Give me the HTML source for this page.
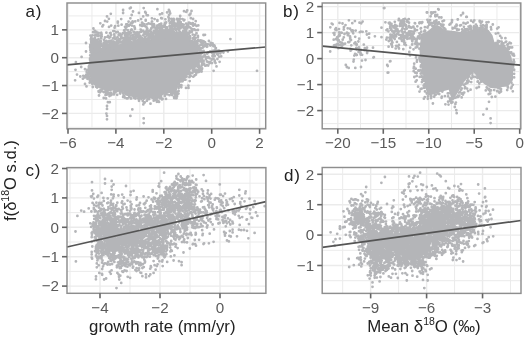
<!DOCTYPE html>
<html><head><meta charset="utf-8"><style>
html,body{margin:0;padding:0;background:#fff;width:525px;height:337px;overflow:hidden}
svg{display:block;filter:blur(0.4px)}
text{font-family:'Liberation Sans',sans-serif}
</style></head><body>
<svg width="525" height="337" viewBox="0 0 525 337">
<rect width="525" height="337" fill="#fff"/>
<rect x="67" y="3" width="198.70" height="125.80" fill="#fff"/>
<line x1="91.95" y1="3.00" x2="91.95" y2="128.80" stroke="#EBEBEB" stroke-width="1.0" />
<line x1="139.85" y1="3.00" x2="139.85" y2="128.80" stroke="#EBEBEB" stroke-width="1.0" />
<line x1="187.75" y1="3.00" x2="187.75" y2="128.80" stroke="#EBEBEB" stroke-width="1.0" />
<line x1="235.65" y1="3.00" x2="235.65" y2="128.80" stroke="#EBEBEB" stroke-width="1.0" />
<line x1="67.00" y1="15.92" x2="265.70" y2="15.92" stroke="#EBEBEB" stroke-width="1.0" />
<line x1="67.00" y1="43.78" x2="265.70" y2="43.78" stroke="#EBEBEB" stroke-width="1.0" />
<line x1="67.00" y1="71.62" x2="265.70" y2="71.62" stroke="#EBEBEB" stroke-width="1.0" />
<line x1="67.00" y1="99.48" x2="265.70" y2="99.48" stroke="#EBEBEB" stroke-width="1.0" />
<line x1="67.00" y1="127.33" x2="265.70" y2="127.33" stroke="#EBEBEB" stroke-width="1.0" />
<line x1="68.00" y1="3.00" x2="68.00" y2="128.80" stroke="#EBEBEB" stroke-width="1.4" />
<line x1="115.90" y1="3.00" x2="115.90" y2="128.80" stroke="#EBEBEB" stroke-width="1.4" />
<line x1="163.80" y1="3.00" x2="163.80" y2="128.80" stroke="#EBEBEB" stroke-width="1.4" />
<line x1="211.70" y1="3.00" x2="211.70" y2="128.80" stroke="#EBEBEB" stroke-width="1.4" />
<line x1="259.60" y1="3.00" x2="259.60" y2="128.80" stroke="#EBEBEB" stroke-width="1.4" />
<line x1="67.00" y1="29.85" x2="265.70" y2="29.85" stroke="#EBEBEB" stroke-width="1.4" />
<line x1="67.00" y1="57.70" x2="265.70" y2="57.70" stroke="#EBEBEB" stroke-width="1.4" />
<line x1="67.00" y1="85.55" x2="265.70" y2="85.55" stroke="#EBEBEB" stroke-width="1.4" />
<line x1="67.00" y1="113.40" x2="265.70" y2="113.40" stroke="#EBEBEB" stroke-width="1.4" />
<g fill="#B4B5B8"><polygon points="91.0,46.0 100.0,48.0 106.0,47.0 115.0,45.0 126.0,43.0 146.0,41.0 156.0,37.0 166.0,33.0 176.0,33.0 186.0,36.0 191.0,40.0 195.0,44.0 198.0,48.0 199.5,56.0 200.0,66.0 190.8,69.8 188.9,74.6 184.1,77.4 179.3,81.2 177.4,87.0 176.5,92.7 175.0,96.0 171.7,93.0 167.9,93.0 166.0,93.0 157.4,99.0 153.6,99.5 146.0,97.0 141.2,100.5 138.4,98.0 132.7,97.0 125.0,95.5 123.1,91.0 114.6,90.0 108.9,91.5 107.0,93.0 104.1,90.0 97.4,87.5 92.7,84.0 90.8,79.0 88.0,73.0 87.5,66.0 91.0,60.0 91.0,45.0" fill="#B4B5B8"/><path d="M87.1 69.9h0M193.3 76.7h0M105.5 45.0h0M199.1 66.9h0M177.0 96.4h0M109.2 45.6h0M113.4 44.7h0M128.9 42.6h0M189.7 81.1h0M110.3 44.5h0M90.9 57.6h0M206.8 65.2h0M98.7 91.8h0M82.9 78.7h0M113.9 94.4h0M124.8 42.6h0M91.4 43.3h0M86.2 74.7h0M91.7 41.0h0M202.6 47.8h0M194.6 43.4h0M98.2 44.7h0M91.0 56.6h0M90.5 59.7h0M202.1 68.4h0M202.0 69.1h0M194.5 71.6h0M194.8 70.7h0M192.4 73.0h0M139.2 41.1h0M171.3 94.0h0M110.7 94.5h0M116.7 90.6h0M90.6 55.8h0M189.1 74.3h0M186.6 76.6h0M99.9 46.3h0M118.7 42.8h0M190.7 76.1h0M125.3 41.1h0M110.8 44.5h0M123.6 40.1h0M195.4 71.0h0M83.3 75.8h0M196.0 74.6h0M178.6 87.7h0M109.8 43.5h0M178.6 90.9h0M177.1 95.0h0M97.1 87.6h0M109.5 96.0h0M199.3 71.7h0M87.0 75.2h0M199.1 41.1h0M85.0 83.9h0M143.3 104.4h0M86.7 71.9h0M97.9 46.1h0M181.4 85.2h0M202.1 59.0h0M121.9 41.7h0M189.4 77.2h0M158.4 101.2h0M199.1 69.3h0M113.7 41.6h0M103.6 46.2h0M105.2 45.0h0M195.3 69.7h0M86.5 86.4h0M199.3 46.0h0M188.4 85.7h0M90.8 49.5h0M201.6 71.5h0M175.6 98.0h0M99.0 95.5h0M196.4 72.9h0M107.9 92.8h0M109.4 45.6h0M159.0 101.9h0M115.7 90.2h0M100.5 89.9h0M110.3 45.3h0M192.8 41.7h0M199.9 41.1h0M202.7 64.2h0M97.0 42.9h0M150.5 103.7h0M200.1 61.0h0M176.6 98.1h0M198.7 72.1h0M203.4 64.4h0M196.8 45.3h0M201.6 44.4h0M130.3 40.4h0M200.1 67.7h0M98.4 47.6h0M91.4 45.7h0M126.8 98.4h0M140.1 40.3h0M191.8 40.8h0M87.1 77.6h0M124.8 41.4h0M167.4 94.3h0M200.7 40.4h0M115.5 92.2h0M92.8 87.0h0M200.4 55.5h0M196.1 44.7h0M199.5 50.4h0M114.0 45.0h0M195.3 44.2h0M90.5 47.7h0M90.8 52.3h0M105.1 91.6h0M90.3 45.0h0M113.6 41.6h0M160.0 98.3h0M199.9 61.4h0M109.4 45.3h0M114.0 91.5h0M200.8 44.7h0M93.1 45.3h0M172.1 95.0h0M87.6 72.9h0M85.0 69.2h0M204.3 45.2h0M199.5 69.6h0M111.9 44.3h0M99.9 44.2h0M202.1 62.1h0M107.0 46.7h0M105.4 92.6h0M99.3 44.0h0M93.2 41.9h0M110.7 92.7h0M201.8 44.7h0M91.2 42.0h0M201.6 65.7h0M197.4 70.7h0M190.3 72.7h0M184.3 78.0h0M111.3 95.1h0M117.2 94.8h0M101.3 44.1h0M166.0 98.9h0M201.9 53.0h0M103.7 92.1h0M85.5 76.1h0M93.1 42.7h0M104.9 45.3h0M99.1 46.0h0M164.8 95.9h0M200.2 56.6h0M149.2 99.1h0M175.6 95.0h0M199.7 55.0h0M139.0 100.8h0M123.8 95.4h0M169.5 95.2h0M90.2 55.3h0M105.5 95.1h0M96.3 45.8h0M184.0 78.4h0M123.5 96.0h0M138.3 98.4h0M102.1 46.3h0M106.5 93.3h0M103.8 46.1h0M105.8 45.1h0M200.9 53.1h0M190.7 73.3h0M138.9 99.2h0M98.9 47.3h0M124.8 97.5h0M144.7 102.5h0M131.0 98.5h0M146.9 100.8h0M182.1 80.8h0M200.6 52.9h0M178.6 87.9h0M165.4 94.1h0M177.3 92.3h0M193.6 69.2h0M200.3 55.4h0M155.6 99.7h0M144.6 98.2h0M182.3 80.3h0M108.8 93.1h0M121.7 91.1h0M172.2 93.8h0M92.5 45.8h0M113.5 93.3h0M89.8 78.8h0M182.2 79.8h0M89.8 80.1h0M149.0 98.3h0M108.4 46.3h0M200.4 58.2h0M183.2 78.3h0M184.2 79.6h0M89.3 76.9h0M182.1 79.3h0M111.5 45.7h0M181.3 87.3h0M90.3 46.7h0M129.2 97.0h0M87.4 78.8h0M197.6 46.3h0M156.3 99.9h0M87.8 73.9h0M153.7 100.7h0M89.7 82.7h0M181.2 86.7h0M199.3 53.1h0M179.3 82.0h0M92.4 83.9h0M197.2 46.2h0M156.6 99.2h0M156.9 101.8h0M127.5 98.4h0M112.1 45.5h0M199.4 69.3h0M105.3 46.0h0M86.8 72.2h0M110.9 94.2h0M200.6 51.3h0M166.2 93.6h0M176.3 93.3h0M105.9 45.7h0M90.7 52.4h0M120.2 91.0h0M98.6 91.2h0M178.6 86.4h0M133.8 97.7h0M144.1 98.6h0M91.0 80.2h0M96.5 47.2h0M90.1 80.1h0M179.4 84.8h0M90.2 60.7h0M135.2 97.7h0M90.1 59.5h0M122.8 92.3h0M197.8 47.4h0M120.0 93.2h0M120.2 93.5h0M178.7 83.6h0M106.7 45.8h0M174.2 98.1h0M202.1 60.5h0M109.7 46.2h0M194.2 68.9h0M199.7 58.1h0M162.6 98.9h0M90.4 50.2h0M147.8 98.4h0M200.8 60.4h0M108.8 45.4h0M108.9 45.1h0M117.9 90.4h0M155.1 99.9h0M97.1 46.4h0M180.4 85.4h0M199.7 48.0h0M147.5 99.4h0M201.4 52.4h0M88.9 76.9h0M199.3 50.4h0M96.1 86.8h0M88.0 73.5h0M184.4 78.0h0M161.1 97.1h0M199.4 54.8h0M99.7 47.5h0M185.0 77.0h0M109.1 93.7h0M90.3 81.6h0M198.0 67.0h0M181.1 80.3h0M176.5 93.8h0M165.3 94.6h0M91.1 82.1h0M123.2 93.4h0M179.4 81.8h0M102.3 89.6h0M178.5 93.6h0M117.5 90.8h0M181.6 80.7h0M142.8 101.0h0M143.9 102.1h0M90.1 58.3h0M176.9 92.2h0M176.6 92.4h0M107.4 93.8h0M190.1 75.1h0M105.6 91.6h0M159.5 98.0h0M123.1 97.1h0M90.1 58.5h0M154.3 99.5h0M178.0 86.7h0M88.3 75.8h0M201.3 57.0h0M135.6 98.2h0M192.9 70.2h0M90.1 47.0h0M181.0 81.4h0M194.1 69.7h0M88.0 75.4h0M98.0 46.5h0M185.5 79.7h0M182.6 81.3h0M114.3 93.1h0M109.8 45.9h0M101.4 91.2h0M135.4 98.5h0M195.6 71.4h0M118.4 90.5h0M162.0 99.4h0M117.7 90.9h0M146.5 97.3h0M174.1 97.0h0M214.3 45.4h0M175.0 47.4h0M150.4 47.7h0M122.9 50.6h0M175.3 36.0h0M137.0 48.2h0M147.7 35.0h0M125.2 42.0h0M181.5 50.1h0M180.9 32.6h0M198.3 25.4h0M125.6 47.4h0M147.7 48.5h0M169.1 49.2h0M105.3 47.0h0M182.2 43.9h0M189.3 32.9h0M172.1 44.1h0M177.0 19.0h0M144.9 51.3h0M188.6 47.7h0M171.7 44.4h0M167.2 40.1h0M133.8 47.8h0M149.7 50.5h0M148.1 50.0h0M185.5 38.3h0M175.6 33.3h0M150.7 51.3h0M132.7 22.6h0M141.6 24.9h0M187.9 24.4h0M184.9 33.5h0M91.1 49.6h0M156.0 35.4h0M173.6 35.8h0M117.2 41.6h0M183.9 48.1h0M159.5 33.0h0M170.8 46.1h0M174.2 37.8h0M135.5 39.0h0M166.3 51.9h0M169.2 46.7h0M134.3 26.5h0M134.4 32.4h0M164.3 44.2h0M98.3 45.2h0M181.2 46.4h0M148.3 45.7h0M158.3 48.1h0M175.5 24.4h0M92.1 39.2h0M165.1 33.6h0M167.6 47.5h0M173.7 44.5h0M115.1 38.8h0M166.5 34.1h0M168.1 48.9h0M185.7 51.2h0M172.5 37.1h0M184.7 50.1h0M178.2 50.1h0M174.9 24.9h0M161.2 23.6h0M180.9 50.3h0M140.8 50.0h0M180.8 40.7h0M157.6 47.1h0M164.1 26.9h0M174.1 19.9h0M149.9 37.8h0M113.8 42.7h0M129.8 43.7h0M188.0 52.0h0M113.9 51.1h0M117.8 46.6h0M161.1 44.6h0M118.6 39.9h0M170.7 39.7h0M152.0 24.1h0M151.1 32.2h0M188.9 34.6h0M154.8 38.4h0M126.3 41.2h0M120.2 45.9h0M161.8 29.2h0M163.1 40.4h0M154.9 42.4h0M165.4 23.6h0M188.0 42.1h0M183.9 20.4h0M161.6 32.3h0M151.6 44.3h0M175.5 23.8h0M136.0 40.6h0M139.8 51.6h0M154.7 41.8h0M163.7 45.5h0M94.5 47.1h0M180.4 47.2h0M119.4 51.1h0M176.7 50.0h0M169.4 47.0h0M165.1 40.2h0M130.4 18.3h0M150.3 51.7h0M154.4 31.0h0M137.3 49.3h0M142.5 42.3h0M166.7 28.7h0M183.2 36.5h0M148.2 43.5h0M148.5 23.4h0M158.0 42.5h0M102.1 46.0h0M104.4 49.9h0M154.4 37.9h0M139.6 49.0h0M179.4 22.4h0M101.4 43.9h0M136.0 33.0h0M172.9 26.7h0M125.2 45.0h0M155.5 37.8h0M146.2 39.9h0M161.4 35.8h0M111.1 34.9h0M175.5 48.6h0M158.6 42.4h0M191.9 47.8h0M147.7 32.7h0M161.0 39.7h0M148.5 45.0h0M138.9 43.0h0M149.7 48.8h0M138.4 37.0h0M177.1 37.2h0M186.4 36.6h0M125.1 48.6h0M125.8 49.1h0M125.7 35.0h0M111.6 47.7h0M129.8 38.3h0M176.3 25.7h0M186.3 36.2h0M161.0 26.5h0M157.2 48.8h0M192.0 31.6h0M115.0 48.9h0M123.9 42.4h0M183.5 27.8h0M177.2 38.8h0M125.0 35.4h0M185.5 43.8h0M131.6 43.7h0M173.3 44.7h0M159.3 48.7h0M170.0 36.8h0M167.5 30.1h0M178.0 27.2h0M161.7 37.3h0M146.6 27.5h0M173.9 21.8h0M133.7 38.1h0M149.0 40.6h0M171.4 45.4h0M182.9 46.4h0M109.0 42.1h0M173.2 40.9h0M163.6 37.5h0M165.1 26.7h0M183.3 24.9h0M92.9 40.1h0M185.7 43.7h0M173.0 30.2h0M182.7 34.4h0M186.2 31.2h0M152.9 39.8h0M92.5 35.3h0M178.8 51.5h0M107.4 45.0h0M118.0 47.0h0M180.4 27.5h0M173.5 32.2h0M179.8 46.9h0M164.9 47.4h0M163.0 30.8h0M172.0 23.6h0M93.6 39.9h0M186.9 48.1h0M109.5 44.1h0M123.2 41.9h0M97.4 41.8h0M150.0 35.4h0M140.0 47.1h0M154.4 38.1h0M198.7 47.7h0M178.9 51.4h0M171.9 22.8h0M156.0 32.2h0M132.8 35.0h0M193.2 25.7h0M185.2 35.9h0M101.1 51.1h0M154.1 49.4h0M125.8 50.8h0M132.6 21.5h0M126.5 27.1h0M134.6 45.2h0M172.3 42.0h0M118.8 50.6h0M127.1 49.9h0M169.6 48.5h0M128.5 37.6h0M184.4 27.9h0M99.7 49.3h0M188.5 37.3h0M184.4 19.8h0M192.3 48.5h0M172.2 41.6h0M167.2 38.1h0M156.8 41.1h0M160.0 50.1h0M164.2 31.6h0M145.7 20.0h0M181.3 32.8h0M184.6 44.1h0M137.2 47.2h0M156.9 35.3h0M169.4 36.7h0M174.6 48.9h0M134.9 41.0h0M151.4 28.2h0M189.5 39.1h0M191.0 42.9h0M114.1 38.3h0M148.2 30.9h0M171.7 31.2h0M148.9 44.6h0M171.5 18.9h0M180.7 25.5h0M162.8 33.5h0M197.2 48.9h0M171.1 27.2h0M192.1 24.0h0M203.6 51.0h0M100.5 42.8h0M183.4 35.8h0M110.6 45.3h0M169.6 42.8h0M175.9 46.0h0M129.0 44.8h0M190.1 42.3h0M158.5 50.4h0M177.4 46.7h0M168.3 39.2h0M150.4 37.4h0M181.8 39.2h0M183.1 40.8h0M164.1 31.8h0M143.4 45.0h0M161.2 51.9h0M124.6 46.2h0M123.9 33.2h0M141.0 37.4h0M156.1 28.6h0M169.0 18.4h0M184.8 32.7h0M90.8 47.2h0M152.2 46.1h0M107.3 41.5h0M160.7 30.9h0M141.7 42.1h0M166.1 28.4h0M169.8 44.1h0M168.4 47.9h0M171.0 49.5h0M92.1 49.0h0M174.2 36.3h0M153.6 46.9h0M111.9 42.4h0M185.8 46.1h0M101.5 44.2h0M184.6 27.7h0M155.4 40.7h0M98.6 33.0h0M97.2 51.8h0M127.5 38.5h0M170.5 51.5h0M135.3 48.5h0M175.9 28.8h0M166.9 38.2h0M179.4 36.7h0M181.5 26.5h0M165.2 37.1h0M120.2 47.4h0M161.8 27.8h0M192.5 46.0h0M169.7 30.0h0M95.2 47.9h0M111.3 40.7h0M170.5 26.6h0M170.2 29.3h0M210.3 45.6h0M196.5 25.9h0M142.5 48.4h0M144.3 45.8h0M106.3 41.0h0M130.5 36.0h0M143.2 16.4h0M136.6 49.0h0M155.0 46.5h0M94.6 46.6h0M185.7 45.5h0M185.9 27.1h0M157.5 26.6h0M117.5 48.8h0M172.1 33.4h0M212.7 51.5h0M186.3 11.9h0M183.0 26.3h0M113.8 43.3h0M136.9 37.5h0M142.3 25.9h0M118.9 41.6h0M123.2 48.1h0M126.3 41.6h0M97.3 35.8h0M190.5 13.7h0M171.1 48.2h0M185.7 50.3h0M129.4 50.5h0M175.8 43.1h0M169.0 14.9h0M175.9 41.9h0M189.4 27.1h0M159.7 36.1h0M106.1 42.5h0M164.7 51.0h0M197.3 40.8h0M184.6 47.6h0M203.5 35.0h0M130.7 32.7h0M178.4 29.2h0M170.7 50.6h0M185.9 29.6h0M180.5 32.6h0M144.7 41.1h0M117.0 41.2h0M183.4 47.8h0M156.0 38.0h0M135.6 50.7h0M175.0 23.3h0M159.2 32.2h0M144.4 38.9h0M165.9 31.1h0M103.2 25.1h0M131.6 29.6h0M95.9 51.9h0M125.8 46.6h0M172.2 51.0h0M154.1 41.6h0M129.4 47.3h0M151.9 21.6h0M149.5 46.2h0M162.3 37.4h0M165.8 30.8h0M148.0 33.3h0M163.5 36.7h0M119.8 33.6h0M125.5 38.2h0M159.6 32.4h0M134.2 44.3h0M159.8 34.2h0M130.3 41.1h0M163.0 42.6h0M111.3 46.3h0M159.1 44.0h0M131.8 42.7h0M139.5 51.1h0M163.5 35.1h0M182.5 51.0h0M138.9 33.0h0M185.4 42.3h0M149.0 31.3h0M93.4 51.4h0M124.5 50.6h0M186.8 48.4h0M189.4 32.9h0M180.0 32.2h0M175.9 39.2h0M99.7 48.5h0M175.9 51.7h0M128.6 21.7h0M132.8 46.2h0M170.1 49.5h0M165.3 22.6h0M187.7 44.2h0M111.2 25.6h0M105.2 45.6h0M107.7 46.8h0M166.1 49.6h0M152.0 50.7h0M122.9 47.7h0M160.2 28.2h0M100.7 35.8h0M176.1 44.9h0M104.7 42.0h0M158.5 36.5h0M185.0 32.8h0M156.4 46.6h0M163.1 39.4h0M170.7 32.5h0M166.2 40.2h0M120.7 38.7h0M157.0 29.9h0M184.1 43.9h0M153.3 50.4h0M192.1 50.6h0M100.4 40.7h0M169.3 29.8h0M109.0 26.9h0M164.0 47.2h0M187.4 48.6h0M145.4 38.6h0M100.8 35.4h0M109.3 49.8h0M122.8 33.2h0M128.9 41.2h0M194.0 48.6h0M121.3 35.4h0M160.1 39.4h0M138.8 46.5h0M138.9 50.0h0M190.2 31.9h0M179.3 25.8h0M141.3 43.9h0M181.6 42.8h0M173.3 32.8h0M106.7 43.1h0M138.5 47.3h0M110.0 33.1h0M165.6 42.7h0M156.5 37.5h0M135.7 40.8h0M136.3 36.9h0M114.8 48.4h0M163.4 43.0h0M121.2 37.2h0M157.4 42.8h0M169.5 50.5h0M180.4 45.3h0M162.9 31.5h0M130.3 43.1h0M158.8 46.9h0M126.2 46.7h0M172.2 26.7h0M136.7 34.2h0M185.6 29.7h0M171.6 34.8h0M133.2 51.2h0M144.4 47.9h0M166.5 47.4h0M136.1 44.6h0M183.0 32.4h0M182.1 42.7h0M95.1 45.6h0M192.4 47.1h0M181.7 40.3h0M130.0 24.7h0M121.7 38.0h0M197.9 35.9h0M104.1 48.5h0M141.0 39.4h0M180.5 27.6h0M156.0 44.8h0M108.9 51.4h0M151.7 45.6h0M180.3 46.8h0M166.5 35.2h0M184.5 51.5h0M145.3 37.3h0M154.1 40.6h0M145.9 45.8h0M103.4 47.6h0M166.4 35.9h0M165.4 19.3h0M180.7 27.1h0M175.2 28.9h0M90.5 35.6h0M95.3 44.8h0M136.3 50.5h0M125.9 36.2h0M194.4 52.0h0M190.1 23.1h0M151.3 46.5h0M157.9 44.2h0M137.0 42.5h0M196.7 42.2h0M169.6 44.2h0M168.0 50.9h0M141.3 45.2h0M158.0 51.2h0M175.4 51.7h0M188.4 25.1h0M150.3 23.8h0M124.3 43.3h0M172.7 40.9h0M129.7 46.9h0M153.4 44.7h0M120.2 42.0h0M108.1 35.9h0M182.1 24.3h0M195.7 51.2h0M141.3 38.1h0M167.7 44.1h0M148.9 49.4h0M153.7 49.7h0M172.4 46.6h0M155.2 27.8h0M169.9 30.9h0M101.1 33.0h0M121.5 50.5h0M172.2 47.6h0M162.9 47.8h0M126.2 24.3h0M193.8 41.7h0M186.9 32.8h0M151.1 45.9h0M169.3 48.8h0M126.7 51.3h0M154.6 37.1h0M126.5 33.1h0M93.4 28.5h0M121.6 49.9h0M140.4 51.2h0M174.3 45.5h0M161.4 26.2h0M158.2 43.2h0M170.6 29.2h0M154.7 51.6h0M176.6 45.6h0M178.0 34.4h0M168.1 45.0h0M147.7 43.0h0M140.4 47.2h0M165.2 50.6h0M182.1 46.1h0M142.9 42.4h0M141.8 50.2h0M178.4 50.4h0M100.7 41.4h0M180.0 18.8h0M94.4 44.5h0M162.6 41.4h0M138.2 50.0h0M149.1 45.7h0M173.1 44.7h0M171.6 50.6h0M157.1 37.5h0M148.4 42.5h0M135.2 21.4h0M148.9 44.1h0M181.4 36.8h0M198.2 39.9h0M177.5 25.0h0M183.4 50.9h0M183.6 37.4h0M145.9 46.3h0M164.0 45.2h0M111.9 41.4h0M97.5 42.3h0M130.5 51.2h0M130.4 48.9h0M105.0 37.5h0M173.3 50.3h0M122.8 43.4h0M171.6 43.1h0M177.7 32.9h0M108.3 47.6h0M138.1 20.5h0M122.6 46.2h0M152.8 37.9h0M139.0 50.4h0M152.1 47.0h0M129.5 32.1h0M172.7 51.1h0M175.0 47.2h0M115.1 26.2h0M176.7 24.4h0M150.6 37.9h0M127.4 24.5h0M173.6 29.3h0M112.0 41.7h0M112.7 42.1h0M164.7 25.1h0M154.2 49.9h0M98.3 34.2h0M173.4 39.7h0M162.1 46.4h0M170.0 38.8h0M175.5 36.6h0M157.5 45.0h0M151.9 48.5h0M92.9 46.5h0M112.3 49.7h0M165.7 31.2h0M177.7 20.5h0M187.0 27.0h0M186.6 40.5h0M99.5 48.8h0M140.4 48.3h0M149.4 45.1h0M156.7 38.4h0M157.1 28.2h0M171.0 42.1h0M176.2 38.2h0M159.4 43.6h0M159.0 35.1h0M117.7 31.9h0M181.9 51.8h0M148.7 35.9h0M127.6 40.8h0M151.7 47.2h0M174.8 51.4h0M125.2 51.7h0M163.4 41.3h0M184.0 43.9h0M185.1 47.5h0M168.6 44.3h0M165.9 40.5h0M125.7 49.4h0M168.5 45.1h0M116.4 42.1h0M170.2 31.0h0M194.5 36.9h0M122.7 51.1h0M146.9 34.5h0M158.4 46.3h0M180.7 22.2h0M96.4 45.4h0M153.6 37.5h0M184.1 31.0h0M144.3 46.7h0M157.4 46.5h0M216.3 51.6h0M120.9 48.3h0M182.0 46.1h0M184.2 36.6h0M160.1 29.4h0M158.2 31.2h0M137.0 40.9h0M142.9 40.4h0M159.1 45.2h0M146.3 39.2h0M113.0 38.4h0M182.2 47.4h0M180.8 27.8h0M138.5 35.4h0M155.2 37.4h0M137.0 45.7h0M181.2 43.5h0M195.7 43.8h0M177.5 46.0h0M173.3 44.6h0M170.4 27.4h0M105.1 50.7h0M163.1 51.8h0M142.1 45.9h0M144.9 49.2h0M91.2 50.0h0M163.2 42.0h0M113.8 45.1h0M138.8 34.9h0M132.9 39.5h0M169.6 25.9h0M163.4 34.5h0M193.4 24.3h0M133.2 51.0h0M181.9 46.6h0M94.7 32.4h0M118.9 48.9h0M146.7 15.2h0M106.4 32.7h0M162.5 37.7h0M167.3 27.6h0M158.4 51.8h0M142.8 23.7h0M172.2 31.0h0M145.2 45.4h0M159.8 43.0h0M145.9 49.7h0M171.2 35.6h0M181.9 51.5h0M153.5 32.8h0M91.3 37.5h0M122.5 50.6h0M93.2 38.9h0M178.0 40.2h0M149.2 35.3h0M172.4 47.0h0M133.5 36.6h0M127.9 41.3h0M169.3 45.8h0M175.3 29.2h0M166.1 34.6h0M106.1 51.7h0M187.9 33.3h0M137.9 51.3h0M183.9 40.7h0M163.9 51.6h0M175.1 41.1h0M136.3 36.8h0M141.1 19.1h0M191.4 47.4h0M156.5 36.1h0M160.6 43.8h0M151.7 48.9h0M154.7 37.3h0M168.9 50.0h0M171.4 31.2h0M170.6 46.4h0M157.5 32.9h0M137.3 51.9h0M160.1 48.5h0M166.2 40.9h0M145.7 43.9h0M152.9 38.3h0M158.3 43.4h0M145.6 40.8h0M194.2 29.4h0M133.2 42.5h0M145.4 51.2h0M112.4 48.1h0M178.9 48.1h0M142.1 46.0h0M174.1 32.9h0M166.2 48.1h0M159.1 31.4h0M186.6 46.3h0M193.4 38.7h0M171.8 31.9h0M169.4 43.6h0M189.5 15.0h0M126.8 43.1h0M176.7 28.5h0M173.6 47.9h0M203.6 43.0h0M130.5 44.9h0M197.9 37.0h0M214.8 46.5h0M113.3 31.1h0M94.8 48.8h0M118.4 40.4h0M196.1 44.8h0M159.6 46.1h0M184.9 51.2h0M149.9 47.3h0M154.0 47.7h0M133.5 31.8h0M150.9 35.3h0M179.2 30.2h0M146.0 44.7h0M138.6 51.8h0M156.9 30.5h0M170.7 38.5h0M158.1 43.3h0M149.0 44.4h0M174.4 49.8h0M166.7 27.5h0M210.7 45.0h0M150.3 44.5h0M142.4 51.8h0M186.1 23.6h0M115.9 49.7h0M156.9 34.8h0M169.2 33.4h0M178.8 36.9h0M156.3 38.7h0M153.6 51.4h0M167.7 42.7h0M135.5 51.7h0M191.2 23.9h0M188.8 22.6h0M189.5 37.3h0M190.0 37.1h0M143.4 45.9h0M117.6 37.2h0M156.8 38.0h0M161.0 43.0h0M158.3 45.4h0M184.0 45.2h0M124.3 50.6h0M186.8 43.7h0M168.9 44.4h0M156.6 51.8h0M212.6 43.5h0M180.4 47.6h0M182.0 25.4h0M135.6 51.7h0M175.2 52.0h0M179.1 41.9h0M97.7 35.8h0M135.1 44.8h0M132.4 49.9h0M159.4 24.3h0M98.2 35.9h0M124.3 40.1h0M176.7 40.0h0M189.4 44.4h0M101.9 49.7h0M165.5 49.4h0M178.9 43.0h0M176.6 43.4h0M177.1 32.4h0M149.8 45.3h0M179.5 26.0h0M145.8 13.0h0M187.9 49.4h0M170.2 48.2h0M143.1 30.9h0M155.4 46.8h0M191.7 42.6h0M178.3 36.0h0M183.0 35.6h0M183.3 31.0h0M184.2 35.1h0M137.1 44.2h0M186.8 34.6h0M157.3 43.7h0M96.7 34.6h0M169.8 23.1h0M104.3 43.7h0M175.9 44.8h0M159.8 28.3h0M125.6 29.3h0M164.2 50.3h0M151.9 51.3h0M152.1 21.6h0M144.9 26.1h0M164.0 41.6h0M171.4 51.9h0M179.6 39.2h0M172.7 39.8h0M192.0 50.0h0M120.2 35.4h0M164.4 26.1h0M190.2 38.2h0M183.2 32.0h0M135.2 36.5h0M135.6 44.4h0M136.5 42.6h0M150.9 52.0h0M91.0 39.8h0M189.6 31.3h0M98.4 49.9h0M175.1 41.9h0M145.4 37.0h0M128.0 40.6h0M142.1 22.6h0M146.4 50.1h0M161.6 32.1h0M122.7 37.8h0M176.6 39.3h0M175.8 51.8h0M136.4 34.0h0M129.0 33.9h0M147.8 45.3h0M151.9 47.1h0M167.4 38.5h0M155.3 46.7h0M164.9 41.0h0M142.3 40.0h0M131.0 30.0h0M113.9 46.8h0M149.2 41.2h0M180.0 26.6h0M167.3 41.3h0M162.6 35.1h0M147.3 28.7h0M176.1 43.3h0M133.7 50.9h0M128.2 41.0h0M167.6 33.2h0M177.3 48.8h0M173.5 38.0h0M155.9 44.5h0M132.4 50.3h0M134.1 42.5h0M153.5 45.3h0M179.7 49.9h0M146.5 45.2h0M176.9 44.5h0M139.7 38.0h0M178.3 43.8h0M150.1 43.5h0M189.0 42.4h0M138.5 45.7h0M179.5 37.4h0M175.8 43.2h0M179.9 40.1h0M184.1 36.2h0M124.4 42.7h0M161.9 18.4h0M166.7 39.7h0M173.9 35.5h0M131.4 22.7h0M140.4 35.8h0M121.0 37.9h0M177.4 48.5h0M132.2 45.0h0M196.5 33.2h0M176.3 47.2h0M173.5 51.2h0M158.2 40.1h0M154.2 43.3h0M127.0 33.6h0M150.1 47.3h0M96.2 39.8h0M168.3 44.2h0M157.7 48.3h0M160.3 47.4h0M138.1 44.4h0M140.2 25.2h0M172.8 19.8h0M158.3 45.7h0M157.6 34.8h0M153.0 48.0h0M183.8 37.0h0M155.6 40.7h0M193.6 44.8h0M167.1 43.3h0M194.9 48.2h0M148.3 38.1h0M132.0 25.6h0M173.9 47.5h0M146.3 50.5h0M94.5 40.7h0M112.3 50.4h0M166.0 48.1h0M144.1 32.0h0M141.6 46.3h0M118.2 45.9h0M182.5 19.1h0M171.2 51.8h0M167.5 38.4h0M106.4 50.6h0M95.0 38.0h0M191.4 48.6h0M161.0 33.1h0M163.0 34.1h0M158.3 25.3h0M191.7 51.4h0M145.7 20.7h0M101.2 38.2h0M156.8 47.5h0M93.4 46.8h0M148.4 39.9h0M134.4 48.9h0M168.6 32.6h0M120.2 48.5h0M159.2 28.3h0M189.9 43.0h0M148.9 45.2h0M172.1 45.0h0M175.4 46.1h0M127.1 51.6h0M157.7 51.2h0M112.0 44.8h0M117.6 42.4h0M161.3 36.8h0M110.3 37.0h0M158.1 37.0h0M141.5 49.2h0M172.4 41.7h0M198.2 48.5h0M149.5 48.4h0M134.9 28.8h0M197.4 43.7h0M127.8 34.8h0M135.8 40.9h0M177.1 43.3h0M121.6 24.7h0M136.5 50.0h0M139.6 39.1h0M151.9 33.2h0M170.0 39.5h0M176.6 51.4h0M111.5 41.6h0M188.3 39.8h0M138.2 40.1h0M156.9 47.1h0M177.8 22.7h0M131.7 29.7h0M153.2 41.1h0M155.9 46.3h0M136.2 42.4h0M168.7 48.5h0M168.2 45.7h0M204.9 46.0h0M155.4 30.4h0M175.9 49.6h0M149.5 44.6h0M176.6 46.2h0M159.2 35.6h0M151.9 18.3h0M96.5 41.2h0M171.4 34.3h0M147.4 44.7h0M190.1 36.2h0M181.0 51.6h0M161.4 37.6h0M193.1 19.0h0M122.2 47.5h0M189.7 50.0h0M147.0 29.9h0M156.2 32.9h0M173.7 19.0h0M180.6 39.5h0M172.4 51.0h0M169.0 41.0h0M177.5 46.8h0M133.8 32.0h0M159.7 45.1h0M137.7 51.8h0M157.1 48.6h0M101.3 32.9h0M112.4 42.5h0M187.0 24.7h0M159.1 37.7h0M194.0 45.7h0M189.4 47.3h0M163.6 52.0h0M184.5 38.5h0M123.6 45.2h0M137.3 32.8h0M126.8 37.1h0M179.1 49.1h0M176.6 37.4h0M165.4 34.8h0M185.5 47.8h0M152.8 51.0h0M164.2 47.6h0M144.3 33.9h0M182.7 51.5h0M166.7 39.9h0M168.2 42.7h0M157.3 34.5h0M178.8 19.2h0M192.0 50.8h0M182.7 40.8h0M138.6 34.3h0M152.5 48.7h0M174.7 26.5h0M185.6 43.5h0M151.5 51.3h0M161.3 38.5h0M127.5 47.6h0M195.2 34.8h0M153.2 25.8h0M154.3 49.7h0M171.1 47.2h0M170.6 47.1h0M94.0 50.4h0M110.6 32.9h0M180.6 47.8h0M127.6 35.9h0M169.6 11.4h0M195.0 24.5h0M160.0 25.8h0M104.6 50.8h0M174.0 41.1h0M184.5 30.8h0M155.5 49.0h0M136.3 42.8h0M191.4 46.0h0M114.5 43.1h0M172.7 36.8h0M187.8 45.0h0M191.7 31.9h0M149.1 44.7h0M159.4 47.1h0M143.3 23.9h0M157.6 51.8h0M163.5 50.7h0M176.9 39.2h0M162.9 45.3h0M129.7 40.3h0M133.9 48.6h0M144.4 44.7h0M152.4 42.9h0M176.2 50.1h0M148.2 35.6h0M155.5 36.3h0M170.5 42.4h0M127.8 46.4h0M127.2 50.9h0M181.6 35.4h0M149.3 39.5h0M130.6 39.3h0M148.0 39.2h0M170.3 51.5h0M142.5 38.3h0M178.5 24.0h0M186.0 49.8h0M150.3 48.9h0M146.7 35.4h0M155.4 51.8h0M148.6 42.6h0M102.2 45.3h0M128.2 50.1h0M179.8 23.1h0M135.8 48.2h0M96.2 48.0h0M160.6 38.2h0M157.9 50.4h0M150.3 30.6h0M179.3 44.9h0M131.8 42.6h0M128.3 40.8h0M138.3 36.4h0M149.7 48.0h0M133.6 44.9h0M159.7 33.3h0M157.7 45.9h0M153.2 33.6h0M105.2 47.4h0M115.0 46.0h0M202.0 47.8h0M190.1 43.5h0M114.2 51.2h0M156.3 45.3h0M183.7 46.8h0M157.0 51.8h0M144.0 43.9h0M121.7 34.6h0M195.3 50.8h0M180.4 38.8h0M188.3 46.2h0M137.1 45.8h0M91.0 45.6h0M155.7 34.2h0M169.4 32.9h0M212.5 50.9h0M170.0 35.9h0M163.5 47.3h0M118.7 34.7h0M182.1 35.7h0M119.6 45.9h0M152.5 25.8h0M173.4 51.5h0M139.6 43.8h0M167.7 48.4h0M134.4 38.6h0M137.5 47.6h0M180.5 28.1h0M172.4 36.8h0M160.7 36.0h0M150.8 34.9h0M181.6 46.6h0M141.8 47.0h0M167.1 51.5h0M107.0 51.6h0M189.5 37.1h0M155.3 43.1h0M171.8 28.4h0M143.3 25.3h0M154.1 48.6h0M155.3 51.9h0M166.9 27.3h0M153.8 24.1h0M127.9 37.8h0M109.3 40.9h0M159.3 50.3h0M170.2 44.5h0M107.0 16.4h0M103.9 39.8h0M138.2 42.8h0M172.2 25.3h0M109.7 42.2h0M166.6 37.5h0M98.5 39.2h0M148.2 45.5h0M162.8 37.1h0M159.3 51.1h0M102.4 26.4h0M127.4 43.1h0M178.9 39.0h0M163.9 50.8h0M118.0 49.5h0M180.0 51.9h0M153.8 24.2h0M130.4 38.8h0M193.2 49.6h0M115.6 47.0h0M159.5 39.2h0M181.5 45.8h0M117.8 22.7h0M170.0 39.4h0M183.5 45.2h0M184.7 40.8h0M124.6 48.0h0M164.4 46.1h0M124.4 40.0h0M192.0 49.0h0M133.5 51.2h0M180.2 25.7h0M143.0 41.0h0M180.3 34.3h0M91.0 39.6h0M179.1 42.2h0M157.3 27.4h0M181.9 49.5h0M163.7 40.8h0M139.3 37.6h0M174.4 32.6h0M129.8 8.3h0M137.8 50.6h0M187.0 36.8h0M116.9 41.3h0M164.8 23.9h0M176.3 47.7h0M119.4 49.1h0M153.8 30.9h0M170.4 34.4h0M184.1 41.3h0M176.1 38.7h0M176.5 35.5h0M168.2 36.1h0M145.2 51.0h0M183.0 46.0h0M138.9 12.9h0M162.5 47.6h0M127.0 41.0h0M180.3 42.1h0M157.6 48.0h0M178.2 34.8h0M171.9 25.4h0M159.8 28.2h0M167.8 45.6h0M159.3 46.3h0M169.6 39.8h0M146.2 39.0h0M150.5 36.7h0M108.6 44.9h0M159.5 51.0h0M136.4 43.6h0M164.7 45.4h0M162.1 25.8h0M172.4 42.5h0M193.0 38.1h0M111.7 46.5h0M99.6 46.0h0M166.1 31.8h0M158.6 34.0h0M93.1 32.2h0M108.2 50.2h0M197.9 30.0h0M153.1 42.1h0M183.7 24.8h0M153.9 40.9h0M170.7 49.3h0M96.5 32.0h0M180.3 44.0h0M192.2 49.7h0M128.1 49.6h0M107.4 49.6h0M159.8 49.8h0M190.4 42.1h0M141.2 31.8h0M117.2 49.0h0M98.2 42.0h0M150.4 45.2h0M109.9 42.3h0M191.0 44.4h0M173.8 32.2h0M191.2 28.4h0M103.8 42.6h0M164.7 40.3h0M107.5 36.9h0M176.7 46.0h0M119.1 50.1h0M178.1 35.3h0M137.4 50.3h0M175.8 51.2h0M160.2 48.1h0M162.1 13.5h0M130.7 38.1h0M128.5 32.2h0M127.0 51.7h0M129.2 40.8h0M156.1 33.3h0M107.2 21.6h0M145.1 44.8h0M171.3 51.7h0M162.6 47.7h0M101.0 37.6h0M149.8 31.1h0M127.2 46.2h0M157.3 29.3h0M141.9 25.9h0M156.6 34.6h0M182.2 48.2h0M143.3 43.8h0M161.8 42.2h0M96.9 35.3h0M159.4 40.8h0M118.3 25.7h0M157.2 25.6h0M163.7 25.9h0M173.1 44.5h0M177.9 50.7h0M168.9 39.2h0M154.3 26.1h0M182.1 48.5h0M117.7 51.1h0M153.9 45.1h0M176.3 42.7h0M128.9 47.1h0M159.4 38.7h0M180.0 41.1h0M192.9 29.3h0M119.2 47.3h0M124.1 30.5h0M186.9 42.7h0M125.4 32.7h0M180.2 16.0h0M96.1 44.0h0M146.7 48.2h0M120.5 45.8h0M168.6 38.9h0M176.1 30.0h0M154.5 49.7h0M169.7 45.5h0M160.5 49.2h0M141.5 48.0h0M114.2 34.5h0M149.4 31.4h0M185.0 34.1h0M179.3 49.0h0M95.9 50.0h0M158.8 39.5h0M148.1 41.1h0M175.4 42.0h0M152.4 45.1h0M165.9 49.3h0M115.5 47.3h0M134.3 41.4h0M156.4 32.5h0M116.3 32.3h0M167.1 43.9h0M133.5 47.0h0M159.9 31.9h0M129.4 44.6h0M185.9 35.4h0M176.1 46.2h0M128.8 40.2h0M104.2 51.4h0M187.1 36.2h0M97.9 50.1h0M192.0 30.4h0M183.7 38.3h0M172.4 25.2h0M186.0 38.3h0M144.3 24.1h0M160.9 50.1h0M176.2 34.1h0M125.0 26.8h0M187.2 10.5h0M132.0 51.4h0M114.5 36.4h0M169.0 46.3h0M140.7 29.6h0M97.3 51.4h0M116.3 44.5h0M192.8 34.6h0M190.2 27.6h0M138.9 43.4h0M167.4 39.2h0M126.7 45.8h0M155.4 27.7h0M142.4 48.3h0M194.8 43.2h0M145.7 50.4h0M120.6 48.9h0M154.2 50.8h0M134.6 32.5h0M131.7 35.4h0M147.0 24.3h0M137.7 47.0h0M174.9 46.3h0M135.3 34.1h0M117.4 48.1h0M143.8 51.1h0M150.8 29.6h0M154.9 50.3h0M168.4 17.1h0M96.5 44.4h0M166.8 32.0h0M178.1 47.1h0M187.5 51.7h0M127.7 30.1h0M165.3 41.5h0M163.2 46.4h0M137.8 49.4h0M187.7 47.6h0M160.4 38.4h0M91.6 42.0h0M149.7 34.5h0M137.3 32.5h0M119.8 50.2h0M164.5 49.5h0M178.4 23.0h0M148.3 46.9h0M176.5 40.1h0M195.9 42.4h0M185.4 43.2h0M163.8 46.5h0M157.4 20.9h0M129.7 42.1h0M177.3 51.0h0M105.3 42.2h0M194.7 40.0h0M153.2 36.0h0M192.7 23.1h0M186.6 26.5h0M187.2 38.3h0M160.7 37.0h0M159.1 31.9h0M94.9 30.8h0M155.4 46.6h0M174.3 46.2h0M143.6 35.1h0M151.5 37.6h0M186.1 27.4h0M123.0 43.1h0M151.3 33.8h0M154.2 25.0h0M147.1 39.6h0M166.3 47.0h0M143.5 39.6h0M121.7 49.1h0M177.5 46.3h0M173.8 48.8h0M143.2 44.8h0M159.9 14.3h0M195.7 21.2h0M94.5 42.8h0M116.1 38.6h0M114.3 31.1h0M121.4 45.3h0M187.3 28.3h0M138.3 44.8h0M113.7 38.1h0M138.4 51.3h0M163.2 44.4h0M141.7 41.5h0M172.3 41.4h0M137.3 34.7h0M147.9 48.6h0M170.7 43.5h0M169.8 50.8h0M134.8 27.9h0M157.3 47.8h0M147.5 42.5h0M100.7 41.1h0M162.6 32.4h0M152.9 39.4h0M155.1 46.6h0M179.4 21.2h0M156.2 40.3h0M95.0 35.4h0M175.7 47.5h0M119.7 41.1h0M127.6 51.4h0M142.8 30.8h0M175.8 39.9h0M134.9 32.8h0M175.2 35.7h0M91.9 45.1h0M101.6 34.5h0M164.0 33.2h0M150.3 44.2h0M171.4 21.7h0M161.0 44.8h0M184.1 45.7h0M151.2 36.4h0M162.4 37.3h0M158.7 50.4h0M134.8 49.0h0M145.2 12.0h0M181.7 33.9h0M143.8 31.7h0M151.5 51.3h0M100.5 49.3h0M115.0 50.6h0M148.9 51.4h0M144.3 46.1h0M129.0 34.2h0M171.7 47.9h0M154.7 50.9h0M143.0 44.0h0M164.0 30.5h0M192.1 51.2h0M125.0 38.0h0M113.3 50.9h0M166.6 45.8h0M122.5 47.1h0M137.2 37.2h0M153.3 27.3h0M118.9 39.5h0M154.4 41.8h0M150.6 44.8h0M187.2 50.9h0M172.7 48.7h0M156.0 32.1h0M192.4 51.5h0M184.0 11.2h0M133.8 40.7h0M164.3 47.2h0M117.3 44.6h0M146.4 31.2h0M136.7 50.7h0M171.7 40.5h0M180.3 45.2h0M184.3 36.6h0M137.3 37.1h0M119.3 47.0h0M151.8 41.8h0M134.4 45.5h0M183.0 42.4h0M169.8 29.3h0M157.4 33.7h0M165.6 51.2h0M121.6 44.5h0M138.1 46.6h0M184.5 44.7h0M174.4 32.4h0M153.4 43.9h0M185.2 47.0h0M172.9 26.6h0M159.3 47.9h0M172.0 42.1h0M156.6 50.0h0M91.7 38.6h0M184.2 43.7h0M111.3 51.3h0M142.5 50.1h0M162.8 36.3h0M143.3 35.4h0M153.7 45.9h0M112.3 48.9h0M99.6 50.1h0M147.9 47.6h0M114.0 46.4h0M175.2 48.5h0M122.6 44.6h0M165.0 49.1h0M144.0 40.0h0M111.0 51.9h0M133.1 37.9h0M167.7 51.8h0M151.9 35.2h0M127.0 40.0h0M167.5 31.7h0M127.0 42.5h0M132.3 46.1h0M166.1 22.5h0M96.5 50.4h0M197.1 42.9h0M145.4 32.5h0M101.7 36.4h0M163.4 37.8h0M163.8 33.8h0M119.5 47.9h0M163.0 36.3h0M183.1 43.9h0M170.2 35.2h0M156.3 46.6h0M156.7 36.0h0M167.1 12.4h0M143.7 34.5h0M150.0 47.3h0M170.0 50.2h0M165.8 44.3h0M162.3 37.8h0M203.7 41.5h0M174.3 41.1h0M107.6 45.9h0M165.0 47.6h0M109.7 44.1h0M144.5 43.8h0M168.9 20.7h0M160.1 31.6h0M161.9 33.8h0M160.9 29.0h0M168.0 50.3h0M106.7 47.3h0M186.4 51.8h0M129.5 51.2h0M90.9 39.1h0M184.8 47.9h0M164.1 50.4h0M139.4 32.4h0M109.3 37.7h0M123.3 43.6h0M152.2 33.2h0M179.6 41.7h0M173.9 24.1h0M182.0 42.2h0M152.4 38.7h0M138.3 51.6h0M163.6 25.6h0M144.9 43.7h0M164.7 51.1h0M139.8 41.3h0M170.6 47.3h0M166.8 30.5h0M173.3 31.4h0M170.4 34.8h0M160.0 43.8h0M149.5 43.9h0M183.4 40.4h0M169.7 50.9h0M153.8 40.5h0M191.5 11.0h0M179.2 35.8h0M213.3 55.2h0M205.9 59.2h0M208.2 65.6h0M212.3 44.5h0M213.5 58.6h0M206.6 65.3h0M206.7 58.0h0M203.2 46.2h0M212.0 63.1h0M221.7 51.7h0M209.6 63.3h0M209.6 63.2h0M214.4 50.4h0M207.2 53.7h0M213.7 53.9h0M217.7 51.7h0M202.0 64.2h0M200.9 50.8h0M200.5 48.9h0M219.1 50.7h0M215.6 50.1h0M211.9 52.9h0M203.2 47.0h0M208.3 62.2h0M203.6 60.9h0M215.6 48.8h0M201.0 61.1h0M201.2 44.7h0M204.8 55.3h0M219.1 56.7h0M204.1 63.6h0M208.4 56.8h0M219.2 52.8h0M214.2 53.5h0M208.4 52.5h0M202.3 41.0h0M201.4 51.5h0M205.0 42.2h0M217.6 54.5h0M211.8 59.6h0M207.9 44.3h0M200.3 53.2h0M204.1 41.8h0M201.8 43.1h0M207.3 46.4h0M219.6 61.8h0M203.3 56.5h0M210.3 62.0h0M214.7 61.5h0M200.5 60.3h0M209.4 58.2h0M201.8 53.3h0M213.4 55.7h0M205.2 65.7h0M214.7 60.4h0M223.4 52.6h0M204.6 55.0h0M203.4 64.3h0M213.3 46.1h0M212.5 56.1h0M207.0 61.5h0M202.2 63.5h0M206.3 43.8h0M218.1 50.6h0M217.2 54.0h0M205.3 56.6h0M210.6 43.9h0M214.7 55.9h0M210.2 51.3h0M215.5 51.9h0M157.4 9.2h0M143.7 8.1h0M130.8 7.7h0M123.1 10.0h0M133.0 11.5h0M123.1 13.0h0M110.8 13.8h0M131.7 15.0h0M147.9 15.3h0M100.3 23.3h0M105.0 21.0h0M108.9 18.8h0M117.8 21.6h0M114.6 27.7h0M121.2 19.1h0M128.9 25.8h0M86.0 43.0h0M90.4 48.7h0M86.0 51.5h0M81.6 56.9h0M75.9 62.2h0M154.6 19.1h0M157.4 20.1h0M161.2 18.2h0M168.9 10.0h0M170.2 13.4h0M190.8 18.2h0M195.5 30.2h0M205.0 34.8h0M195.5 38.2h0M201.2 42.0h0M208.9 41.0h0M210.8 43.0h0M207.0 46.8h0M215.9 48.1h0M212.7 51.1h0M220.3 53.4h0M221.2 56.3h0M227.9 51.5h0M230.4 39.1h0M217.4 59.1h0M211.7 59.1h0M209.8 63.0h0M215.5 63.0h0M206.0 57.2h0M107.0 94.6h0M106.0 98.4h0M107.9 102.2h0M107.0 106.0h0M109.8 102.2h0M107.0 108.9h0M106.4 113.6h0M107.0 115.9h0M107.0 119.3h0M75.5 69.8h0M77.0 74.6h0M80.3 76.5h0M75.1 80.3h0M81.2 67.0h0M85.0 77.4h0M99.9 92.3h0M103.7 98.0h0M132.3 109.4h0M130.4 115.9h0M143.7 118.4h0M143.7 123.1h0M154.0 98.8h0M124.1 92.7h0M186.0 87.9h0M188.5 87.9h0M200.7 70.8h0M213.6 70.8h0M216.5 66.4h0M257.0 70.8h0M194.6 75.5h0M196.5 69.8h0" stroke="#B4B5B8" stroke-width="2.8" stroke-linecap="round" fill="none"/></g>
<line x1="67.00" y1="64.90" x2="265.70" y2="47.00" stroke="#555555" stroke-width="1.7" />
<rect x="67" y="3" width="198.70" height="125.80" fill="none" stroke="#8E8E8E" stroke-width="1.45"/>
<line x1="68.00" y1="128.80" x2="68.00" y2="133.80" stroke="#666" stroke-width="1.6" />
<text x="68.00" y="148.30" font-size="15.2" fill="#5A5A5A" text-anchor="middle" >−6</text>
<line x1="115.90" y1="128.80" x2="115.90" y2="133.80" stroke="#666" stroke-width="1.6" />
<text x="115.90" y="148.30" font-size="15.2" fill="#5A5A5A" text-anchor="middle" >−4</text>
<line x1="163.80" y1="128.80" x2="163.80" y2="133.80" stroke="#666" stroke-width="1.6" />
<text x="163.80" y="148.30" font-size="15.2" fill="#5A5A5A" text-anchor="middle" >−2</text>
<line x1="211.70" y1="128.80" x2="211.70" y2="133.80" stroke="#666" stroke-width="1.6" />
<text x="211.70" y="148.30" font-size="15.2" fill="#5A5A5A" text-anchor="middle" >0</text>
<line x1="259.60" y1="128.80" x2="259.60" y2="133.80" stroke="#666" stroke-width="1.6" />
<text x="259.60" y="148.30" font-size="15.2" fill="#5A5A5A" text-anchor="middle" >2</text>
<line x1="62.00" y1="29.85" x2="67.00" y2="29.85" stroke="#666" stroke-width="1.6" />
<text x="59.00" y="35.05" font-size="15.2" fill="#5A5A5A" text-anchor="end" >1</text>
<line x1="62.00" y1="57.70" x2="67.00" y2="57.70" stroke="#666" stroke-width="1.6" />
<text x="59.00" y="62.90" font-size="15.2" fill="#5A5A5A" text-anchor="end" >0</text>
<line x1="62.00" y1="85.55" x2="67.00" y2="85.55" stroke="#666" stroke-width="1.6" />
<text x="59.00" y="90.75" font-size="15.2" fill="#5A5A5A" text-anchor="end" >−1</text>
<line x1="62.00" y1="113.40" x2="67.00" y2="113.40" stroke="#666" stroke-width="1.6" />
<text x="59.00" y="118.60" font-size="15.2" fill="#5A5A5A" text-anchor="end" >−2</text>
<rect x="322.2" y="3" width="198.60" height="125.80" fill="#fff"/>
<line x1="360.54" y1="3.00" x2="360.54" y2="128.80" stroke="#EBEBEB" stroke-width="1.0" />
<line x1="406.01" y1="3.00" x2="406.01" y2="128.80" stroke="#EBEBEB" stroke-width="1.0" />
<line x1="451.49" y1="3.00" x2="451.49" y2="128.80" stroke="#EBEBEB" stroke-width="1.0" />
<line x1="496.96" y1="3.00" x2="496.96" y2="128.80" stroke="#EBEBEB" stroke-width="1.0" />
<line x1="322.20" y1="19.60" x2="520.80" y2="19.60" stroke="#EBEBEB" stroke-width="1.0" />
<line x1="322.20" y1="45.60" x2="520.80" y2="45.60" stroke="#EBEBEB" stroke-width="1.0" />
<line x1="322.20" y1="71.60" x2="520.80" y2="71.60" stroke="#EBEBEB" stroke-width="1.0" />
<line x1="322.20" y1="97.60" x2="520.80" y2="97.60" stroke="#EBEBEB" stroke-width="1.0" />
<line x1="322.20" y1="123.60" x2="520.80" y2="123.60" stroke="#EBEBEB" stroke-width="1.0" />
<line x1="337.80" y1="3.00" x2="337.80" y2="128.80" stroke="#EBEBEB" stroke-width="1.4" />
<line x1="383.28" y1="3.00" x2="383.28" y2="128.80" stroke="#EBEBEB" stroke-width="1.4" />
<line x1="428.75" y1="3.00" x2="428.75" y2="128.80" stroke="#EBEBEB" stroke-width="1.4" />
<line x1="474.23" y1="3.00" x2="474.23" y2="128.80" stroke="#EBEBEB" stroke-width="1.4" />
<line x1="519.70" y1="3.00" x2="519.70" y2="128.80" stroke="#EBEBEB" stroke-width="1.4" />
<line x1="322.20" y1="6.60" x2="520.80" y2="6.60" stroke="#EBEBEB" stroke-width="1.4" />
<line x1="322.20" y1="32.60" x2="520.80" y2="32.60" stroke="#EBEBEB" stroke-width="1.4" />
<line x1="322.20" y1="58.60" x2="520.80" y2="58.60" stroke="#EBEBEB" stroke-width="1.4" />
<line x1="322.20" y1="84.60" x2="520.80" y2="84.60" stroke="#EBEBEB" stroke-width="1.4" />
<line x1="322.20" y1="110.60" x2="520.80" y2="110.60" stroke="#EBEBEB" stroke-width="1.4" />
<g fill="#B4B5B8"><polygon points="421.0,34.0 428.0,31.0 432.5,27.0 437.2,25.0 441.0,27.0 444.9,30.0 454.4,31.0 463.9,32.6 473.4,29.0 483.0,28.0 488.7,30.0 492.5,35.3 494.4,42.0 502.0,45.8 507.7,47.7 511.5,57.2 513.0,66.0 513.0,80.0 508.0,86.5 502.0,87.0 496.0,88.5 490.6,88.0 484.9,84.5 479.1,80.0 475.0,74.0 473.4,72.5 467.7,77.4 463.9,82.2 460.1,88.9 455.3,96.5 451.5,99.3 448.7,89.8 441.0,91.7 433.4,94.6 427.7,95.5 425.8,88.9 423.9,77.4 421.6,69.5 420.5,61.2 419.5,50.8 420.5,40.4 421.0,30.0" fill="#B4B5B8"/><path d="M467.9 82.4h0M480.8 25.7h0M448.8 93.3h0M513.7 59.9h0M497.1 91.2h0M422.1 73.6h0M499.4 92.8h0M423.7 76.6h0M507.8 87.0h0M425.1 30.8h0M432.7 23.3h0M470.9 29.1h0M513.1 66.4h0M479.6 28.3h0M425.0 91.4h0M476.6 88.0h0M419.5 58.6h0M427.0 93.3h0M444.0 20.6h0M415.7 68.7h0M469.6 28.7h0M467.6 78.1h0M465.5 31.4h0M498.6 27.3h0M474.3 20.4h0M427.9 96.4h0M477.5 78.1h0M457.8 95.6h0M499.7 88.4h0M512.5 54.3h0M473.1 22.0h0M441.4 25.8h0M424.8 97.1h0M470.6 89.7h0M514.2 62.0h0M468.7 29.6h0M434.9 95.1h0M479.3 83.5h0M464.2 84.9h0M468.6 26.6h0M457.1 30.1h0M420.8 66.7h0M438.9 22.5h0M442.4 26.6h0M423.7 85.7h0M454.3 27.9h0M419.5 57.6h0M413.4 26.7h0M425.3 86.2h0M417.3 46.2h0M421.2 31.6h0M417.1 47.0h0M462.5 93.2h0M419.5 91.6h0M470.3 25.9h0M450.3 24.0h0M416.0 57.4h0M416.9 61.8h0M441.8 96.7h0M435.7 94.7h0M509.7 52.3h0M489.1 89.0h0M503.4 46.0h0M427.8 26.7h0M514.1 70.0h0M509.6 42.7h0M416.7 75.9h0M463.2 30.9h0M463.4 84.7h0M423.6 78.9h0M472.5 76.0h0M449.9 98.3h0M481.2 81.7h0M503.5 45.8h0M448.1 101.7h0M415.7 47.6h0M442.7 25.9h0M431.0 98.2h0M469.3 76.4h0M454.6 97.9h0M420.7 89.0h0M456.0 97.4h0M424.9 30.6h0M459.3 95.6h0M427.5 27.5h0M471.2 78.3h0M511.2 52.5h0M471.2 82.1h0M494.2 90.1h0M413.7 71.2h0M430.9 96.1h0M501.4 45.2h0M464.8 88.3h0M467.1 88.6h0M422.0 72.0h0M447.8 93.4h0M463.7 32.1h0M420.6 70.0h0M460.0 91.8h0M498.7 41.7h0M421.0 28.2h0M414.9 43.6h0M452.6 99.2h0M504.4 45.9h0M451.4 102.9h0M420.5 38.2h0M513.1 67.1h0M419.9 59.8h0M514.1 73.8h0M461.3 89.5h0M421.0 65.3h0M465.1 87.1h0M511.4 82.6h0M512.8 55.2h0M437.8 93.4h0M424.9 87.5h0M420.1 43.9h0M414.0 66.7h0M480.8 22.8h0M486.7 27.1h0M415.6 81.7h0M433.7 96.6h0M418.3 36.3h0M419.4 22.6h0M498.8 91.6h0M461.7 97.4h0M421.9 82.1h0M452.7 28.6h0M471.5 78.5h0M501.6 38.0h0M444.3 28.2h0M512.8 62.5h0M498.1 42.7h0M498.6 41.7h0M503.4 43.4h0M512.8 84.8h0M498.4 88.2h0M468.3 80.4h0M413.7 68.2h0M470.6 28.9h0M478.9 87.0h0M482.5 27.3h0M507.4 44.7h0M424.7 30.6h0M413.5 49.3h0M470.7 26.5h0M500.8 89.0h0M410.0 55.4h0M462.0 32.2h0M514.1 77.4h0M488.3 88.9h0M422.3 79.8h0M445.4 29.4h0M479.7 20.8h0M486.7 24.9h0M467.0 83.1h0M498.2 33.2h0M449.5 24.7h0M450.2 100.0h0M509.3 47.3h0M499.0 42.0h0M451.1 98.7h0M476.0 24.6h0M484.8 28.4h0M482.4 26.8h0M496.3 42.9h0M448.1 96.3h0M420.3 34.5h0M419.7 76.9h0M427.4 19.8h0M477.3 27.7h0M510.3 47.4h0M513.8 62.8h0M512.8 91.3h0M486.6 29.0h0M465.6 83.7h0M497.2 28.6h0M477.6 81.7h0M414.2 63.7h0M508.2 44.1h0M479.7 21.5h0M454.0 97.7h0M445.4 104.3h0M513.4 61.9h0M501.0 91.5h0M434.2 96.8h0M414.8 30.8h0M416.7 80.3h0M482.9 25.1h0M455.4 103.9h0M456.8 25.5h0M418.0 36.7h0M456.7 28.8h0M428.6 22.5h0M473.8 28.3h0M512.1 47.4h0M435.1 23.9h0M432.9 103.5h0M471.1 20.7h0M466.9 30.4h0M441.6 97.8h0M439.2 94.0h0M458.8 29.7h0M432.5 26.2h0M514.1 69.6h0M513.0 66.0h0M511.0 53.1h0M498.1 40.8h0M442.8 24.6h0M411.8 39.6h0M469.9 27.8h0M470.6 27.4h0M508.0 87.4h0M415.1 68.5h0M513.5 54.0h0M497.8 43.2h0M414.3 77.0h0M424.0 87.8h0M423.9 98.7h0M424.1 80.8h0M501.6 43.8h0M507.9 47.0h0M490.3 93.5h0M513.0 62.3h0M416.7 72.9h0M462.1 29.5h0M499.4 41.3h0M452.7 28.0h0M461.7 88.4h0M438.0 22.6h0M465.7 23.7h0M492.8 24.5h0M473.4 76.8h0M417.0 60.1h0M472.3 73.5h0M514.1 55.7h0M475.6 76.8h0M478.0 81.5h0M430.8 95.3h0M505.7 42.0h0M416.7 46.8h0M455.4 26.3h0M448.5 104.6h0M508.7 49.2h0M476.1 27.1h0M486.7 87.5h0M434.6 25.8h0M461.7 93.7h0M481.2 26.9h0M467.0 80.8h0M491.2 29.4h0M456.9 97.2h0M468.7 81.4h0M511.1 88.3h0M458.9 92.6h0M489.9 90.8h0M491.8 97.0h0M467.0 29.2h0M495.8 33.6h0M490.9 27.2h0M418.1 86.7h0M426.8 93.5h0M510.9 43.3h0M442.3 91.5h0M424.6 84.2h0M467.8 30.0h0M420.4 61.6h0M429.0 21.6h0M511.7 86.7h0M439.0 23.4h0M421.6 88.7h0M464.9 29.2h0M427.8 98.8h0M475.9 27.5h0M415.3 72.7h0M495.4 96.7h0M464.2 92.6h0M417.1 43.8h0M507.2 90.0h0M501.0 89.0h0M419.4 33.3h0M473.6 27.6h0M403.9 21.7h0M399.0 48.6h0M388.8 23.0h0M416.6 40.9h0M400.7 22.4h0M420.7 28.6h0M412.6 35.9h0M396.2 45.8h0M409.9 33.4h0M396.9 41.9h0M391.8 45.0h0M394.9 31.5h0M413.8 33.5h0M405.9 45.1h0M396.6 25.8h0M398.8 48.1h0M410.1 27.2h0M401.4 30.7h0M395.7 48.4h0M390.4 34.6h0M403.8 40.0h0M403.3 49.2h0M400.2 23.9h0M411.5 34.6h0M405.0 18.8h0M391.3 37.6h0M409.3 38.4h0M419.4 48.7h0M410.2 47.7h0M419.4 23.3h0M419.7 38.5h0M410.8 35.8h0M391.1 43.8h0M386.3 39.6h0M397.2 34.1h0M404.4 44.3h0M392.9 26.4h0M391.5 24.0h0M386.5 30.2h0M403.4 19.4h0M407.5 35.7h0M390.2 27.9h0M411.9 38.3h0M413.7 39.0h0M406.7 28.7h0M407.2 20.1h0M398.9 44.9h0M411.1 27.4h0M402.7 35.6h0M387.4 29.3h0M398.7 20.2h0M417.2 43.1h0M414.1 37.7h0M420.9 38.0h0M398.9 19.0h0M392.2 46.8h0M412.7 31.6h0M394.8 21.8h0M413.6 33.1h0M419.4 35.9h0M404.0 19.5h0M414.8 23.2h0M416.9 39.4h0M404.0 40.7h0M417.0 30.1h0M391.8 35.8h0M403.8 25.5h0M388.8 41.0h0M390.1 39.5h0M399.3 38.3h0M392.1 41.8h0M406.5 33.3h0M391.3 28.5h0M392.5 42.6h0M395.0 26.3h0M412.1 44.5h0M390.9 29.9h0M395.1 24.9h0M416.4 43.9h0M413.1 37.3h0M408.4 34.8h0M417.6 38.1h0M391.8 41.0h0M385.4 22.3h0M408.8 19.2h0M390.6 35.2h0M415.8 41.6h0M417.3 26.3h0M399.8 25.9h0M386.9 37.7h0M394.7 39.1h0M409.1 31.3h0M418.4 43.9h0M407.6 35.9h0M398.2 46.5h0M415.1 23.4h0M414.9 38.9h0M412.3 41.3h0M416.8 46.7h0M404.0 23.2h0M403.0 36.5h0M404.0 42.0h0M414.6 28.8h0M399.2 34.8h0M405.0 43.0h0M395.3 35.0h0M409.3 51.9h0M388.6 46.7h0M401.2 36.7h0M410.9 31.5h0M402.8 28.4h0M404.3 37.9h0M398.8 31.5h0M410.9 27.6h0M391.9 35.1h0M400.7 24.5h0M394.1 37.9h0M390.8 38.2h0M409.8 35.1h0M391.3 38.4h0M404.4 36.4h0M401.1 35.3h0M401.4 39.2h0M396.1 36.4h0M402.5 35.6h0M409.0 22.7h0M395.3 31.2h0M403.2 21.3h0M390.7 24.7h0M404.7 31.8h0M402.0 40.9h0M396.9 26.3h0M390.2 26.3h0M402.3 29.2h0M405.2 29.3h0M401.4 35.2h0M402.0 31.6h0M407.2 38.5h0M403.1 33.4h0M395.7 34.7h0M410.9 35.5h0M408.6 32.9h0M408.6 32.6h0M405.0 24.3h0M390.8 28.8h0M389.5 23.2h0M406.2 37.4h0M406.3 26.7h0M392.3 35.4h0M389.5 37.7h0M393.2 31.6h0M392.5 36.7h0M393.3 26.4h0M395.7 28.9h0M411.5 27.7h0M398.1 33.3h0M394.5 35.9h0M412.0 34.4h0M405.9 25.1h0M396.5 34.5h0M406.5 37.8h0M406.8 21.5h0M402.4 26.6h0M410.3 32.3h0M405.6 35.7h0M388.4 31.3h0M411.5 38.3h0M409.2 27.3h0M397.4 31.4h0M405.0 36.4h0M402.0 37.3h0M408.9 35.0h0M401.3 20.6h0M411.4 36.9h0M392.5 30.9h0M401.7 40.0h0M391.0 38.6h0M405.4 29.0h0M403.1 22.2h0M401.2 25.1h0M393.7 33.2h0M403.9 36.2h0M390.0 38.0h0M391.4 39.1h0M401.5 23.1h0M397.5 29.5h0M403.2 23.2h0M389.3 23.6h0M391.2 25.3h0M407.2 38.8h0M392.2 36.7h0M395.1 27.4h0M391.4 24.2h0M389.6 22.6h0M389.9 23.0h0M397.9 31.6h0M407.5 21.8h0M394.3 27.8h0M409.0 26.0h0M392.3 31.2h0M358.4 41.5h0M359.5 22.7h0M367.1 53.0h0M361.2 23.3h0M369.2 33.7h0M336.0 39.2h0M352.7 32.0h0M367.0 47.7h0M333.7 39.7h0M330.3 27.3h0M356.8 44.5h0M350.4 48.8h0M342.7 39.7h0M342.5 43.5h0M332.7 24.3h0M341.9 46.3h0M356.5 44.8h0M343.5 44.3h0M345.5 25.1h0M355.1 53.9h0M367.3 51.4h0M334.4 34.8h0M358.9 47.5h0M342.5 23.5h0M341.8 42.6h0M365.9 49.9h0M356.6 49.3h0M344.5 34.0h0M366.3 31.3h0M366.9 34.5h0M364.4 50.2h0M362.6 31.8h0M369.0 37.7h0M356.8 54.9h0M354.9 21.1h0M360.8 53.5h0M338.4 48.2h0M341.2 32.6h0M336.0 46.7h0M338.4 36.5h0M333.6 33.1h0M334.0 45.5h0M364.8 48.2h0M359.2 38.7h0M352.3 23.2h0M348.9 20.3h0M339.5 22.9h0M331.7 23.6h0M360.8 31.6h0M354.3 55.6h0M355.7 30.6h0M351.4 30.6h0M356.6 55.0h0M359.8 32.2h0M363.8 44.6h0M359.9 52.4h0M362.1 54.8h0M360.6 53.3h0M350.6 50.7h0M353.5 61.6h0M365.5 60.0h0M358.6 51.9h0M360.4 50.7h0M351.4 49.7h0M360.6 54.5h0M359.3 49.7h0M362.0 60.6h0M360.9 49.9h0M353.8 59.7h0M356.3 47.8h0M366.1 50.0h0M430.4 24.4h0M436.4 20.4h0M430.6 16.3h0M428.1 22.0h0M437.6 24.0h0M436.8 15.8h0M431.2 12.5h0M431.5 13.8h0M439.1 17.4h0M435.3 15.2h0M441.4 17.5h0M429.4 24.7h0M435.3 16.3h0M435.2 12.1h0M435.6 23.3h0M431.3 23.0h0M424.3 31.4h0M463.5 23.0h0M424.9 27.2h0M457.5 29.8h0M481.4 22.1h0M443.5 24.8h0M461.1 25.1h0M434.3 21.3h0M456.5 24.6h0M488.5 22.1h0M476.8 26.1h0M421.7 23.1h0M420.0 22.4h0M436.0 26.3h0M481.8 27.8h0M486.5 22.3h0M436.3 22.9h0M460.1 25.5h0M483.9 30.3h0M473.9 26.5h0M422.3 22.2h0M451.8 22.3h0M474.3 28.0h0M485.1 25.8h0M442.5 21.3h0M433.0 22.9h0M440.7 24.5h0M430.1 20.1h0M478.6 30.5h0M441.6 32.4h0M350.0 36.5h0M337.4 38.1h0M335.2 29.4h0M350.0 28.7h0M338.7 44.9h0M343.8 29.5h0M348.3 42.2h0M334.9 45.1h0M352.6 30.5h0M336.0 28.2h0M339.2 32.4h0M350.3 39.1h0M340.5 45.2h0M343.8 37.3h0M343.9 27.2h0M339.0 29.1h0M355.4 42.4h0M350.2 37.7h0M347.1 33.2h0M354.4 43.4h0M339.3 34.4h0M336.7 44.4h0M337.8 40.6h0M350.2 38.8h0M345.1 43.7h0M337.7 43.7h0M352.5 31.7h0M337.0 37.5h0M348.5 33.7h0M334.4 32.9h0M338.7 40.2h0M347.8 35.2h0M353.2 33.3h0M353.0 31.0h0M336.4 30.2h0M351.0 40.1h0M355.2 36.8h0M349.3 42.0h0M340.4 44.8h0M339.8 35.5h0M347.0 32.6h0M340.0 42.1h0M351.3 45.3h0M341.8 32.8h0M347.7 28.3h0M383.9 8.1h0M330.2 51.5h0M373.4 57.6h0M345.8 64.9h0M362.6 21.6h0M438.2 9.2h0M426.8 12.5h0M433.4 12.5h0M437.2 15.0h0M463.0 13.0h0M461.0 15.3h0M466.8 16.9h0M452.1 20.7h0M457.8 19.5h0M467.7 22.6h0M482.0 21.6h0M463.9 26.8h0M500.1 35.9h0M505.4 38.2h0M501.6 41.6h0M506.2 41.6h0M346.8 67.0h0M348.7 67.9h0M355.3 67.9h0M361.0 67.0h0M387.7 72.7h0M387.7 66.0h0M419.0 70.8h0M420.7 73.6h0M421.4 76.5h0M444.9 96.1h0M450.6 101.2h0M452.5 102.2h0M455.9 102.6h0M458.2 96.9h0M463.0 94.6h0M468.1 91.1h0M454.8 107.0h0M456.3 110.2h0M456.7 113.2h0M485.8 90.4h0M488.7 89.8h0M491.0 90.4h0M488.7 94.2h0M490.2 93.6h0M489.0 101.8h0M486.8 108.9h0M483.3 114.6h0M490.6 118.4h0M490.6 123.1h0M387.3 65.3h0M390.4 61.2h0M388.3 72.6h0M418.4 70.5h0M421.6 72.6h0M422.6 76.8h0M384.4 8.1h0M427.2 12.5h0M438.7 9.6h0M463.0 13.4h0M466.3 16.9h0M374.9 36.3h0M381.5 37.2h0M381.5 27.7h0M452.0 20.1h0M457.7 19.5h0M387.2 64.9h0M390.0 61.4h0M373.9 57.2h0M373.0 47.7h0" stroke="#B4B5B8" stroke-width="2.8" stroke-linecap="round" fill="none"/></g>
<line x1="322.20" y1="46.10" x2="520.80" y2="65.20" stroke="#555555" stroke-width="1.7" />
<rect x="322.2" y="3" width="198.60" height="125.80" fill="none" stroke="#8E8E8E" stroke-width="1.45"/>
<line x1="337.80" y1="128.80" x2="337.80" y2="133.80" stroke="#666" stroke-width="1.6" />
<text x="337.80" y="148.30" font-size="15.2" fill="#5A5A5A" text-anchor="middle" >−20</text>
<line x1="383.28" y1="128.80" x2="383.28" y2="133.80" stroke="#666" stroke-width="1.6" />
<text x="383.28" y="148.30" font-size="15.2" fill="#5A5A5A" text-anchor="middle" >−15</text>
<line x1="428.75" y1="128.80" x2="428.75" y2="133.80" stroke="#666" stroke-width="1.6" />
<text x="428.75" y="148.30" font-size="15.2" fill="#5A5A5A" text-anchor="middle" >−10</text>
<line x1="474.23" y1="128.80" x2="474.23" y2="133.80" stroke="#666" stroke-width="1.6" />
<text x="474.23" y="148.30" font-size="15.2" fill="#5A5A5A" text-anchor="middle" >−5</text>
<line x1="519.70" y1="128.80" x2="519.70" y2="133.80" stroke="#666" stroke-width="1.6" />
<text x="519.70" y="148.30" font-size="15.2" fill="#5A5A5A" text-anchor="middle" >0</text>
<line x1="317.20" y1="6.60" x2="322.20" y2="6.60" stroke="#666" stroke-width="1.6" />
<text x="314.20" y="11.80" font-size="15.2" fill="#5A5A5A" text-anchor="end" >2</text>
<line x1="317.20" y1="32.60" x2="322.20" y2="32.60" stroke="#666" stroke-width="1.6" />
<text x="314.20" y="37.80" font-size="15.2" fill="#5A5A5A" text-anchor="end" >1</text>
<line x1="317.20" y1="58.60" x2="322.20" y2="58.60" stroke="#666" stroke-width="1.6" />
<text x="314.20" y="63.80" font-size="15.2" fill="#5A5A5A" text-anchor="end" >0</text>
<line x1="317.20" y1="84.60" x2="322.20" y2="84.60" stroke="#666" stroke-width="1.6" />
<text x="314.20" y="89.80" font-size="15.2" fill="#5A5A5A" text-anchor="end" >−1</text>
<line x1="317.20" y1="110.60" x2="322.20" y2="110.60" stroke="#666" stroke-width="1.6" />
<text x="314.20" y="115.80" font-size="15.2" fill="#5A5A5A" text-anchor="end" >−2</text>
<rect x="67" y="167.6" width="198.90" height="125.70" fill="#fff"/>
<line x1="70.00" y1="167.60" x2="70.00" y2="293.30" stroke="#EBEBEB" stroke-width="1.0" />
<line x1="130.00" y1="167.60" x2="130.00" y2="293.30" stroke="#EBEBEB" stroke-width="1.0" />
<line x1="190.00" y1="167.60" x2="190.00" y2="293.30" stroke="#EBEBEB" stroke-width="1.0" />
<line x1="250.00" y1="167.60" x2="250.00" y2="293.30" stroke="#EBEBEB" stroke-width="1.0" />
<line x1="67.00" y1="183.20" x2="265.90" y2="183.20" stroke="#EBEBEB" stroke-width="1.0" />
<line x1="67.00" y1="212.60" x2="265.90" y2="212.60" stroke="#EBEBEB" stroke-width="1.0" />
<line x1="67.00" y1="242.00" x2="265.90" y2="242.00" stroke="#EBEBEB" stroke-width="1.0" />
<line x1="67.00" y1="271.40" x2="265.90" y2="271.40" stroke="#EBEBEB" stroke-width="1.0" />
<line x1="100.00" y1="167.60" x2="100.00" y2="293.30" stroke="#EBEBEB" stroke-width="1.4" />
<line x1="160.00" y1="167.60" x2="160.00" y2="293.30" stroke="#EBEBEB" stroke-width="1.4" />
<line x1="220.00" y1="167.60" x2="220.00" y2="293.30" stroke="#EBEBEB" stroke-width="1.4" />
<line x1="67.00" y1="168.50" x2="265.90" y2="168.50" stroke="#EBEBEB" stroke-width="1.4" />
<line x1="67.00" y1="197.90" x2="265.90" y2="197.90" stroke="#EBEBEB" stroke-width="1.4" />
<line x1="67.00" y1="227.30" x2="265.90" y2="227.30" stroke="#EBEBEB" stroke-width="1.4" />
<line x1="67.00" y1="256.70" x2="265.90" y2="256.70" stroke="#EBEBEB" stroke-width="1.4" />
<line x1="67.00" y1="286.10" x2="265.90" y2="286.10" stroke="#EBEBEB" stroke-width="1.4" />
<g fill="#B4B5B8"><path d="M112.3 213.4h0M168.3 224.9h0M134.5 232.1h0M148.4 236.8h0M93.9 209.2h0M130.6 239.7h0M178.4 188.0h0M164.4 257.3h0M142.2 227.3h0M132.9 241.6h0M111.1 230.9h0M112.0 227.2h0M162.0 250.6h0M188.4 215.0h0M133.3 232.0h0M170.6 197.5h0M220.6 209.8h0M114.1 240.9h0M171.5 229.9h0M189.3 180.8h0M151.8 253.6h0M214.8 199.7h0M150.6 216.5h0M149.4 239.1h0M166.8 205.2h0M135.5 243.3h0M145.8 223.4h0M122.0 251.2h0M168.9 198.0h0M192.8 209.6h0M167.2 261.9h0M146.7 223.1h0M103.0 216.7h0M187.1 203.7h0M131.8 217.3h0M182.4 216.6h0M136.8 197.3h0M109.0 226.2h0M113.4 236.9h0M239.7 217.9h0M123.6 256.8h0M120.4 235.7h0M148.4 241.2h0M116.2 206.2h0M149.2 222.4h0M99.5 216.0h0M131.5 248.5h0M112.8 248.4h0M130.1 239.2h0M163.3 221.1h0M111.2 241.2h0M111.6 223.8h0M129.7 223.6h0M146.9 228.0h0M126.4 249.9h0M158.3 221.6h0M97.7 232.9h0M128.6 235.3h0M160.3 230.6h0M193.8 212.0h0M110.0 236.1h0M224.8 234.1h0M172.7 230.8h0M128.2 227.3h0M192.5 199.9h0M140.5 250.4h0M101.6 228.0h0M119.9 250.6h0M121.2 262.1h0M155.4 243.8h0M147.6 220.1h0M109.4 250.1h0M98.7 256.6h0M115.7 246.3h0M141.5 215.7h0M104.3 252.1h0M171.3 189.5h0M132.2 245.4h0M115.3 257.2h0M105.5 230.2h0M119.3 257.8h0M115.1 219.7h0M173.3 217.4h0M116.3 219.0h0M102.8 219.7h0M112.0 248.5h0M241.2 230.2h0M109.0 248.0h0M156.5 243.2h0M187.6 184.2h0M124.9 234.2h0M250.2 209.1h0M138.3 256.8h0M101.5 202.8h0M110.7 254.3h0M96.4 220.9h0M162.2 239.9h0M137.3 238.3h0M124.3 227.1h0M143.1 252.5h0M117.3 202.7h0M165.8 187.9h0M146.2 217.8h0M158.6 222.7h0M121.5 242.1h0M131.5 225.4h0M185.5 202.3h0M184.6 203.1h0M166.0 200.9h0M121.3 257.2h0M115.8 243.5h0M186.0 196.0h0M132.8 227.3h0M113.4 233.7h0M116.9 245.5h0M98.6 227.5h0M142.0 242.9h0M186.0 204.3h0M119.0 276.8h0M125.6 233.1h0M237.0 236.3h0M127.6 236.1h0M110.5 248.2h0M175.6 208.1h0M141.7 226.0h0M157.7 216.5h0M112.8 249.6h0M124.2 238.6h0M167.1 247.5h0M167.2 243.3h0M156.2 244.8h0M98.5 250.5h0M106.9 233.0h0M103.9 222.8h0M171.0 216.5h0M124.8 253.3h0M93.6 228.9h0M199.5 196.3h0M165.6 235.2h0M111.6 238.4h0M238.7 215.8h0M164.3 231.1h0M108.8 250.6h0M114.6 222.1h0M130.9 223.2h0M116.1 257.7h0M164.3 213.5h0M156.1 207.0h0M118.0 239.3h0M119.2 231.9h0M138.1 241.2h0M131.6 204.3h0M110.3 235.6h0M94.4 232.8h0M174.2 222.2h0M204.1 222.4h0M104.4 240.3h0M134.1 222.8h0M183.2 222.6h0M109.5 234.7h0M156.9 236.1h0M165.0 205.4h0M107.5 242.0h0M186.5 194.5h0M187.7 198.4h0M107.7 251.6h0M164.0 249.7h0M133.0 243.5h0M113.3 237.8h0M179.2 239.3h0M134.9 238.2h0M163.4 242.8h0M121.0 233.3h0M138.9 225.9h0M153.6 245.0h0M169.7 219.0h0M129.6 230.8h0M117.4 236.2h0M164.1 208.1h0M103.2 226.9h0M163.9 209.7h0M114.1 241.5h0M176.9 216.0h0M112.0 234.9h0M116.9 267.3h0M164.8 224.2h0M105.0 244.4h0M129.4 232.0h0M167.6 224.1h0M131.9 223.1h0M127.5 266.7h0M138.2 209.7h0M159.3 229.6h0M102.5 260.4h0M164.8 246.5h0M113.2 208.4h0M202.4 218.3h0M133.0 243.4h0M209.2 207.4h0M150.3 274.4h0M134.2 233.3h0M136.2 262.5h0M148.7 252.5h0M101.1 247.6h0M128.6 244.1h0M103.5 246.2h0M154.8 231.8h0M232.6 232.4h0M167.3 242.1h0M109.0 213.3h0M124.5 230.4h0M127.2 229.4h0M144.5 215.2h0M199.1 239.8h0M149.9 208.8h0M149.2 219.5h0M108.2 262.0h0M202.9 193.8h0M224.7 218.2h0M116.6 209.2h0M181.8 195.9h0M100.1 233.3h0M141.5 256.5h0M197.6 208.9h0M128.4 246.4h0M120.8 259.9h0M154.9 212.2h0M168.0 198.6h0M165.7 194.7h0M196.5 216.8h0M117.4 235.9h0M169.7 207.1h0M205.7 214.1h0M164.3 233.1h0M165.1 234.6h0M118.5 246.7h0M130.3 235.7h0M111.4 228.9h0M166.6 227.3h0M112.6 234.2h0M199.0 211.9h0M94.2 227.1h0M165.9 236.1h0M115.3 258.5h0M101.7 226.9h0M158.4 200.7h0M136.3 238.8h0M182.7 228.2h0M153.5 244.4h0M164.5 239.1h0M201.4 212.4h0M102.1 214.5h0M160.8 221.1h0M138.0 250.7h0M113.6 259.7h0M125.8 237.1h0M170.4 222.9h0M144.3 243.9h0M222.6 202.7h0M180.1 229.7h0M123.4 250.7h0M126.3 231.0h0M171.3 209.8h0M93.9 198.6h0M159.3 230.5h0M187.7 204.7h0M149.1 238.0h0M147.5 230.0h0M190.3 184.7h0M144.7 214.6h0M104.9 219.3h0M232.8 201.1h0M189.8 219.7h0M119.0 220.9h0M211.1 193.9h0M129.8 244.6h0M142.4 244.7h0M188.3 195.0h0M205.9 223.1h0M174.7 206.0h0M134.2 245.2h0M117.6 236.6h0M160.2 243.7h0M178.4 214.7h0M171.8 200.7h0M132.5 243.0h0M114.2 215.4h0M111.6 238.7h0M200.7 226.6h0M127.1 210.1h0M162.5 231.1h0M174.0 205.6h0M149.2 230.1h0M148.3 244.8h0M158.6 236.6h0M119.0 242.5h0M140.4 262.8h0M165.4 245.7h0M163.5 224.2h0M196.9 226.5h0M96.3 215.9h0M213.6 241.8h0M143.2 250.0h0M224.7 215.6h0M100.9 235.4h0M226.2 220.9h0M105.5 229.8h0M142.7 246.3h0M139.3 241.1h0M195.9 218.6h0M193.0 223.8h0M136.4 219.5h0M127.6 200.6h0M181.8 201.9h0M156.4 223.5h0M151.6 223.0h0M109.8 225.6h0M144.9 244.1h0M120.2 236.1h0M179.8 194.3h0M148.6 225.2h0M123.1 257.5h0M148.3 243.2h0M184.6 200.6h0M122.2 216.9h0M104.1 247.5h0M155.6 225.7h0M186.1 210.3h0M212.7 204.3h0M105.6 248.8h0M177.3 190.7h0M114.7 231.1h0M143.8 222.3h0M142.4 226.1h0M155.4 246.3h0M122.3 218.7h0M161.4 228.9h0M108.4 228.2h0M110.8 249.9h0M96.8 245.5h0M106.2 223.7h0M120.6 240.9h0M119.0 229.8h0M170.7 205.7h0M103.5 212.1h0M101.2 213.5h0M99.7 237.9h0M127.6 221.7h0M135.7 231.3h0M95.9 279.3h0M111.5 236.8h0M164.8 225.8h0M178.3 198.8h0M212.1 207.5h0M148.3 219.0h0M148.1 214.9h0M104.2 222.7h0M180.9 207.4h0M107.6 245.7h0M133.4 237.4h0M113.2 238.8h0M164.1 223.7h0M109.0 217.7h0M108.9 224.3h0M159.5 208.4h0M160.8 213.1h0M139.6 245.8h0M124.4 257.4h0M136.5 199.5h0M139.1 268.4h0M132.1 237.8h0M181.1 190.9h0M197.0 209.6h0M143.4 211.4h0M172.0 201.4h0M144.3 259.7h0M255.9 212.4h0M185.6 214.1h0M164.5 217.5h0M103.0 266.3h0M108.8 253.5h0M166.4 207.0h0M103.5 209.4h0M117.0 235.5h0M136.6 245.0h0M124.1 260.0h0M143.0 250.7h0M103.3 230.4h0M110.6 259.9h0M153.6 243.8h0M136.6 268.1h0M109.7 243.6h0M169.6 209.4h0M133.4 225.8h0M197.3 207.4h0M104.2 247.9h0M107.6 264.7h0M174.7 227.5h0M167.5 230.0h0M166.9 229.2h0M111.2 194.4h0M100.8 241.6h0M149.6 239.6h0M112.8 205.0h0M163.1 202.4h0M155.6 225.4h0M113.0 236.7h0M224.2 208.2h0M124.5 227.4h0M137.8 235.1h0M142.4 276.2h0M139.6 232.6h0M95.9 248.9h0M158.2 218.0h0M156.9 225.0h0M174.0 207.8h0M108.2 245.4h0M154.8 245.3h0M149.4 230.5h0M103.2 249.1h0M188.0 223.7h0M182.3 223.3h0M99.6 233.1h0M111.0 232.3h0M144.0 237.1h0M137.3 236.6h0M187.6 213.5h0M91.9 234.8h0M150.8 226.4h0M102.3 246.6h0M115.6 244.1h0M143.6 196.5h0M238.9 229.7h0M139.3 252.2h0M207.2 218.0h0M115.4 226.1h0M161.6 229.9h0M158.4 256.8h0M158.3 242.7h0M133.6 244.2h0M107.3 203.2h0M166.0 234.1h0M110.7 227.0h0M100.2 230.6h0M101.9 236.9h0M151.9 218.8h0M167.3 246.0h0M126.3 258.8h0M182.6 215.4h0M132.4 249.9h0M194.8 240.0h0M122.4 243.6h0M151.8 231.2h0M106.9 228.4h0M99.5 222.5h0M104.4 219.7h0M164.5 215.8h0M96.7 215.9h0M159.1 183.6h0M96.4 256.4h0M113.1 205.7h0M189.5 196.5h0M145.2 234.6h0M203.5 212.4h0M135.5 220.0h0M98.1 217.1h0M126.3 258.9h0M202.5 235.2h0M141.6 242.1h0M142.6 219.9h0M119.9 238.8h0M113.5 249.7h0M189.7 233.7h0M190.2 183.6h0M173.0 196.1h0M137.4 263.3h0M126.2 240.4h0M114.9 237.5h0M178.2 189.6h0M119.5 238.4h0M105.6 220.5h0M122.9 208.6h0M108.8 243.3h0M114.6 238.9h0M114.1 251.2h0M162.7 224.7h0M98.9 253.6h0M112.9 215.6h0M107.7 262.8h0M188.7 201.5h0M147.4 221.8h0M108.8 224.7h0M135.6 231.9h0M163.1 244.8h0M134.0 219.2h0M146.1 219.4h0M142.5 238.8h0M120.8 249.1h0M139.9 226.9h0M207.5 225.4h0M226.9 223.3h0M109.7 231.0h0M126.2 263.9h0M113.5 224.8h0M165.3 203.1h0M186.9 210.8h0M176.0 205.1h0M122.0 246.9h0M179.6 213.4h0M153.9 232.0h0M162.1 227.0h0M186.5 219.5h0M124.2 250.5h0M111.6 218.3h0M116.2 228.6h0M106.1 250.7h0M182.1 206.8h0M105.6 251.1h0M158.0 200.6h0M143.8 234.1h0M183.2 182.5h0M120.6 256.8h0M174.6 190.4h0M137.6 237.2h0M127.3 240.7h0M163.3 202.5h0M159.0 228.5h0M185.0 227.4h0M181.9 195.4h0M128.9 235.4h0M175.0 197.2h0M121.7 253.9h0M128.7 228.2h0M136.2 245.2h0M191.4 204.0h0M103.8 243.5h0M172.5 229.8h0M136.0 228.5h0M171.3 226.7h0M101.7 228.9h0M152.4 233.9h0M148.6 215.4h0M188.4 197.4h0M201.1 201.6h0M148.1 224.2h0M102.3 254.6h0M180.6 215.9h0M180.2 210.7h0M167.8 226.2h0M107.8 241.2h0M105.4 215.0h0M165.9 192.5h0M112.6 241.3h0M132.3 220.8h0M162.8 253.4h0M149.4 222.9h0M165.2 221.9h0M172.8 187.9h0M176.0 244.4h0M200.9 219.0h0M181.3 202.1h0M113.2 253.0h0M184.4 242.2h0M131.5 231.1h0M138.6 225.3h0M192.3 223.6h0M156.3 243.4h0M92.6 202.9h0M132.6 246.4h0M203.6 175.1h0M156.9 201.7h0M146.7 200.7h0M119.5 222.2h0M179.0 261.2h0M186.8 195.3h0M187.0 216.9h0M108.5 208.7h0M114.2 255.2h0M195.2 190.8h0M109.4 214.4h0M106.8 227.6h0M202.2 230.2h0M119.2 263.6h0M121.1 237.3h0M155.5 221.7h0M159.4 230.6h0M178.4 189.8h0M92.7 224.4h0M225.8 226.3h0M129.4 228.5h0M165.2 228.5h0M163.5 223.4h0M111.5 255.4h0M128.0 247.4h0M162.9 252.7h0M115.1 225.8h0M133.4 257.5h0M235.0 214.4h0M189.5 204.9h0M183.5 195.5h0M123.7 221.1h0M104.5 211.1h0M162.9 245.8h0M110.3 239.4h0M188.8 210.4h0M97.0 240.8h0M114.6 229.1h0M121.9 248.2h0M106.5 223.2h0M133.5 234.3h0M136.0 249.0h0M107.0 249.2h0M106.7 243.5h0M133.3 216.1h0M130.1 277.8h0M175.8 205.4h0M106.9 236.4h0M163.4 226.6h0M126.5 251.7h0M157.9 208.2h0M153.5 240.7h0M111.0 237.1h0M163.0 202.9h0M103.5 232.5h0M163.7 215.7h0M160.2 195.9h0M124.0 247.8h0M109.5 236.1h0M113.2 203.8h0M133.4 258.1h0M105.0 235.0h0M111.7 244.6h0M149.7 212.3h0M165.9 228.3h0M170.8 256.4h0M140.3 208.5h0M113.8 256.4h0M112.3 242.9h0M169.4 204.9h0M138.9 205.0h0M126.3 245.7h0M190.2 197.1h0M179.1 192.6h0M158.8 202.7h0M153.9 224.9h0M116.4 227.2h0M168.8 212.1h0M109.5 246.5h0M187.3 200.6h0M160.1 230.5h0M153.8 223.8h0M204.2 207.2h0M195.6 213.6h0M171.2 241.1h0M136.8 240.3h0M128.7 221.7h0M158.8 240.3h0M207.6 193.4h0M204.4 199.2h0M174.4 206.7h0M166.6 228.9h0M146.7 257.0h0M96.6 221.6h0M154.6 223.6h0M172.0 184.5h0M120.9 268.1h0M177.1 199.6h0M120.4 236.2h0M123.9 249.9h0M142.4 228.7h0M189.5 184.3h0M163.1 220.8h0M132.6 250.6h0M179.8 228.7h0M186.2 224.2h0M164.5 229.4h0M123.7 228.5h0M221.2 200.3h0M174.8 202.0h0M123.1 242.5h0M100.2 245.0h0M168.0 214.9h0M121.3 247.2h0M134.4 230.4h0M187.9 218.1h0M139.8 236.0h0M149.1 246.0h0M95.8 211.0h0M112.4 208.3h0M114.6 252.9h0M185.4 185.1h0M164.6 247.2h0M180.7 187.6h0M173.4 221.2h0M113.7 194.6h0M112.1 239.1h0M133.4 220.5h0M115.6 217.8h0M195.8 184.7h0M101.6 252.5h0M99.3 211.1h0M170.3 225.7h0M121.2 232.5h0M162.7 198.1h0M100.2 243.9h0M156.1 217.3h0M107.3 249.7h0M165.1 235.9h0M177.0 204.3h0M154.8 198.0h0M184.4 190.0h0M186.6 233.7h0M130.4 226.3h0M170.1 187.0h0M147.2 225.9h0M129.8 236.0h0M153.5 243.0h0M188.3 189.9h0M187.2 202.3h0M105.5 246.9h0M184.0 233.4h0M182.2 202.2h0M174.5 227.2h0M182.5 210.8h0M195.4 211.3h0M118.8 242.7h0M130.9 208.3h0M113.7 250.1h0M162.6 242.4h0M125.4 238.8h0M159.4 227.0h0M152.9 223.0h0M129.9 232.7h0M95.0 230.4h0M110.0 238.6h0M180.6 197.2h0M102.4 223.7h0M116.8 242.7h0M156.6 208.5h0M227.9 218.3h0M163.4 233.0h0M106.8 217.7h0M119.0 236.6h0M138.7 232.4h0M210.2 219.1h0M120.4 240.5h0M130.8 243.5h0M106.2 225.9h0M189.8 209.1h0M106.6 214.8h0M105.8 244.9h0M107.8 216.6h0M117.5 249.2h0M111.5 238.9h0M175.6 213.6h0M163.7 232.1h0M112.1 264.0h0M166.5 230.2h0M163.3 228.6h0M107.5 215.1h0M188.4 176.6h0M144.9 262.5h0M116.0 224.7h0M168.0 190.0h0M138.5 255.2h0M123.8 237.7h0M153.8 220.9h0M99.7 231.2h0M135.0 251.9h0M139.8 243.5h0M120.2 222.0h0M145.8 211.9h0M250.3 209.6h0M141.7 238.5h0M206.0 212.1h0M166.4 238.2h0M122.9 260.7h0M134.6 249.5h0M180.2 206.3h0M198.2 210.5h0M148.2 217.0h0M207.6 198.9h0M176.5 207.5h0M144.6 235.7h0M171.2 229.4h0M144.7 245.3h0M140.3 220.5h0M125.6 239.4h0M123.8 241.0h0M159.9 249.4h0M129.3 226.8h0M111.0 238.4h0M158.6 208.8h0M120.0 216.7h0M178.4 213.6h0M165.1 199.4h0M110.7 226.6h0M101.8 241.7h0M216.8 207.4h0M136.2 232.2h0M176.2 196.0h0M115.8 240.2h0M116.1 218.7h0M133.0 215.7h0M244.5 201.3h0M136.2 245.0h0M179.3 203.2h0M146.8 242.6h0M209.3 197.3h0M166.3 226.0h0M113.6 218.7h0M239.7 224.9h0M121.6 245.0h0M150.6 225.5h0M138.7 213.5h0M97.6 232.5h0M226.7 203.0h0M108.3 248.4h0M186.9 192.7h0M177.2 227.4h0M107.2 233.9h0M201.7 189.3h0M126.9 251.7h0M192.5 216.5h0M114.0 242.4h0M134.6 258.1h0M107.3 237.8h0M176.8 237.4h0M194.6 201.7h0M110.5 221.2h0M120.0 258.4h0M131.5 222.7h0M155.6 269.7h0M165.0 235.6h0M166.2 205.8h0M190.9 221.9h0M116.1 210.4h0M138.2 250.5h0M145.9 227.0h0M97.7 212.0h0M161.0 246.6h0M121.7 251.1h0M105.4 225.9h0M104.2 252.2h0M117.0 216.8h0M123.1 217.8h0M114.5 251.6h0M105.2 218.9h0M156.2 218.4h0M178.0 204.9h0M141.1 240.2h0M106.5 235.2h0M168.8 216.9h0M137.6 224.3h0M178.9 208.1h0M186.4 235.0h0M160.7 250.7h0M148.9 214.5h0M166.7 212.6h0M151.5 237.0h0M114.7 208.2h0M101.1 243.8h0M140.7 234.3h0M100.0 228.8h0M108.9 229.8h0M105.8 231.1h0M136.7 249.3h0M178.8 220.0h0M106.5 233.4h0M97.1 235.8h0M118.5 274.3h0M176.8 229.2h0M167.1 222.9h0M223.4 222.9h0M106.0 225.7h0M183.9 199.9h0M114.1 259.2h0M226.2 200.3h0M148.6 249.5h0M129.4 243.3h0M160.5 207.1h0M147.5 242.5h0M130.7 205.8h0M156.6 228.2h0M145.3 256.7h0M108.3 252.2h0M158.2 251.5h0M217.8 198.4h0M183.0 202.2h0M192.6 204.4h0M119.7 268.1h0M123.6 248.9h0M123.4 236.3h0M98.5 258.4h0M110.3 250.4h0M154.2 218.2h0M91.2 226.9h0M136.6 262.1h0M183.4 222.7h0M114.8 231.2h0M138.7 243.2h0M112.1 247.6h0M134.2 228.5h0M93.5 222.4h0M163.2 220.1h0M167.4 208.6h0M132.1 253.9h0M122.3 271.4h0M100.2 235.4h0M165.1 229.7h0M160.1 238.4h0M108.0 240.0h0M220.0 194.7h0M216.6 217.2h0M140.4 272.6h0M221.0 204.6h0M161.4 224.2h0M147.4 256.3h0M108.5 240.4h0M183.5 219.1h0M166.9 225.9h0M131.7 232.8h0M114.9 238.7h0M135.3 239.1h0M174.4 224.2h0M139.1 205.3h0M104.1 216.4h0M115.9 242.4h0M143.0 264.1h0M193.1 243.9h0M148.1 236.3h0M153.7 215.7h0M178.8 236.8h0M105.7 228.6h0M167.6 213.6h0M116.8 250.4h0M214.2 213.0h0M162.5 252.6h0M130.8 251.5h0M125.8 235.5h0M110.0 219.9h0M175.4 208.8h0M138.1 255.1h0M112.6 220.6h0M95.0 251.2h0M182.3 178.8h0M124.6 238.8h0M177.1 217.7h0M98.5 239.7h0M104.9 220.3h0M118.9 248.3h0M157.0 232.2h0M191.5 235.0h0M164.7 226.4h0M130.9 239.3h0M147.2 232.7h0M161.5 248.3h0M102.4 247.3h0M183.0 236.9h0M195.8 197.4h0M136.9 222.0h0M98.2 214.5h0M109.8 237.2h0M166.3 187.8h0M96.1 217.7h0M148.4 231.2h0M145.6 233.7h0M174.4 222.2h0M120.7 237.5h0M110.7 211.9h0M142.8 236.8h0M135.4 269.9h0M115.2 257.3h0M135.5 242.1h0M119.2 248.7h0M188.2 201.0h0M195.6 234.7h0M112.4 245.9h0M222.7 206.0h0M99.2 257.2h0M218.9 216.0h0M136.0 263.5h0M197.9 209.0h0M139.5 252.0h0M131.3 242.4h0M160.7 238.9h0M110.5 242.4h0M163.8 201.4h0M158.1 206.6h0M159.0 242.5h0M150.9 207.2h0M109.5 247.8h0M174.7 229.5h0M129.0 242.7h0M154.5 229.1h0M149.2 235.3h0M162.3 224.7h0M148.2 250.8h0M96.2 232.0h0M152.3 249.2h0M119.7 235.4h0M173.4 236.7h0M178.0 189.6h0M125.0 242.6h0M160.3 234.7h0M124.6 270.4h0M182.3 194.6h0M204.8 209.0h0M99.1 244.9h0M178.1 228.4h0M177.6 248.1h0M192.7 175.6h0M125.9 237.6h0M118.4 218.8h0M149.8 256.7h0M177.0 203.5h0M119.9 250.4h0M164.8 226.9h0M189.8 248.5h0M219.6 223.0h0M175.3 233.1h0M110.5 244.0h0M149.9 235.3h0M167.7 195.1h0M107.8 209.8h0M172.5 215.6h0M193.4 218.5h0M169.0 188.5h0M245.7 191.4h0M144.2 257.2h0M123.0 233.7h0M143.7 241.5h0M111.2 226.7h0M194.2 190.9h0M156.7 234.9h0M96.7 253.1h0M150.6 216.6h0M101.6 192.9h0M168.7 215.2h0M225.0 221.4h0M181.8 195.2h0M176.0 222.3h0M161.7 204.2h0M166.0 251.6h0M186.9 191.1h0M149.2 253.1h0M185.2 193.8h0M105.7 233.4h0M151.6 199.4h0M152.6 225.4h0M98.7 230.5h0M131.3 258.7h0M129.1 235.3h0M139.2 221.1h0M132.9 245.9h0M166.8 189.7h0M111.5 254.6h0M122.9 217.0h0M176.3 218.4h0M163.4 199.6h0M114.7 258.3h0M106.6 252.2h0M173.8 187.2h0M100.9 232.5h0M107.7 233.2h0M186.2 226.1h0M118.7 245.8h0M169.4 216.2h0M95.1 218.7h0M141.7 264.6h0M109.2 258.0h0M139.1 222.5h0M184.2 218.7h0M121.5 233.5h0M127.4 228.3h0M159.3 229.6h0M109.0 230.1h0M158.9 247.8h0M157.5 203.9h0M187.8 205.9h0M199.9 216.6h0M141.8 211.9h0M188.4 208.5h0M170.3 194.4h0M181.5 203.1h0M92.1 258.7h0M121.6 217.3h0M135.7 256.7h0M116.7 227.5h0M157.5 225.1h0M144.0 228.1h0M134.5 216.6h0M171.5 229.9h0M134.6 235.6h0M168.8 234.1h0M122.8 231.2h0M114.1 243.8h0M138.2 238.2h0M112.4 249.2h0M160.0 249.9h0M98.0 241.3h0M118.2 242.6h0M181.6 194.0h0M180.4 232.0h0M112.5 238.2h0M151.2 218.4h0M171.2 191.4h0M163.4 241.4h0M96.8 263.4h0M105.8 238.6h0M107.4 237.6h0M127.2 232.7h0M174.7 193.6h0M163.6 236.6h0M99.3 247.8h0M165.2 256.1h0M109.5 250.2h0M222.4 216.9h0M156.3 256.0h0M209.7 233.7h0M101.9 249.1h0M175.2 202.5h0M167.6 222.3h0M174.7 182.0h0M117.1 234.6h0M162.4 246.0h0M96.7 251.0h0M100.1 238.1h0M111.1 248.6h0M134.5 231.5h0M103.8 200.9h0M137.2 253.0h0M201.7 220.4h0M218.1 219.4h0M113.3 222.0h0M153.7 231.2h0M111.4 256.8h0M135.7 222.1h0M108.5 244.7h0M143.3 245.2h0M99.1 236.3h0M157.0 236.1h0M186.7 218.8h0M164.7 237.9h0M114.1 207.7h0M105.9 240.7h0M106.2 245.8h0M99.0 242.5h0M139.9 245.7h0M189.6 205.7h0M139.9 224.1h0M132.9 245.3h0M178.1 194.5h0M99.4 221.5h0M132.2 239.6h0M194.1 221.3h0M126.9 247.3h0M155.0 243.0h0M187.7 217.0h0M203.0 207.4h0M189.7 200.1h0M184.3 222.2h0M119.7 232.2h0M95.8 227.0h0M136.5 254.0h0M102.5 205.5h0M140.1 255.8h0M206.7 197.2h0M108.1 202.7h0M126.0 240.3h0M99.9 232.0h0M125.0 228.0h0M109.0 217.5h0M108.9 238.9h0M140.3 243.9h0M110.9 246.9h0M128.9 243.9h0M195.3 223.2h0M128.9 236.3h0M144.5 235.9h0M158.8 241.4h0M153.7 255.0h0M111.9 238.4h0M135.6 220.1h0M139.4 232.6h0M137.0 246.5h0M125.7 266.2h0M166.9 233.1h0M129.6 239.2h0M165.4 213.4h0M122.8 216.8h0M177.2 183.4h0M149.9 244.7h0M174.5 192.5h0M171.4 217.0h0M185.1 197.6h0M113.5 245.6h0M136.4 232.5h0M217.0 215.5h0M111.1 257.6h0M189.3 188.6h0M171.0 201.0h0M127.5 237.2h0M125.3 221.6h0M185.6 197.3h0M160.1 210.6h0M161.0 253.9h0M178.8 204.7h0M183.8 183.1h0M101.2 222.9h0M175.7 198.2h0M155.5 248.4h0M139.9 244.6h0M194.8 221.2h0M118.0 262.4h0M101.9 238.7h0M184.6 184.3h0M113.3 248.2h0M98.2 229.2h0M131.6 254.1h0M146.2 231.6h0M159.0 222.1h0M155.3 239.2h0M176.3 205.4h0M115.5 247.5h0M164.2 203.0h0M171.4 221.5h0M105.0 224.1h0M160.6 224.4h0M116.3 232.8h0M117.8 216.7h0M155.1 198.6h0M106.4 244.1h0M128.9 238.6h0M120.8 210.1h0M102.7 214.0h0M230.1 219.9h0M156.3 220.6h0M195.2 200.1h0M139.2 234.1h0M153.9 225.1h0M103.3 237.9h0M162.9 228.9h0M116.7 248.8h0M110.9 260.9h0M116.4 244.3h0M174.8 211.1h0M174.4 220.5h0M103.9 264.2h0M134.6 244.7h0M208.9 204.9h0M186.1 180.0h0M174.0 235.0h0M95.4 229.9h0M188.7 198.2h0M183.2 224.7h0M118.2 257.0h0M189.3 194.1h0M117.3 241.8h0M134.3 213.7h0M190.0 213.1h0M114.3 232.4h0M240.2 203.6h0M141.9 253.2h0M163.2 222.3h0M134.0 229.1h0M226.3 205.3h0M103.8 236.3h0M192.9 222.3h0M126.0 245.1h0M165.9 219.1h0M149.9 233.8h0M121.2 247.4h0M125.1 221.8h0M247.0 230.8h0M197.1 226.3h0M132.1 264.0h0M115.7 247.5h0M150.0 206.2h0M151.9 243.3h0M148.0 254.2h0M227.0 201.9h0M173.6 218.5h0M146.1 215.6h0M117.7 248.9h0M128.5 224.6h0M165.0 222.3h0M120.4 237.8h0M112.4 239.2h0M155.4 223.7h0M157.1 241.3h0M242.2 217.1h0M138.4 257.4h0M106.9 237.6h0M96.7 249.6h0M146.1 225.2h0M212.5 208.8h0M176.5 178.5h0M223.0 221.7h0M167.6 219.8h0M195.0 204.3h0M113.8 249.0h0M179.2 201.3h0M174.3 217.0h0M147.8 222.0h0M113.4 249.1h0M122.6 222.7h0M168.4 228.2h0M177.2 216.1h0M186.2 184.8h0M98.9 223.4h0M196.7 225.1h0M183.5 189.8h0M161.7 242.1h0M128.2 230.6h0M104.5 219.7h0M123.6 232.8h0M232.9 223.4h0M137.6 220.3h0M132.7 220.4h0M185.1 224.6h0M166.5 211.6h0M99.2 224.3h0M132.7 229.3h0M147.5 214.8h0M172.5 214.6h0M131.5 208.6h0M128.6 254.6h0M160.5 210.3h0M216.8 214.1h0M141.6 227.3h0M130.5 248.8h0M121.1 229.7h0M137.8 229.9h0M126.4 247.5h0M133.4 238.9h0M185.4 205.9h0M162.9 245.2h0M167.9 236.7h0M149.0 234.0h0M187.6 220.0h0M125.2 242.4h0M114.5 247.3h0M146.0 229.6h0M131.9 238.1h0M95.7 233.8h0M160.5 245.1h0M106.0 245.0h0M175.6 213.6h0M112.9 233.5h0M166.3 211.8h0M115.9 242.9h0M147.3 225.8h0M130.3 235.4h0M211.7 213.9h0M141.3 253.7h0M98.0 251.8h0M169.6 224.4h0M185.2 222.3h0M144.6 241.5h0M155.5 238.0h0M130.2 233.1h0M164.5 212.9h0M107.6 222.8h0M179.7 194.7h0M228.0 204.7h0M119.3 225.4h0M161.4 202.7h0M178.5 201.7h0M162.7 266.1h0M101.7 231.1h0M135.7 216.2h0M155.0 243.6h0M151.8 224.4h0M177.6 225.9h0M176.3 227.9h0M145.8 217.4h0M161.4 230.5h0M111.7 227.1h0M122.3 246.0h0M198.9 227.2h0M166.1 202.8h0M106.1 254.1h0M123.1 256.9h0M119.1 237.6h0M184.5 212.5h0M170.1 217.7h0M101.8 225.7h0M163.7 253.5h0M97.0 231.6h0M99.8 245.1h0M156.4 232.9h0M129.2 213.8h0M171.4 211.5h0M132.5 252.9h0M143.0 237.2h0M110.5 205.3h0M150.4 238.7h0M171.8 250.9h0M138.1 249.1h0M111.0 241.7h0M153.6 261.1h0M157.1 230.4h0M155.2 220.0h0M195.0 192.6h0M167.8 231.9h0M131.0 207.2h0M159.6 232.3h0M112.0 254.8h0M202.8 233.8h0M140.7 243.8h0M112.9 198.3h0M146.1 253.2h0M238.8 210.5h0M155.8 237.7h0M123.7 242.8h0M175.3 210.2h0M111.3 244.4h0M101.0 256.1h0M180.9 214.0h0M170.6 211.3h0M150.8 229.6h0M145.3 207.8h0M127.1 240.8h0M167.6 225.1h0M103.8 245.4h0M182.2 223.1h0M108.1 241.2h0M194.3 204.7h0M171.3 198.7h0M210.4 214.7h0M112.1 232.0h0M139.7 222.5h0M111.2 218.9h0M179.0 185.7h0M168.9 243.3h0M101.3 241.9h0M206.6 211.1h0M108.4 241.4h0M102.0 273.8h0M158.0 200.1h0M161.6 215.9h0M132.6 217.0h0M107.3 225.9h0M142.2 241.2h0M111.8 231.3h0M219.8 184.4h0M107.8 244.1h0M167.8 198.6h0M157.6 219.8h0M193.4 182.6h0M159.6 211.2h0M183.2 207.3h0M196.7 218.9h0M140.3 234.8h0M105.0 239.2h0M120.6 249.1h0M134.5 209.5h0M154.1 237.7h0M194.9 227.1h0M127.7 232.1h0M107.1 245.9h0M108.1 241.1h0M131.3 258.8h0M147.8 246.3h0M161.5 224.0h0M96.8 244.8h0M249.5 198.7h0M153.0 238.6h0M136.2 228.9h0M148.5 244.8h0M121.1 251.8h0M135.8 215.5h0M180.4 216.9h0M134.6 241.0h0M157.6 264.3h0M109.7 231.2h0M165.8 198.3h0M107.7 226.7h0M191.3 195.1h0M97.7 214.4h0M91.0 196.3h0M132.1 231.6h0M161.9 242.2h0M110.3 250.2h0M140.6 221.6h0M129.1 256.9h0M139.0 233.5h0M144.8 242.9h0M102.0 215.3h0M178.2 208.5h0M187.3 222.3h0M215.7 198.1h0M161.2 254.4h0M131.9 253.6h0M140.4 227.4h0M120.8 259.9h0M146.5 223.4h0M122.0 241.8h0M153.3 240.5h0M153.6 222.6h0M97.4 260.4h0M155.1 236.5h0M144.3 225.5h0M133.7 241.5h0M100.4 237.3h0M158.2 212.1h0M122.2 201.4h0M151.0 205.5h0M122.3 207.0h0M219.3 201.4h0M183.6 197.0h0M234.1 211.1h0M163.3 216.6h0M99.7 234.5h0M232.8 210.9h0M177.2 235.8h0M115.5 257.4h0M147.1 253.5h0M220.0 201.7h0M134.7 222.8h0M98.5 241.8h0M113.1 256.4h0M111.0 208.5h0M176.3 198.5h0M109.3 257.1h0M107.8 251.4h0M102.1 228.2h0M108.6 249.9h0M96.4 229.3h0M193.3 207.1h0M114.1 229.8h0M166.9 242.0h0M137.2 226.6h0M162.3 206.1h0M170.3 244.9h0M102.7 250.0h0M140.4 235.7h0M204.3 207.7h0M120.6 237.8h0M140.6 234.7h0M141.2 210.9h0M218.4 223.5h0M196.2 193.8h0M171.2 250.2h0M181.6 262.2h0M158.0 219.9h0M135.8 244.6h0M176.9 235.5h0M210.5 198.6h0M186.9 216.5h0M187.1 177.5h0M98.3 240.6h0M129.4 236.4h0M196.6 219.5h0M110.0 240.5h0M155.8 252.0h0M94.0 215.8h0M195.9 234.0h0M101.5 243.4h0M138.9 215.6h0M166.2 205.9h0M92.5 231.9h0M111.6 234.2h0M192.4 227.4h0M149.1 276.1h0M157.6 241.3h0M164.8 198.9h0M120.1 235.6h0M171.1 207.9h0M120.1 243.5h0M118.1 233.1h0M235.6 211.9h0M113.4 259.0h0M189.5 196.3h0M146.2 235.9h0M146.8 243.0h0M99.3 202.9h0M120.1 247.2h0M124.6 222.4h0M121.3 233.8h0M108.0 229.4h0M127.0 220.6h0M106.2 241.6h0M126.2 250.4h0M137.4 247.5h0M191.1 202.7h0M153.2 247.1h0M158.6 255.2h0M104.9 224.1h0M216.9 207.9h0M91.4 211.5h0M163.9 254.7h0M203.6 221.7h0M103.5 253.3h0M176.2 192.1h0M141.9 222.6h0M140.1 236.2h0M122.7 263.0h0M108.7 230.2h0M94.7 237.3h0M161.1 218.2h0M148.3 247.4h0M133.9 230.1h0M189.6 209.0h0M207.0 227.6h0M162.9 248.6h0M137.9 251.5h0M111.6 241.9h0M104.4 233.6h0M121.2 239.2h0M96.0 255.5h0M149.8 209.5h0M131.5 235.2h0M191.3 181.9h0M130.5 195.0h0M191.4 202.7h0M103.1 226.6h0M164.8 218.5h0M144.2 244.8h0M190.8 223.0h0M111.3 242.7h0M164.7 257.1h0M109.9 216.0h0M125.6 226.8h0M102.6 227.7h0M115.3 229.2h0M163.2 238.0h0M153.3 229.0h0M170.3 202.9h0M133.6 232.3h0M159.7 243.4h0M208.4 220.5h0M147.7 245.1h0M158.7 227.6h0M109.5 232.6h0M168.9 192.0h0M159.4 210.6h0M148.6 216.7h0M174.0 205.1h0M178.6 187.5h0M190.7 232.9h0M114.1 233.8h0M117.2 242.2h0M126.6 261.2h0M128.4 233.2h0M94.8 226.2h0M185.1 224.4h0M118.5 229.3h0M183.8 201.0h0M122.8 243.0h0M101.0 225.6h0M148.6 218.0h0M196.2 179.5h0M103.8 229.1h0M145.5 214.8h0M113.2 239.6h0M121.6 219.6h0M146.7 221.8h0M133.6 261.9h0M134.2 240.8h0M122.6 240.8h0M124.5 231.8h0M143.5 221.1h0M112.8 236.1h0M221.2 201.6h0M159.4 261.2h0M121.4 211.0h0M172.5 223.4h0M162.1 199.6h0M169.1 189.2h0M126.1 246.5h0M102.6 229.3h0M100.4 224.5h0M135.3 230.9h0M139.8 242.8h0M119.5 220.7h0M116.9 222.2h0M125.8 225.0h0M174.9 195.1h0M94.3 218.9h0M115.5 223.1h0M97.7 219.5h0M102.3 244.4h0M163.3 233.6h0M147.5 220.6h0M134.5 235.6h0M145.0 221.6h0M157.1 244.9h0M111.6 238.4h0M120.2 238.1h0M177.5 195.8h0M173.7 207.6h0M131.7 234.9h0M126.5 207.4h0M113.4 246.8h0M162.2 261.6h0M203.5 244.0h0M145.6 231.0h0M145.3 247.1h0M109.7 213.0h0M157.8 258.6h0M102.2 262.7h0M171.5 198.3h0M113.1 228.4h0M111.3 229.9h0M129.8 234.1h0M106.8 236.7h0M143.7 245.8h0M143.9 219.8h0M98.9 233.0h0M101.1 208.9h0M126.2 235.3h0M138.7 227.3h0M112.9 226.4h0M172.2 223.0h0M113.7 215.6h0M136.5 247.0h0M126.2 235.4h0M172.8 244.3h0M151.2 253.8h0M174.7 219.4h0M159.4 233.1h0M114.6 248.3h0M103.9 209.0h0M161.2 252.1h0M124.2 265.3h0M125.9 234.5h0M121.0 228.5h0M175.5 228.9h0M130.3 230.7h0M104.4 222.1h0M176.4 176.2h0M184.2 188.1h0M157.5 241.1h0M132.6 217.0h0M118.6 255.5h0M162.6 209.7h0M141.6 239.5h0M136.5 224.3h0M130.8 221.3h0M162.5 260.1h0M148.5 197.3h0M138.8 270.0h0M114.3 239.3h0M125.9 262.6h0M185.5 206.3h0M143.8 267.1h0M194.5 220.8h0M178.2 188.6h0M185.6 189.7h0M112.8 227.7h0M172.4 202.4h0M156.2 250.1h0M117.9 238.0h0M140.4 265.3h0M133.8 239.7h0M162.1 218.6h0M110.5 222.8h0M137.5 242.4h0M107.5 242.3h0M116.9 246.2h0M116.2 229.9h0M109.9 246.1h0M123.4 264.1h0M186.8 202.9h0M170.2 247.6h0M158.9 222.1h0M128.4 237.1h0M144.0 228.9h0M181.7 198.8h0M176.4 198.8h0M114.1 240.8h0M183.3 181.0h0M230.8 236.5h0M104.9 239.8h0M120.5 260.4h0M149.1 232.8h0M120.9 235.1h0M193.4 190.6h0M185.8 194.1h0M167.1 194.6h0M129.7 252.8h0M125.3 244.0h0M136.3 226.6h0M159.3 252.2h0M158.8 203.9h0M119.0 257.2h0M197.8 215.9h0M146.0 277.4h0M176.4 228.9h0M147.6 224.3h0M160.3 210.1h0M195.7 200.6h0M163.7 221.4h0M144.0 231.4h0M113.1 238.1h0M118.2 257.2h0M198.2 191.7h0M168.5 208.9h0M120.1 242.3h0M178.4 213.5h0M137.0 236.6h0M205.4 209.7h0M191.1 208.7h0M131.0 214.6h0M161.4 241.8h0M150.1 235.1h0M141.1 255.5h0M174.3 207.7h0M131.3 223.4h0M94.8 209.8h0M212.1 206.1h0M165.8 230.6h0M144.2 245.6h0M126.1 238.5h0M185.4 219.8h0M177.5 218.5h0M156.8 237.4h0M107.6 230.9h0M168.8 218.6h0M116.4 230.0h0M111.7 248.6h0M150.7 229.8h0M98.2 257.9h0M119.6 243.5h0M128.1 227.6h0M164.8 228.7h0M136.6 236.7h0M121.2 282.9h0M136.6 235.1h0M123.5 250.0h0M143.7 231.9h0M195.8 188.1h0M121.3 231.7h0M158.4 231.3h0M120.4 237.8h0M134.5 241.0h0M106.4 231.3h0M169.5 215.5h0M162.1 218.1h0M162.5 233.6h0M147.6 239.1h0M171.2 240.9h0M103.5 254.9h0M164.2 236.8h0M125.5 219.2h0M116.1 220.7h0M111.4 248.0h0M147.5 246.6h0M111.0 236.0h0M161.1 246.4h0M144.4 204.3h0M99.2 238.9h0M142.9 241.8h0M205.5 209.9h0M171.7 205.8h0M146.6 223.4h0M118.0 239.7h0M188.7 219.7h0M164.3 230.2h0M152.7 211.8h0M153.0 247.0h0M166.0 221.8h0M170.5 198.8h0M140.7 219.4h0M119.4 243.9h0M202.5 216.0h0M140.8 223.7h0M166.6 216.1h0M129.1 241.3h0M123.1 243.0h0M121.7 202.8h0M96.9 227.7h0M142.0 254.1h0M101.4 229.7h0M186.9 216.2h0M172.0 197.3h0M130.4 201.8h0M110.4 216.3h0M121.4 261.1h0M145.6 230.5h0M136.7 215.1h0M101.0 251.5h0M96.4 206.0h0M123.8 197.5h0M152.7 227.7h0M114.7 235.0h0M113.6 184.5h0M121.9 265.8h0M103.8 232.4h0M143.2 234.6h0M136.0 253.4h0M192.4 225.7h0M119.1 249.6h0M136.6 205.7h0M117.0 249.8h0M156.0 234.9h0M107.2 242.2h0M144.3 246.6h0M168.6 234.2h0M161.6 225.2h0M152.0 247.6h0M175.5 185.2h0M141.6 233.3h0M136.0 251.7h0M187.1 178.6h0M188.4 222.2h0M113.8 247.6h0M98.7 204.8h0M96.0 236.5h0M186.7 202.7h0M116.8 239.1h0M168.4 201.4h0M109.2 227.1h0M145.0 235.7h0M170.0 195.4h0M149.9 222.7h0M159.3 205.4h0M124.6 203.9h0M178.7 211.8h0M114.4 261.9h0M147.8 210.1h0M183.0 198.6h0M190.5 205.1h0M103.2 232.6h0M111.9 245.8h0M94.5 240.3h0M102.5 244.8h0M141.9 247.1h0M155.3 221.3h0M174.1 209.5h0M169.9 206.8h0M174.9 183.1h0M175.2 185.4h0M160.7 217.2h0M112.5 221.1h0M155.5 222.8h0M170.4 207.0h0M153.3 214.7h0M154.5 208.8h0M150.2 253.9h0M184.4 179.4h0M100.5 209.8h0M159.2 186.8h0M129.8 213.3h0M103.8 230.9h0M128.4 228.6h0M127.2 240.8h0M182.8 184.4h0M186.2 199.2h0M145.4 202.9h0M168.4 206.1h0M100.1 221.6h0M178.2 206.4h0M132.7 217.5h0M142.3 243.0h0M124.5 239.6h0M128.7 229.3h0M126.5 241.9h0M133.4 215.1h0M180.8 216.5h0M191.7 212.6h0M170.3 227.6h0M120.9 237.0h0M239.8 208.8h0M122.4 238.4h0M148.1 250.9h0M117.5 265.3h0M116.4 238.6h0M110.7 239.7h0M142.2 252.8h0M197.2 190.4h0M159.0 227.4h0M98.7 265.3h0M161.4 223.0h0M128.9 222.7h0M230.3 224.5h0M189.2 193.2h0M96.8 267.3h0M123.3 230.4h0M185.3 199.7h0M188.0 200.0h0M136.0 228.1h0M104.9 235.6h0M112.1 228.2h0M150.3 209.0h0M130.6 228.8h0M196.0 245.7h0M97.2 240.9h0M163.4 232.4h0M122.4 216.6h0M109.7 227.7h0M154.7 233.9h0M124.8 220.3h0M137.1 214.1h0M163.9 204.4h0M181.3 220.7h0M114.8 248.6h0M141.8 254.5h0M117.2 211.1h0M156.7 218.4h0M210.6 202.6h0M179.4 194.8h0M184.7 221.9h0M138.0 226.1h0M123.6 238.7h0M152.0 231.2h0M113.9 244.1h0M174.3 238.8h0M107.4 235.8h0M164.0 197.5h0M123.1 215.1h0M103.4 247.5h0M105.7 231.2h0M189.2 195.9h0M109.6 230.6h0M109.9 224.2h0M170.1 218.3h0M142.3 257.3h0M159.8 214.7h0M103.1 223.5h0M192.9 226.1h0M145.9 215.3h0M167.8 213.4h0M153.6 225.4h0M126.7 242.8h0M115.6 235.3h0M113.7 227.4h0M120.7 254.3h0M141.1 232.6h0M148.3 246.0h0M167.2 226.0h0M100.5 256.9h0M174.7 220.9h0M178.7 198.8h0M185.4 217.3h0M135.5 245.4h0M172.4 220.4h0M128.0 221.7h0M170.6 233.2h0M123.8 250.0h0M106.0 220.3h0M104.4 236.2h0M170.7 221.5h0M175.3 193.7h0M120.7 263.9h0M156.5 225.3h0M149.2 239.6h0M115.3 228.3h0M145.7 241.5h0M109.2 250.1h0M120.1 244.0h0M119.4 224.6h0M142.6 256.3h0M164.0 239.0h0M117.6 225.4h0M128.4 225.4h0M111.3 237.9h0M164.7 223.9h0M165.7 220.2h0M172.0 221.7h0M107.3 214.5h0M140.6 236.5h0M205.2 209.7h0M102.7 214.8h0M180.1 180.5h0M216.4 211.2h0M192.6 217.6h0M118.7 208.9h0M147.8 228.8h0M182.8 207.9h0M162.8 233.6h0M133.2 266.7h0M132.2 243.8h0M148.2 253.5h0M190.2 191.0h0M148.1 239.3h0M107.5 251.9h0M153.1 201.7h0M192.3 209.4h0M109.8 229.0h0M168.2 216.0h0M195.2 244.2h0M149.8 237.6h0M170.8 228.9h0M108.3 244.1h0M223.1 196.1h0M120.5 232.0h0M120.1 237.0h0M162.1 235.6h0M119.9 247.2h0M150.2 268.7h0M197.9 216.4h0M125.3 236.7h0M103.9 211.4h0M96.6 226.1h0M131.2 242.2h0M178.2 187.2h0M163.9 247.3h0M121.3 221.3h0M160.9 234.5h0M107.3 220.2h0M170.2 209.9h0M222.5 219.9h0M125.0 252.3h0M112.6 229.6h0M101.6 257.1h0M115.4 222.5h0M140.0 212.1h0M194.6 187.3h0M124.3 243.4h0M178.1 203.3h0M206.8 212.6h0M111.8 239.6h0M136.0 228.0h0M160.1 214.5h0M199.8 210.5h0M100.0 236.6h0M175.5 239.7h0M110.8 236.6h0M122.3 240.5h0M135.5 253.8h0M190.6 188.5h0M129.9 210.8h0M127.1 209.9h0M154.3 247.1h0M101.0 225.4h0M118.9 266.3h0M98.1 195.7h0M143.9 203.9h0M141.4 225.6h0M172.3 230.4h0M113.7 211.0h0M197.6 227.2h0M106.1 278.5h0M153.8 222.0h0M107.9 255.2h0M96.6 233.6h0M132.7 231.2h0M189.2 201.6h0M115.2 256.1h0M207.9 190.5h0M108.9 252.2h0M122.5 261.3h0M221.1 202.0h0M115.0 258.1h0M172.6 204.5h0M140.6 231.9h0M164.6 192.2h0M158.6 186.2h0M81.2 210.6h0M101.3 231.3h0M130.9 218.6h0M132.0 249.8h0M120.7 247.6h0M109.3 252.9h0M182.0 242.1h0M150.6 220.9h0M165.0 201.6h0M153.6 232.1h0M123.8 240.5h0M99.1 230.7h0M201.3 217.9h0M184.0 227.8h0M111.5 238.9h0M153.8 249.4h0M172.4 202.2h0M117.8 236.6h0M189.8 208.2h0M154.8 241.0h0M128.4 227.5h0M172.1 219.5h0M114.8 246.3h0M118.5 234.4h0M131.2 209.4h0M129.5 214.4h0M162.1 226.0h0M117.2 248.3h0M166.8 227.8h0M155.6 226.5h0M158.8 231.7h0M117.1 240.5h0M119.0 250.6h0M131.4 235.9h0M142.4 268.0h0M120.8 213.6h0M124.2 219.5h0M209.6 195.5h0M116.8 225.3h0M103.4 220.4h0M131.1 255.3h0M97.2 248.1h0M153.6 230.3h0M160.1 212.6h0M183.4 197.5h0M212.6 224.5h0M132.0 261.5h0M122.5 232.0h0M125.9 232.5h0M169.6 193.9h0M153.9 250.7h0M133.1 244.2h0M162.3 232.8h0M115.6 243.4h0M178.1 203.7h0M170.4 251.4h0M171.1 220.2h0M113.1 223.6h0M164.2 201.8h0M109.7 242.1h0M210.8 222.1h0M95.9 246.9h0M102.3 232.6h0M186.1 190.5h0M131.8 246.2h0M123.3 237.8h0M119.6 252.3h0M171.8 199.6h0M182.2 226.4h0M127.7 225.9h0M127.5 234.8h0M130.9 234.7h0M161.7 195.7h0M161.1 221.2h0M108.9 243.6h0M187.8 238.0h0M174.4 255.4h0M130.7 238.6h0M98.5 226.2h0M101.7 253.1h0M182.1 221.4h0M161.3 241.9h0M159.4 197.8h0M181.5 217.2h0M108.3 218.7h0M95.9 224.2h0M136.2 245.2h0M130.2 252.0h0M174.1 212.0h0M171.0 219.0h0M128.0 259.3h0M161.8 253.8h0M160.7 250.6h0M167.9 211.5h0M135.5 242.5h0M213.1 210.3h0M170.6 207.0h0M121.4 255.7h0M101.1 203.8h0M156.7 252.7h0M112.3 260.2h0M124.2 262.8h0M104.8 222.1h0M131.1 228.4h0M154.6 214.4h0M129.7 241.3h0M97.1 257.8h0M138.0 237.1h0M162.9 230.2h0M98.8 236.7h0M113.1 222.4h0M163.2 198.2h0M111.5 244.4h0M157.6 248.6h0M107.9 241.8h0M169.7 204.3h0M128.6 264.5h0M111.0 256.7h0M108.3 227.5h0M179.4 192.5h0M119.3 247.0h0M147.5 244.0h0M152.8 223.0h0M115.6 241.0h0M167.6 204.9h0M127.3 241.1h0M103.1 252.8h0M120.6 242.7h0M168.1 226.6h0M167.0 250.0h0M100.5 234.1h0M160.0 228.9h0M171.5 231.8h0M155.4 219.2h0M132.2 239.4h0M149.8 235.2h0M181.1 220.8h0M114.9 217.2h0M198.6 211.8h0M170.8 219.1h0M132.8 267.7h0M160.2 227.2h0M264.7 206.2h0M112.6 226.1h0M105.9 246.4h0M165.0 203.2h0M152.8 248.5h0M135.4 233.5h0M137.8 224.3h0M164.5 231.9h0M142.0 234.7h0M114.1 229.4h0M125.2 223.0h0M160.5 211.9h0M124.1 237.0h0M128.7 240.9h0M139.0 211.8h0M179.2 222.4h0M123.2 232.9h0M252.2 217.9h0M174.2 231.7h0M93.8 207.9h0M138.5 241.4h0M135.8 222.9h0M107.4 252.1h0M148.2 230.4h0M163.1 207.7h0M150.8 245.9h0M114.4 219.2h0M178.2 205.5h0M154.9 254.1h0M179.9 237.2h0M135.1 248.8h0M103.1 229.4h0M137.6 246.5h0M175.2 209.5h0M178.2 210.0h0M178.1 179.6h0M140.7 226.4h0M201.7 225.6h0M119.8 255.0h0M128.2 250.9h0M146.2 221.9h0M202.6 226.2h0M185.8 183.9h0M139.6 227.4h0M179.8 198.4h0M123.8 236.9h0M154.6 241.6h0M132.9 258.2h0M159.9 209.5h0M110.8 203.0h0M109.3 243.3h0M96.4 202.7h0M134.6 213.0h0M107.9 233.2h0M218.2 213.0h0M110.1 231.4h0M160.9 224.3h0M104.9 236.6h0M166.0 237.3h0M128.9 229.5h0M130.7 234.5h0M173.1 230.1h0M171.3 190.6h0M159.2 206.0h0M163.6 255.8h0M151.3 218.1h0M123.2 260.6h0M165.3 206.3h0M139.1 238.5h0M153.3 241.0h0M146.5 227.0h0M117.8 236.2h0M110.9 234.5h0M111.0 200.7h0M134.6 252.8h0M216.9 216.7h0M191.2 197.9h0M186.0 208.0h0M174.3 183.6h0M106.6 240.1h0M158.9 230.4h0M110.7 246.7h0M170.7 224.3h0M135.7 249.5h0M167.0 201.8h0M103.1 216.7h0M111.4 256.0h0M180.1 185.3h0M161.5 195.9h0M148.9 223.2h0M105.6 244.4h0M91.4 197.0h0M111.2 203.9h0M149.8 236.6h0M181.7 225.0h0M156.4 251.2h0M105.2 210.2h0M116.3 250.2h0M115.0 251.4h0M158.3 216.3h0M111.7 209.6h0M171.5 231.7h0M113.8 220.7h0M116.4 243.4h0M150.2 223.9h0M182.5 225.6h0M147.9 229.9h0M94.6 231.4h0M138.6 231.4h0M138.8 233.9h0M138.6 208.4h0M228.4 210.4h0M123.5 244.9h0M229.0 222.1h0M105.6 222.9h0M94.9 211.6h0M170.7 219.7h0M182.6 218.9h0M110.0 218.5h0M174.4 212.3h0M161.7 215.4h0M94.2 224.8h0M179.0 199.8h0M128.1 240.8h0M172.5 223.8h0M162.9 242.4h0M128.9 244.6h0M131.9 238.9h0M191.1 206.9h0M151.1 267.2h0M172.4 203.6h0M166.7 237.8h0M154.8 206.4h0M201.8 201.2h0M121.1 255.3h0M123.0 224.4h0M111.7 250.5h0M192.2 214.8h0M147.0 248.1h0M104.8 241.4h0M173.5 244.1h0M182.0 178.3h0M126.7 234.6h0M101.8 248.3h0M114.0 215.2h0M193.9 227.9h0M117.1 243.9h0M158.1 250.4h0M220.6 211.4h0M103.9 221.8h0M149.3 235.9h0M170.2 214.6h0M193.9 218.4h0M195.0 209.6h0M137.5 226.9h0M173.4 193.8h0M180.7 176.5h0M172.1 227.0h0M179.0 191.8h0M152.7 236.5h0M133.8 251.1h0M116.9 265.8h0M130.3 264.0h0M163.3 200.5h0M125.0 236.5h0M110.8 228.8h0M144.3 243.5h0M144.1 234.3h0M207.6 215.7h0M251.4 217.6h0M195.7 195.2h0M126.2 249.9h0M184.7 231.0h0M163.4 197.6h0M117.9 229.7h0M133.4 234.9h0M140.7 235.3h0M151.7 221.0h0M114.4 248.6h0M155.5 219.3h0M116.9 240.0h0M206.4 214.1h0M105.5 227.1h0M184.2 207.2h0M107.3 228.4h0M128.2 227.9h0M97.6 234.5h0M150.5 219.3h0M174.3 243.7h0M114.1 256.8h0M163.4 234.2h0M105.7 233.9h0M166.4 254.2h0M161.3 225.7h0M106.1 226.5h0M164.1 217.5h0M186.0 227.0h0M114.8 213.0h0M167.8 236.7h0M175.8 197.3h0M135.9 255.5h0M189.9 203.1h0M172.5 206.3h0M108.2 237.5h0M159.3 227.6h0M97.2 246.2h0M102.8 229.8h0M125.5 214.2h0M175.9 184.6h0M103.9 215.1h0M109.7 232.1h0M236.8 210.6h0M125.5 244.9h0M202.1 198.2h0M138.4 262.4h0M109.4 249.0h0M127.4 221.0h0M108.4 207.1h0M186.5 189.2h0M128.3 247.2h0M136.1 243.0h0M150.5 221.7h0M208.2 205.2h0M116.9 230.9h0M127.7 276.8h0M206.9 227.0h0M147.4 231.8h0M119.6 240.6h0M107.4 235.1h0M113.5 236.9h0M183.2 223.7h0M151.6 233.4h0M148.0 229.1h0M129.6 237.1h0M166.1 197.5h0M128.1 255.0h0M147.3 211.1h0M104.3 217.5h0M192.9 192.3h0M131.5 263.1h0M129.1 255.4h0M94.1 204.9h0M131.8 237.9h0M183.9 240.6h0M101.4 226.5h0M160.5 221.7h0M134.7 239.5h0M143.4 233.5h0M114.1 243.1h0M102.0 221.4h0M168.7 205.3h0M130.0 253.4h0M194.6 189.8h0M151.7 239.0h0M106.6 244.3h0M173.0 204.7h0M180.6 209.1h0M106.7 219.9h0M174.0 236.6h0M182.7 207.7h0M136.2 236.5h0M96.1 246.5h0M130.4 244.1h0M155.7 218.4h0M164.2 216.3h0M173.2 198.3h0M187.5 215.6h0M140.3 217.1h0M168.5 204.9h0M178.5 227.1h0M170.7 243.3h0M187.1 229.4h0M101.5 249.2h0M167.3 209.4h0M134.0 243.1h0M92.9 225.6h0M151.3 235.6h0M173.1 215.9h0M179.3 195.2h0M152.5 220.8h0M110.0 249.9h0M129.6 238.4h0M177.2 191.0h0M97.1 233.4h0M197.4 223.9h0M253.3 207.2h0M188.6 185.1h0M112.9 247.7h0M113.8 235.2h0M139.5 211.5h0M166.4 187.1h0M215.7 216.0h0M125.9 222.8h0M172.3 207.4h0M185.0 213.9h0M126.9 259.0h0M124.4 243.7h0M248.4 238.3h0M197.2 193.8h0M209.5 202.7h0M137.9 255.0h0M241.9 198.6h0M107.8 239.9h0M151.3 233.4h0M125.7 243.1h0M99.4 244.4h0M128.9 244.8h0M150.9 224.1h0M229.9 199.1h0M127.7 215.4h0M110.0 264.5h0M148.4 228.5h0M145.2 230.9h0M173.9 183.1h0M159.2 226.9h0M99.2 246.6h0M175.4 183.4h0M192.7 244.3h0M178.8 216.5h0M146.3 224.3h0M116.3 205.2h0M246.6 219.7h0M153.1 250.7h0M156.9 266.1h0M138.0 240.3h0M164.8 248.5h0M165.6 206.8h0M187.1 227.6h0M100.2 218.1h0M157.6 215.9h0M120.5 238.1h0M184.3 205.6h0M156.3 201.3h0M171.1 235.7h0M158.1 222.8h0M130.7 239.1h0M137.2 241.3h0M132.7 221.9h0M127.7 230.9h0M153.3 229.4h0M189.6 203.4h0M126.1 231.1h0M127.4 242.7h0M150.7 235.4h0M129.1 227.0h0M166.3 212.1h0M117.7 226.3h0M121.1 229.6h0M154.8 238.8h0M96.3 227.3h0M151.4 243.3h0M114.8 233.2h0M144.2 244.0h0M128.2 227.1h0M127.3 236.3h0M194.1 224.1h0M96.0 276.5h0M164.7 225.1h0M113.0 226.2h0M155.1 238.0h0M197.7 215.8h0M170.6 219.1h0M136.4 249.7h0M110.0 242.7h0M107.1 253.2h0M146.3 242.1h0M144.4 203.9h0M185.1 185.1h0M130.4 243.8h0M88.7 208.4h0M96.3 229.5h0M153.9 197.6h0M213.4 208.8h0M183.1 201.2h0M113.3 241.3h0M142.5 231.5h0M174.7 227.0h0M145.9 229.1h0M128.1 253.1h0M178.6 185.8h0M125.2 250.3h0M131.4 235.0h0M126.8 253.3h0M102.6 233.9h0M134.5 248.7h0M114.0 256.6h0M179.5 213.8h0M170.8 210.1h0M185.8 210.9h0M101.0 210.6h0M156.0 228.1h0M106.1 219.4h0M122.0 244.6h0M136.4 236.8h0M143.4 236.1h0M141.7 245.7h0M208.0 200.9h0M121.3 226.1h0M187.5 223.9h0M110.7 248.6h0M174.8 225.2h0M150.8 211.0h0M158.6 245.3h0M108.7 253.2h0M131.0 234.1h0M168.4 217.3h0M137.6 213.7h0M121.0 228.2h0M219.9 210.4h0M247.1 207.6h0M111.6 270.3h0M165.3 205.8h0M127.2 236.3h0M165.4 224.3h0M109.0 219.1h0M177.8 203.7h0M146.0 274.5h0M105.5 253.0h0M173.2 190.4h0M147.6 224.8h0M113.6 255.2h0M113.5 243.3h0M113.7 252.4h0M142.8 235.5h0M189.0 234.3h0M185.0 209.8h0M98.9 207.5h0M134.4 232.9h0M166.2 241.2h0M245.3 193.4h0M140.0 203.0h0M128.7 223.8h0M155.4 250.5h0M160.5 200.9h0M113.2 249.0h0M151.8 242.6h0M151.9 253.0h0M191.0 212.1h0M154.3 251.9h0M142.5 241.3h0M184.3 223.3h0M108.1 236.4h0M107.7 222.8h0M147.0 248.2h0M126.0 245.9h0M145.2 228.8h0M138.6 222.8h0M234.7 204.0h0M127.6 235.2h0M186.5 221.5h0M157.5 252.6h0M134.4 261.7h0M225.6 215.5h0M113.0 253.6h0M110.9 227.1h0M150.5 218.8h0M112.9 226.7h0M92.0 196.2h0M161.2 230.4h0M150.8 224.9h0M183.4 205.6h0M154.5 236.2h0M95.7 238.6h0M180.1 238.0h0M114.7 216.5h0M195.7 188.6h0M184.2 239.4h0M143.9 218.6h0M142.3 228.0h0M184.1 220.9h0M202.8 216.4h0M196.5 185.0h0M145.0 225.3h0M105.5 234.8h0M101.5 258.6h0M203.0 191.0h0M99.7 231.5h0M90.3 223.3h0M144.3 247.5h0M156.5 193.3h0M216.4 219.1h0M123.0 243.7h0M114.2 228.2h0M134.3 261.4h0M192.5 222.3h0M179.2 196.5h0M159.4 222.9h0M119.9 266.7h0M155.5 224.7h0M152.3 249.2h0M168.0 211.1h0M131.8 240.3h0M108.5 256.1h0M101.4 247.1h0M203.9 195.9h0M136.7 234.6h0M198.9 220.8h0M131.1 251.4h0M116.1 239.4h0M174.6 231.3h0M175.5 246.7h0M151.6 208.8h0M189.2 182.7h0M181.6 209.8h0M185.0 216.5h0M120.8 253.9h0M127.5 252.0h0M127.9 213.6h0M187.8 176.5h0M194.9 201.4h0M167.7 196.2h0M127.9 246.0h0M163.3 225.5h0M123.8 251.8h0M111.3 232.3h0M127.9 252.9h0M155.7 255.8h0M184.6 209.4h0M138.3 251.2h0M186.6 230.0h0M155.2 227.1h0M154.7 233.4h0M133.2 245.0h0M125.6 250.4h0M107.6 233.1h0M200.0 209.6h0M184.3 204.8h0M119.1 249.8h0M98.1 244.0h0M131.7 252.3h0M102.4 222.9h0M130.9 217.0h0M190.2 203.2h0M130.8 238.5h0M129.3 242.7h0M189.4 218.3h0M183.8 234.1h0M118.4 216.6h0M193.2 187.7h0M114.1 230.3h0M116.2 242.2h0M159.8 234.3h0M199.7 212.9h0M103.7 208.9h0M124.5 229.0h0M123.6 217.7h0M119.8 267.1h0M103.0 225.6h0M182.5 220.4h0M159.9 243.5h0M159.4 229.1h0M180.9 208.6h0M115.0 214.3h0M180.6 181.3h0M162.8 228.9h0M186.1 183.0h0M148.9 218.3h0M138.0 249.7h0M129.3 229.6h0M159.1 227.6h0M149.9 249.5h0M106.7 240.7h0M124.5 230.6h0M105.4 230.5h0M153.8 220.7h0M121.7 213.3h0M168.4 214.1h0M182.1 218.9h0M106.4 230.8h0M103.8 222.2h0M184.9 229.4h0M109.3 245.1h0M181.7 236.0h0M112.7 244.0h0M184.3 197.8h0M127.8 249.5h0M124.9 253.5h0M106.5 244.9h0M104.8 238.9h0M175.5 235.8h0M172.2 231.9h0M131.6 253.2h0M98.3 231.0h0M138.8 237.9h0M100.9 232.9h0M182.3 186.8h0M139.9 218.5h0M163.1 204.7h0M161.9 220.7h0M97.8 248.4h0M104.3 218.4h0M124.6 232.0h0M126.9 240.0h0M100.8 247.6h0M164.1 225.0h0M133.3 247.2h0M123.5 204.3h0M195.1 220.4h0M126.1 237.2h0M111.5 242.9h0M160.6 215.6h0M142.9 219.0h0M132.9 258.6h0M93.3 193.8h0M127.9 219.4h0M160.3 218.3h0M145.6 240.0h0M195.3 228.0h0M177.7 216.3h0M167.1 198.9h0M165.8 195.9h0M104.8 213.2h0M96.2 225.9h0M165.5 194.2h0M163.0 216.3h0M145.1 219.7h0M102.7 237.2h0M102.3 254.8h0M130.2 218.4h0M214.0 229.4h0M172.0 209.9h0M141.9 237.6h0M163.5 251.2h0M111.4 250.3h0M185.4 195.3h0M160.7 231.8h0M229.4 235.9h0M120.6 234.8h0M192.2 200.9h0M218.7 198.8h0M233.2 213.2h0M140.9 239.0h0M121.2 235.3h0M130.1 265.4h0M135.4 235.0h0M95.2 222.8h0M181.8 207.7h0M191.6 192.4h0M162.2 221.4h0M122.9 261.0h0M114.9 246.4h0M137.0 247.3h0M232.6 229.7h0M178.5 213.0h0M141.8 250.0h0M117.9 233.3h0M120.9 257.5h0M109.5 238.1h0M225.7 233.1h0M107.8 218.3h0M117.6 249.7h0M180.4 216.4h0M111.8 249.9h0M112.6 225.7h0M113.4 246.7h0M198.8 213.7h0M174.6 222.2h0M138.0 222.5h0M124.4 214.4h0M108.1 247.2h0M154.4 199.0h0M146.2 233.5h0M152.4 221.8h0M101.4 232.6h0M101.9 231.7h0M169.4 226.5h0M118.0 239.7h0M221.9 212.0h0M151.7 225.8h0M135.0 234.5h0M136.5 236.2h0M142.6 228.0h0M171.6 225.1h0M173.5 185.4h0M233.8 197.1h0M142.4 253.8h0M105.5 246.1h0M188.7 190.6h0M181.2 219.0h0M105.8 239.2h0M128.0 254.3h0M106.2 230.1h0M198.1 209.4h0M124.1 228.0h0M137.3 236.1h0M185.6 190.8h0M196.0 189.1h0M103.4 227.0h0M195.7 233.0h0M149.4 243.0h0M155.3 214.5h0M200.8 223.8h0M128.2 261.8h0M100.0 246.8h0M135.4 255.4h0M132.9 239.1h0M94.3 231.6h0M173.9 232.8h0M107.7 198.4h0M134.4 226.4h0M118.3 242.9h0M114.8 219.4h0M158.0 199.0h0M167.9 198.4h0M129.6 242.2h0M103.4 197.9h0M147.7 255.4h0M149.7 220.8h0M119.8 235.9h0M198.5 212.7h0M104.4 231.5h0M127.1 260.6h0M122.8 240.3h0M142.7 237.0h0M141.8 229.0h0M100.9 234.6h0M168.3 215.6h0M152.4 237.5h0M113.3 250.5h0M183.8 226.6h0M156.2 244.5h0M108.0 252.7h0M152.7 190.2h0M127.2 213.8h0M138.5 223.0h0M182.3 179.8h0M164.5 212.8h0M100.7 240.3h0M193.1 195.2h0M177.8 225.4h0M145.0 261.5h0M137.2 227.5h0M155.1 220.6h0M119.5 241.5h0M109.2 248.4h0M144.9 246.6h0M111.2 235.1h0M139.1 250.2h0M117.6 256.0h0M92.3 246.5h0M122.9 238.9h0M232.4 221.7h0M191.9 180.8h0M178.8 191.3h0M126.0 235.3h0M182.5 198.4h0M144.8 254.2h0M169.7 221.7h0M135.0 236.4h0M108.8 241.8h0M154.2 225.1h0M105.6 248.6h0M220.9 194.6h0M129.0 245.8h0M133.6 240.5h0M202.0 220.2h0M132.3 255.8h0M118.9 262.1h0M103.8 221.0h0M117.9 239.8h0M94.1 230.7h0M111.6 248.1h0M133.1 247.4h0M191.0 206.8h0M152.8 223.8h0M194.5 207.5h0M155.9 217.9h0M168.6 204.0h0M170.3 211.8h0M145.0 248.1h0M127.2 239.0h0M110.9 233.6h0M117.0 229.0h0M92.0 182.2h0M92.0 190.4h0M97.4 196.9h0M105.0 179.0h0M105.0 183.5h0M111.7 180.9h0M111.7 186.6h0M111.7 189.8h0M126.0 186.0h0M130.8 191.7h0M133.6 190.8h0M122.2 194.6h0M118.4 195.5h0M113.6 196.5h0M84.1 211.7h0M77.4 215.9h0M161.2 181.2h0M164.1 172.7h0M152.7 191.7h0M178.4 174.0h0M206.0 180.9h0M239.3 189.8h0M239.3 195.5h0M240.3 202.2h0M241.2 206.0h0M254.6 201.2h0M255.5 204.1h0M257.4 215.9h0M246.0 208.9h0M249.8 213.6h0M247.0 219.3h0M248.9 224.1h0M225.0 193.6h0M231.7 198.4h0M91.7 232.9h0M91.7 237.2h0M91.7 241.8h0M91.7 251.9h0M91.7 254.4h0M91.7 257.6h0M75.5 231.5h0M75.9 261.4h0M99.3 272.9h0M102.2 274.8h0M104.1 279.5h0M102.2 269.0h0M109.8 271.9h0M110.8 273.8h0M105.0 263.3h0M107.0 263.9h0M116.5 288.1h0M119.3 279.5h0M120.3 275.7h0M117.4 272.9h0M123.1 271.9h0M126.6 271.0h0M136.5 271.0h0M141.2 272.9h0M153.6 272.9h0M150.8 266.2h0M154.6 265.2h0M132.7 262.4h0M139.3 265.2h0M183.5 252.5h0M173.6 260.5h0M181.6 265.2h0M192.7 244.3h0M187.0 242.4h0M204.1 243.3h0M208.9 243.3h0M224.1 231.9h0M229.8 231.0h0M225.0 235.7h0M227.0 240.5h0M228.9 241.4h0M254.6 232.9h0M244.0 230.0h0" stroke="#B4B5B8" stroke-width="2.8" stroke-linecap="round" fill="none"/></g>
<line x1="67.00" y1="247.00" x2="265.90" y2="201.60" stroke="#555555" stroke-width="1.7" />
<rect x="67" y="167.6" width="198.90" height="125.70" fill="none" stroke="#8E8E8E" stroke-width="1.45"/>
<line x1="100.00" y1="293.30" x2="100.00" y2="298.30" stroke="#666" stroke-width="1.6" />
<text x="100.00" y="312.80" font-size="15.2" fill="#5A5A5A" text-anchor="middle" >−4</text>
<line x1="160.00" y1="293.30" x2="160.00" y2="298.30" stroke="#666" stroke-width="1.6" />
<text x="160.00" y="312.80" font-size="15.2" fill="#5A5A5A" text-anchor="middle" >−2</text>
<line x1="220.00" y1="293.30" x2="220.00" y2="298.30" stroke="#666" stroke-width="1.6" />
<text x="220.00" y="312.80" font-size="15.2" fill="#5A5A5A" text-anchor="middle" >0</text>
<line x1="62.00" y1="168.50" x2="67.00" y2="168.50" stroke="#666" stroke-width="1.6" />
<text x="59.00" y="173.70" font-size="15.2" fill="#5A5A5A" text-anchor="end" >2</text>
<line x1="62.00" y1="197.90" x2="67.00" y2="197.90" stroke="#666" stroke-width="1.6" />
<text x="59.00" y="203.10" font-size="15.2" fill="#5A5A5A" text-anchor="end" >1</text>
<line x1="62.00" y1="227.30" x2="67.00" y2="227.30" stroke="#666" stroke-width="1.6" />
<text x="59.00" y="232.50" font-size="15.2" fill="#5A5A5A" text-anchor="end" >0</text>
<line x1="62.00" y1="256.70" x2="67.00" y2="256.70" stroke="#666" stroke-width="1.6" />
<text x="59.00" y="261.90" font-size="15.2" fill="#5A5A5A" text-anchor="end" >−1</text>
<line x1="62.00" y1="286.10" x2="67.00" y2="286.10" stroke="#666" stroke-width="1.6" />
<text x="59.00" y="291.30" font-size="15.2" fill="#5A5A5A" text-anchor="end" >−2</text>
<rect x="322.2" y="167.5" width="198.80" height="125.90" fill="#fff"/>
<line x1="342.68" y1="167.50" x2="342.68" y2="293.40" stroke="#EBEBEB" stroke-width="1.0" />
<line x1="398.62" y1="167.50" x2="398.62" y2="293.40" stroke="#EBEBEB" stroke-width="1.0" />
<line x1="454.57" y1="167.50" x2="454.57" y2="293.40" stroke="#EBEBEB" stroke-width="1.0" />
<line x1="510.52" y1="167.50" x2="510.52" y2="293.40" stroke="#EBEBEB" stroke-width="1.0" />
<line x1="322.20" y1="189.50" x2="521.00" y2="189.50" stroke="#EBEBEB" stroke-width="1.0" />
<line x1="322.20" y1="219.90" x2="521.00" y2="219.90" stroke="#EBEBEB" stroke-width="1.0" />
<line x1="322.20" y1="250.30" x2="521.00" y2="250.30" stroke="#EBEBEB" stroke-width="1.0" />
<line x1="322.20" y1="280.70" x2="521.00" y2="280.70" stroke="#EBEBEB" stroke-width="1.0" />
<line x1="370.65" y1="167.50" x2="370.65" y2="293.40" stroke="#EBEBEB" stroke-width="1.4" />
<line x1="426.60" y1="167.50" x2="426.60" y2="293.40" stroke="#EBEBEB" stroke-width="1.4" />
<line x1="482.55" y1="167.50" x2="482.55" y2="293.40" stroke="#EBEBEB" stroke-width="1.4" />
<line x1="322.20" y1="174.30" x2="521.00" y2="174.30" stroke="#EBEBEB" stroke-width="1.4" />
<line x1="322.20" y1="204.70" x2="521.00" y2="204.70" stroke="#EBEBEB" stroke-width="1.4" />
<line x1="322.20" y1="235.10" x2="521.00" y2="235.10" stroke="#EBEBEB" stroke-width="1.4" />
<line x1="322.20" y1="265.50" x2="521.00" y2="265.50" stroke="#EBEBEB" stroke-width="1.4" />
<g fill="#B4B5B8"><path d="M411.9 241.0h0M447.3 247.1h0M411.8 248.8h0M387.6 247.8h0M417.0 201.7h0M385.7 251.4h0M382.0 257.4h0M375.2 248.5h0M466.1 203.2h0M407.8 241.7h0M419.0 252.0h0M456.8 222.4h0M378.7 246.1h0M448.3 216.9h0M447.1 207.7h0M377.6 245.5h0M442.3 230.4h0M433.8 217.6h0M413.0 240.2h0M376.1 231.5h0M404.1 240.7h0M401.8 263.6h0M448.3 212.4h0M382.5 232.7h0M417.5 248.4h0M371.3 253.5h0M361.8 221.0h0M453.7 226.8h0M355.5 216.7h0M356.8 216.4h0M444.9 230.5h0M344.4 216.7h0M418.6 256.7h0M430.4 221.5h0M400.1 263.5h0M419.4 242.4h0M382.0 230.8h0M400.0 254.7h0M387.9 259.7h0M410.6 229.7h0M450.0 226.8h0M396.4 250.7h0M439.8 225.8h0M414.2 254.0h0M421.0 249.0h0M392.2 253.4h0M419.9 238.4h0M381.8 251.3h0M391.3 238.3h0M398.8 244.7h0M351.7 212.7h0M434.5 201.3h0M420.9 237.0h0M439.7 222.8h0M486.2 201.2h0M447.8 239.2h0M392.8 206.3h0M451.0 223.6h0M440.3 216.5h0M422.5 245.4h0M459.4 190.7h0M373.9 228.9h0M397.0 254.6h0M413.5 240.3h0M412.7 240.5h0M432.8 244.2h0M472.6 223.4h0M459.2 234.6h0M391.1 251.9h0M444.4 226.4h0M460.6 222.7h0M416.8 242.5h0M376.4 255.6h0M453.3 245.8h0M430.5 230.7h0M404.5 243.6h0M391.5 233.4h0M371.1 238.2h0M369.6 237.1h0M386.3 255.1h0M375.6 255.5h0M458.7 245.0h0M393.7 250.2h0M392.3 268.2h0M440.2 252.4h0M404.4 237.9h0M432.1 210.9h0M469.2 217.7h0M415.8 266.0h0M421.6 250.8h0M466.7 217.2h0M418.1 258.9h0M467.3 227.5h0M488.6 211.0h0M403.4 239.2h0M374.0 236.9h0M396.8 242.5h0M473.1 227.1h0M372.6 247.4h0M394.8 233.6h0M423.0 252.9h0M373.7 265.9h0M417.1 246.3h0M424.2 230.4h0M400.6 237.8h0M422.3 199.8h0M427.9 236.5h0M426.3 227.7h0M436.7 251.8h0M428.4 196.5h0M412.4 247.8h0M414.7 230.9h0M432.5 219.2h0M385.9 232.6h0M378.6 245.1h0M434.6 226.9h0M376.9 224.8h0M357.1 222.5h0M466.9 218.4h0M388.2 249.6h0M362.7 220.9h0M417.6 232.0h0M407.1 274.8h0M411.9 255.4h0M433.2 237.1h0M402.8 235.7h0M412.5 238.7h0M390.2 248.2h0M358.6 246.8h0M356.4 204.2h0M357.9 216.5h0M386.9 269.9h0M423.7 244.0h0M395.5 254.8h0M380.5 214.2h0M360.3 214.3h0M443.4 227.1h0M428.4 237.6h0M411.7 248.1h0M375.4 253.6h0M389.0 243.6h0M404.2 245.0h0M383.5 231.6h0M434.4 217.4h0M422.6 243.0h0M421.0 247.6h0M366.8 199.4h0M416.3 261.3h0M404.9 237.1h0M396.2 247.1h0M455.7 213.7h0M463.8 218.9h0M385.5 239.8h0M385.1 241.9h0M380.2 232.8h0M376.2 225.1h0M417.6 261.6h0M435.2 231.8h0M444.3 220.8h0M436.6 237.1h0M436.6 223.7h0M374.7 251.7h0M414.3 258.0h0M462.4 224.2h0M407.7 235.2h0M379.3 245.9h0M355.2 208.9h0M358.2 217.3h0M441.3 198.1h0M433.0 241.5h0M444.4 218.6h0M367.6 240.9h0M371.4 242.3h0M444.4 221.5h0M383.1 240.1h0M392.3 229.8h0M454.1 231.2h0M442.6 200.1h0M432.3 233.2h0M447.5 236.0h0M458.2 231.3h0M456.2 254.0h0M373.5 251.4h0M378.8 219.1h0M415.4 245.4h0M443.0 206.5h0M422.8 234.5h0M371.2 235.7h0M421.0 237.0h0M373.0 241.5h0M425.5 219.8h0M429.4 226.4h0M455.8 215.3h0M422.0 234.5h0M423.8 248.3h0M405.3 255.7h0M400.4 246.5h0M423.0 206.3h0M402.2 239.8h0M467.7 224.1h0M373.2 241.3h0M367.5 250.6h0M400.7 251.8h0M393.1 238.6h0M394.3 240.6h0M420.1 242.5h0M445.2 232.2h0M419.1 245.2h0M451.0 207.6h0M423.1 237.9h0M430.8 233.8h0M437.9 248.0h0M364.5 208.0h0M365.1 241.7h0M454.7 248.7h0M380.3 219.1h0M465.1 216.8h0M386.1 268.8h0M386.7 235.5h0M447.3 229.2h0M454.4 225.5h0M361.3 266.4h0M448.3 211.3h0M444.1 206.5h0M370.1 239.9h0M436.9 213.8h0M409.9 228.4h0M379.2 249.8h0M398.2 264.6h0M401.8 258.0h0M362.7 244.7h0M407.3 229.7h0M395.3 245.3h0M448.8 220.5h0M484.1 225.5h0M437.2 242.8h0M418.5 266.2h0M426.0 216.3h0M438.4 244.2h0M434.5 216.4h0M398.3 237.1h0M375.7 261.1h0M428.4 227.6h0M393.2 248.9h0M380.9 257.3h0M422.9 239.4h0M435.8 216.7h0M374.8 271.6h0M436.0 223.7h0M390.3 226.7h0M420.2 238.1h0M392.8 239.6h0M454.2 214.7h0M367.6 204.6h0M356.5 214.2h0M467.5 244.9h0M401.2 228.7h0M434.7 249.1h0M420.5 250.6h0M464.1 224.7h0M413.3 233.2h0M364.4 244.2h0M450.1 228.5h0M355.9 221.8h0M440.9 228.5h0M416.8 255.1h0M428.7 243.9h0M449.0 220.1h0M390.1 236.7h0M449.2 242.7h0M439.7 234.1h0M370.0 226.6h0M408.2 240.1h0M386.6 253.9h0M411.8 247.3h0M411.0 233.7h0M455.3 223.4h0M375.4 265.5h0M414.9 233.2h0M399.0 234.2h0M411.6 201.0h0M375.4 226.3h0M455.7 222.5h0M376.0 244.0h0M442.1 234.7h0M379.3 233.5h0M412.8 259.7h0M367.0 230.5h0M437.9 242.1h0M380.7 245.8h0M400.3 237.6h0M362.2 244.4h0M415.4 241.9h0M404.9 244.3h0M390.0 236.0h0M370.1 224.3h0M414.0 255.7h0M430.0 226.6h0M360.2 238.0h0M374.9 237.6h0M457.8 227.8h0M401.3 224.4h0M360.7 230.2h0M416.2 239.4h0M388.9 239.5h0M415.6 233.2h0M401.0 240.2h0M458.7 219.5h0M457.6 247.3h0M414.0 264.5h0M459.2 236.6h0M396.2 231.7h0M475.3 227.1h0M453.9 220.2h0M385.9 224.1h0M468.9 233.6h0M417.8 222.5h0M432.4 231.6h0M361.2 220.0h0M407.6 206.1h0M381.8 258.8h0M360.9 232.5h0M382.0 237.0h0M377.1 249.4h0M421.3 266.4h0M356.4 218.6h0M411.6 257.8h0M444.9 218.4h0M377.3 243.0h0M397.0 233.2h0M433.1 244.0h0M435.6 241.7h0M381.9 258.0h0M397.3 240.8h0M389.7 234.5h0M378.4 252.1h0M424.3 265.0h0M467.6 203.6h0M472.3 222.7h0M399.6 228.1h0M449.3 209.1h0M427.9 231.9h0M377.3 238.3h0M452.7 237.9h0M380.5 251.0h0M377.2 236.5h0M407.7 223.3h0M382.8 244.9h0M386.6 235.9h0M391.6 255.5h0M404.2 256.5h0M410.0 231.9h0M399.5 235.1h0M469.9 218.0h0M420.7 249.5h0M382.7 251.7h0M425.1 212.1h0M470.5 234.9h0M456.0 218.7h0M425.9 222.8h0M391.7 235.1h0M430.1 214.4h0M402.5 237.0h0M440.5 240.2h0M366.7 256.0h0M413.1 241.1h0M465.5 208.0h0M460.8 223.0h0M363.5 238.0h0M397.9 254.7h0M406.4 242.6h0M402.0 238.8h0M448.6 239.6h0M407.0 228.7h0M417.1 254.4h0M441.5 232.4h0M405.2 251.1h0M383.0 241.5h0M450.9 225.1h0M425.8 230.5h0M375.9 221.8h0M478.3 234.1h0M373.9 227.3h0M406.2 239.8h0M405.7 247.4h0M448.9 234.8h0M443.0 203.2h0M456.2 209.5h0M444.9 218.5h0M439.0 209.6h0M358.2 218.4h0M460.6 227.9h0M471.2 209.3h0M374.6 266.6h0M459.6 213.5h0M462.4 207.1h0M380.5 249.2h0M439.8 212.5h0M390.9 248.6h0M379.7 249.4h0M354.4 227.5h0M431.6 237.2h0M428.4 257.7h0M408.3 244.1h0M466.4 213.9h0M360.9 236.3h0M380.5 248.8h0M386.6 226.1h0M442.0 208.8h0M404.7 246.5h0M419.8 239.0h0M436.5 207.7h0M422.2 235.6h0M467.1 233.2h0M445.4 209.7h0M424.3 243.4h0M438.4 221.7h0M376.3 240.3h0M448.6 208.2h0M425.1 246.6h0M384.4 242.1h0M367.7 263.5h0M412.8 241.6h0M376.9 220.8h0M397.2 240.7h0M419.3 199.9h0M448.9 204.5h0M386.1 229.5h0M432.8 233.1h0M411.1 238.1h0M421.3 229.5h0M420.7 248.1h0M357.5 215.1h0M398.6 245.9h0M452.5 200.5h0M403.4 257.2h0M422.4 250.6h0M429.8 232.7h0M403.7 247.4h0M458.2 206.5h0M419.6 241.2h0M398.3 260.5h0M440.6 236.5h0M369.9 265.5h0M398.7 250.1h0M393.5 239.9h0M396.2 249.4h0M408.9 245.7h0M392.3 256.9h0M456.3 201.9h0M371.4 256.1h0M391.2 245.9h0M376.7 236.2h0M401.6 239.2h0M411.8 229.0h0M378.5 213.5h0M451.6 204.0h0M363.7 219.3h0M399.7 247.8h0M464.9 218.1h0M450.9 232.7h0M355.7 234.7h0M406.0 265.8h0M370.9 203.0h0M455.8 216.9h0M437.0 244.7h0M375.4 268.5h0M379.0 250.6h0M458.4 211.2h0M401.7 247.7h0M390.4 237.2h0M397.4 251.7h0M447.6 223.2h0M428.9 238.2h0M423.0 238.7h0M429.9 216.9h0M429.7 222.3h0M410.1 225.7h0M421.9 239.7h0M391.0 241.8h0M395.1 232.0h0M404.7 261.2h0M425.2 242.3h0M390.8 233.0h0M360.9 259.8h0M436.4 230.3h0M422.9 264.1h0M367.2 226.7h0M409.2 238.4h0M386.5 266.0h0M403.9 245.2h0M449.7 234.2h0M383.4 234.1h0M457.9 201.2h0M410.2 242.7h0M457.4 222.2h0M423.3 225.0h0M359.1 249.8h0M446.9 235.2h0M390.6 238.5h0M475.6 207.4h0M418.4 240.3h0M386.0 241.1h0M413.9 247.5h0M373.7 218.1h0M379.9 242.2h0M431.7 241.2h0M452.8 213.9h0M406.6 253.8h0M446.2 210.7h0M437.0 232.5h0M361.5 235.7h0M445.6 231.3h0M443.1 219.1h0M443.5 253.0h0M432.9 253.7h0M434.5 225.3h0M384.4 250.8h0M443.7 220.9h0M370.1 213.9h0M385.6 237.9h0M382.9 265.5h0M404.1 248.5h0M428.6 257.3h0M388.3 230.2h0M452.5 226.2h0M436.3 228.2h0M452.3 211.7h0M413.8 224.8h0M426.1 194.3h0M397.8 257.4h0M427.1 209.7h0M475.1 210.5h0M370.2 243.2h0M442.7 210.4h0M380.1 235.5h0M399.8 237.1h0M423.2 212.1h0M387.4 261.4h0M426.9 265.3h0M411.4 234.0h0M418.1 234.4h0M357.8 216.1h0M408.3 230.3h0M389.2 254.6h0M454.1 225.7h0M425.8 227.6h0M414.1 227.2h0M380.6 268.7h0M424.9 202.7h0M384.1 239.0h0M403.7 243.8h0M443.3 214.8h0M454.5 217.4h0M404.4 261.9h0M408.4 215.0h0M421.3 255.0h0M413.4 215.6h0M406.6 231.6h0M370.4 227.8h0M355.5 210.2h0M372.7 253.2h0M430.4 218.8h0M430.6 226.6h0M453.4 195.5h0M392.8 244.6h0M405.8 246.9h0M418.5 222.4h0M411.3 250.6h0M410.1 226.1h0M355.9 220.0h0M451.5 209.1h0M419.6 251.0h0M375.1 269.3h0M422.8 240.9h0M406.9 263.2h0M419.9 256.5h0M419.6 253.8h0M429.3 246.7h0M400.4 246.2h0M438.0 218.8h0M362.9 213.8h0M423.9 247.7h0M396.5 246.2h0M424.6 223.7h0M450.1 214.1h0M400.2 248.9h0M374.4 213.8h0M351.0 218.4h0M406.5 255.5h0M362.7 196.2h0M391.8 243.0h0M454.7 226.5h0M427.8 217.6h0M421.3 265.3h0M362.9 244.7h0M434.9 240.5h0M398.2 212.9h0M363.6 220.4h0M381.0 239.3h0M420.8 203.6h0M448.2 224.9h0M423.5 239.9h0M418.3 264.5h0M375.5 223.3h0M431.8 226.4h0M359.4 214.3h0M462.0 212.8h0M418.5 253.8h0M421.6 260.7h0M375.0 255.6h0M442.5 242.0h0M431.3 237.3h0M434.5 198.2h0M437.9 234.3h0M422.0 218.4h0M384.7 241.5h0M375.3 252.4h0M386.2 227.3h0M403.9 240.2h0M369.5 243.9h0M400.4 240.2h0M378.3 229.1h0M375.5 262.9h0M364.4 239.9h0M358.8 212.8h0M473.5 216.3h0M424.5 240.1h0M372.5 238.7h0M388.1 243.1h0M439.3 237.9h0M428.3 230.3h0M402.3 248.3h0M404.5 216.2h0M409.7 241.7h0M417.9 230.6h0M455.9 239.9h0M394.2 264.6h0M398.0 251.1h0M396.0 227.3h0M475.0 213.6h0M428.3 238.4h0M378.9 268.5h0M414.5 239.0h0M373.6 244.5h0M414.7 238.9h0M404.9 219.6h0M359.0 231.2h0M444.1 206.4h0M411.4 241.0h0M449.2 219.9h0M391.5 241.5h0M393.0 244.9h0M374.7 244.2h0M365.3 202.3h0M395.2 248.4h0M388.8 252.0h0M392.8 268.0h0M466.7 234.9h0M373.1 258.7h0M387.1 260.5h0M414.5 243.4h0M449.8 232.1h0M391.6 244.5h0M441.8 228.1h0M434.5 226.7h0M395.6 238.4h0M392.5 231.2h0M375.0 245.0h0M371.5 246.7h0M408.2 255.5h0M404.2 233.6h0M406.8 249.2h0M396.9 227.6h0M423.1 261.1h0M364.5 253.7h0M396.1 244.1h0M384.6 241.2h0M448.8 215.9h0M366.5 219.3h0M448.8 216.4h0M374.8 248.5h0M404.7 190.2h0M430.8 221.2h0M358.9 218.9h0M407.8 237.5h0M364.0 217.2h0M356.4 217.9h0M358.9 237.7h0M465.3 217.1h0M457.1 197.0h0M382.1 265.7h0M376.4 239.7h0M421.2 241.7h0M408.7 245.8h0M418.4 252.6h0M425.2 233.7h0M429.5 249.4h0M437.3 235.8h0M415.8 236.0h0M381.4 254.0h0M421.1 228.9h0M399.9 247.0h0M442.2 249.9h0M359.8 220.7h0M370.5 234.3h0M428.8 242.1h0M382.2 238.9h0M470.5 233.6h0M360.6 227.2h0M380.8 257.1h0M395.7 251.4h0M409.2 256.5h0M420.0 251.2h0M427.4 215.2h0M457.2 221.1h0M472.5 225.6h0M365.6 206.5h0M430.1 239.1h0M445.1 229.5h0M442.9 226.4h0M369.1 221.2h0M446.7 227.8h0M460.1 228.6h0M477.5 238.9h0M402.6 228.8h0M373.1 220.6h0M378.2 256.8h0M376.7 233.5h0M425.8 220.1h0M450.4 243.1h0M389.7 240.7h0M474.2 246.0h0M436.5 244.1h0M419.8 232.1h0M392.5 237.3h0M421.5 234.0h0M406.0 240.9h0M409.0 263.5h0M405.0 238.4h0M396.7 253.5h0M438.4 227.3h0M389.9 256.5h0M464.9 228.8h0M361.2 239.5h0M386.8 233.7h0M372.8 255.7h0M458.2 200.2h0M409.8 247.6h0M407.3 238.9h0M397.2 236.2h0M422.2 253.1h0M457.2 227.8h0M375.7 260.7h0M393.2 230.3h0M422.5 249.9h0M407.8 242.3h0M405.5 244.5h0M435.7 219.8h0M384.7 239.9h0M371.8 243.2h0M417.4 254.8h0M429.5 233.5h0M427.7 248.2h0M429.3 237.9h0M423.9 236.3h0M436.8 255.8h0M467.9 243.9h0M387.5 262.0h0M455.4 237.3h0M400.4 239.0h0M448.1 206.8h0M367.6 220.6h0M377.9 241.9h0M414.6 245.3h0M464.3 219.3h0M437.0 249.4h0M450.0 205.8h0M391.1 244.7h0M410.2 240.3h0M365.6 227.2h0M408.0 247.3h0M381.7 249.6h0M470.4 222.1h0M380.9 254.6h0M392.1 240.2h0M412.5 241.8h0M391.8 255.7h0M391.8 211.9h0M365.7 255.6h0M411.0 236.8h0M448.2 239.3h0M426.2 248.5h0M368.8 228.8h0M362.9 250.5h0M430.0 243.3h0M442.0 216.5h0M436.1 210.3h0M408.4 245.1h0M427.8 208.0h0M425.1 237.4h0M461.8 243.1h0M397.2 231.8h0M446.4 226.3h0M389.4 234.5h0M373.5 233.0h0M464.4 232.8h0M415.1 251.2h0M366.1 249.7h0M429.5 213.2h0M407.2 260.1h0M395.2 243.9h0M379.3 229.3h0M404.0 227.1h0M410.5 258.8h0M377.7 214.3h0M375.3 250.7h0M429.3 255.7h0M409.4 239.0h0M420.3 227.1h0M412.4 181.3h0M416.2 238.6h0M404.1 245.2h0M443.6 235.4h0M468.8 241.1h0M388.5 235.7h0M376.5 272.9h0M361.1 194.2h0M378.1 253.8h0M411.7 223.7h0M420.5 252.6h0M438.8 252.4h0M462.5 190.6h0M419.4 246.7h0M397.1 236.4h0M413.3 224.6h0M455.8 228.0h0M401.9 230.2h0M349.5 219.3h0M428.0 229.4h0M372.0 261.7h0M386.8 236.2h0M385.5 247.5h0M446.8 211.8h0M367.9 246.5h0M463.1 261.5h0M401.6 232.8h0M364.1 220.7h0M445.6 203.9h0M401.3 263.8h0M373.1 247.4h0M437.8 232.3h0M448.9 241.6h0M444.9 216.7h0M431.5 227.9h0M350.1 202.5h0M449.0 209.0h0M376.1 251.6h0M433.4 213.2h0M430.2 213.9h0M379.0 241.4h0M427.7 253.5h0M420.9 216.4h0M369.9 207.0h0M462.2 223.4h0M423.2 239.4h0M444.1 222.9h0M381.1 248.7h0M400.9 240.9h0M460.6 213.1h0M424.8 228.0h0M416.9 252.4h0M376.5 255.2h0M453.2 221.7h0M416.0 255.4h0M427.3 216.7h0M432.1 234.2h0M437.4 240.1h0M464.7 230.9h0M399.0 246.0h0M416.6 244.4h0M362.1 235.9h0M449.7 233.6h0M479.6 224.9h0M414.6 235.5h0M386.5 235.8h0M415.9 236.3h0M364.2 217.6h0M421.8 262.7h0M412.3 231.0h0M396.6 234.1h0M454.2 222.1h0M380.4 254.6h0M449.9 212.4h0M471.6 223.3h0M472.4 219.4h0M407.0 231.8h0M466.8 234.9h0M461.8 220.6h0M443.4 233.4h0M454.1 237.8h0M388.3 238.5h0M426.2 210.5h0M461.4 228.9h0M408.2 236.1h0M423.7 224.8h0M429.8 233.0h0M376.5 242.7h0M466.1 226.2h0M415.0 223.5h0M378.7 235.6h0M378.7 233.8h0M453.6 220.2h0M465.4 229.8h0M385.2 231.9h0M469.9 215.7h0M390.8 252.6h0M407.7 237.5h0M376.7 238.7h0M456.2 228.3h0M451.6 227.9h0M437.0 216.2h0M382.3 241.5h0M427.3 216.0h0M444.0 240.5h0M380.8 253.3h0M425.4 215.9h0M387.0 204.0h0M414.7 232.2h0M335.5 239.2h0M422.8 261.7h0M398.9 242.9h0M416.3 258.0h0M454.6 229.0h0M392.9 224.5h0M412.7 247.3h0M456.3 206.0h0M437.2 217.7h0M414.4 245.2h0M359.7 240.4h0M411.4 237.2h0M447.2 216.6h0M402.8 241.2h0M401.6 239.5h0M396.4 241.6h0M424.9 247.9h0M435.0 245.1h0M399.4 244.2h0M398.2 257.8h0M425.1 218.7h0M412.5 230.8h0M415.9 258.5h0M462.6 203.0h0M374.1 230.2h0M427.6 249.4h0M431.3 222.6h0M420.1 209.3h0M414.2 238.3h0M372.8 244.7h0M462.5 235.2h0M435.2 221.0h0M420.6 238.6h0M411.8 202.6h0M364.1 229.7h0M441.2 208.0h0M437.8 218.4h0M391.9 238.6h0M458.9 239.9h0M411.5 252.2h0M420.0 198.0h0M419.8 246.1h0M360.5 211.3h0M398.4 236.6h0M380.2 225.8h0M441.0 224.5h0M467.4 212.2h0M407.9 242.6h0M368.7 238.4h0M452.5 212.6h0M420.6 257.0h0M412.6 256.9h0M406.6 255.7h0M410.6 200.3h0M385.9 235.2h0M425.5 255.8h0M376.0 246.9h0M440.5 214.9h0M411.3 255.8h0M415.6 202.6h0M403.0 217.9h0M442.6 236.2h0M427.0 216.3h0M379.0 236.7h0M426.6 252.9h0M439.5 235.8h0M412.7 252.3h0M457.0 242.9h0M377.1 232.8h0M377.1 248.4h0M442.4 222.5h0M382.1 250.6h0M361.7 241.3h0M440.3 239.9h0M415.2 243.3h0M384.6 239.2h0M415.6 239.9h0M380.5 257.3h0M399.5 218.4h0M395.5 244.8h0M442.1 244.4h0M412.5 242.7h0M372.5 247.0h0M426.8 219.9h0M417.1 244.5h0M434.2 237.4h0M439.4 229.4h0M376.1 273.8h0M380.7 266.0h0M372.4 240.7h0M451.6 227.8h0M377.4 264.8h0M488.8 219.6h0M373.3 204.7h0M376.8 249.8h0M459.5 224.3h0M368.4 242.1h0M406.4 245.5h0M357.2 216.0h0M377.3 237.8h0M376.8 265.4h0M354.9 225.1h0M383.9 246.7h0M462.7 217.7h0M413.8 239.2h0M439.7 238.4h0M428.6 226.4h0M447.7 213.8h0M365.1 254.6h0M423.5 226.0h0M440.9 245.9h0M430.4 239.8h0M363.7 214.8h0M419.5 254.6h0M403.6 228.4h0M458.9 232.0h0M407.7 234.9h0M392.2 263.0h0M448.4 229.4h0M390.6 258.0h0M417.7 245.3h0M388.7 257.5h0M393.4 236.9h0M385.4 254.7h0M481.1 221.0h0M468.7 221.8h0M358.3 258.0h0M376.1 244.2h0M456.0 209.6h0M441.5 232.0h0M433.3 220.1h0M454.4 213.5h0M447.8 212.8h0M408.6 248.9h0M405.6 254.0h0M416.1 228.3h0M423.9 238.2h0M414.5 175.9h0M373.1 246.8h0M463.8 224.4h0M429.0 215.3h0M442.6 215.0h0M418.8 258.1h0M370.2 241.5h0M414.3 234.2h0M438.4 243.4h0M431.0 249.3h0M458.5 211.8h0M434.7 244.7h0M418.7 240.3h0M441.0 224.4h0M445.6 242.7h0M430.1 209.8h0M480.7 220.1h0M460.3 227.7h0M378.5 237.9h0M460.0 215.3h0M405.1 264.4h0M397.4 248.4h0M391.6 252.8h0M439.4 244.0h0M355.2 216.8h0M431.5 268.4h0M452.1 218.6h0M432.4 249.0h0M460.6 233.8h0M420.8 264.6h0M375.4 257.6h0M446.5 226.3h0M456.9 241.4h0M415.4 234.9h0M422.5 249.6h0M423.1 241.5h0M441.8 212.3h0M407.1 241.1h0M432.3 220.9h0M419.8 261.3h0M461.6 250.6h0M442.1 235.1h0M409.5 253.8h0M413.5 240.0h0M397.6 225.6h0M446.9 231.4h0M442.2 219.1h0M372.5 268.2h0M388.5 238.3h0M392.2 249.9h0M465.2 231.5h0M421.7 212.9h0M419.7 252.5h0M388.5 238.4h0M383.2 252.0h0M395.7 245.5h0M429.0 243.9h0M387.5 229.5h0M395.7 229.4h0M357.0 219.7h0M411.5 232.2h0M426.7 243.7h0M457.8 234.0h0M364.9 211.6h0M440.5 237.6h0M362.7 207.9h0M402.4 240.3h0M382.8 236.8h0M445.1 232.3h0M457.4 218.0h0M372.8 247.4h0M426.4 237.8h0M378.7 234.8h0M387.6 247.5h0M376.8 242.8h0M454.0 223.4h0M417.8 176.6h0M444.8 239.8h0M413.2 263.7h0M453.5 240.5h0M396.1 244.7h0M411.5 251.3h0M398.5 237.8h0M405.7 246.7h0M379.4 248.4h0M399.0 229.6h0M433.2 238.5h0M382.7 234.7h0M372.7 222.3h0M436.2 252.2h0M414.4 225.7h0M417.6 240.4h0M399.7 263.9h0M399.0 234.6h0M375.8 221.4h0M381.7 260.6h0M469.1 236.2h0M387.7 265.1h0M456.1 208.9h0M359.6 223.2h0M409.6 249.7h0M465.1 219.6h0M418.5 235.7h0M419.0 248.4h0M393.8 243.2h0M405.5 218.4h0M428.6 246.0h0M454.2 230.6h0M459.3 211.1h0M396.8 243.5h0M430.4 250.6h0M423.3 226.9h0M393.5 217.4h0M389.8 248.4h0M380.9 225.8h0M377.2 253.1h0M409.5 236.8h0M381.7 221.8h0M420.4 243.9h0M427.6 246.9h0M418.2 199.0h0M458.9 228.6h0M392.1 257.0h0M409.9 204.9h0M425.5 253.9h0M406.4 254.4h0M347.4 209.0h0M363.2 219.7h0M419.9 254.6h0M371.6 243.0h0M417.8 257.4h0M418.4 236.1h0M431.9 185.4h0M423.6 264.8h0M428.2 230.0h0M384.4 228.7h0M411.2 241.1h0M407.9 244.7h0M389.4 250.5h0M436.8 227.4h0M421.8 248.6h0M389.8 257.1h0M427.7 244.5h0M474.7 202.1h0M418.8 240.5h0M381.2 233.3h0M375.3 263.9h0M374.0 245.1h0M403.4 230.4h0M369.0 205.5h0M397.5 247.3h0M385.5 247.8h0M447.5 234.3h0M429.9 257.6h0M426.0 225.7h0M403.3 235.8h0M382.2 255.0h0M360.1 206.6h0M390.2 250.7h0M394.3 242.5h0M456.6 227.7h0M438.6 209.4h0M422.5 244.6h0M451.8 230.2h0M394.4 242.2h0M419.5 248.3h0M370.4 234.1h0M367.4 218.2h0M452.2 245.6h0M416.3 245.7h0M404.3 239.9h0M443.9 222.4h0M479.9 221.4h0M458.8 245.8h0M381.5 242.4h0M408.9 254.2h0M422.2 236.6h0M470.5 218.8h0M389.0 234.1h0M370.5 243.7h0M381.1 231.9h0M400.5 239.3h0M444.0 244.3h0M419.3 201.7h0M399.3 237.3h0M378.1 257.3h0M376.5 220.8h0M438.4 213.1h0M411.0 244.1h0M346.5 221.5h0M442.4 220.2h0M413.2 242.1h0M493.0 209.7h0M414.2 230.7h0M447.4 207.9h0M408.0 264.9h0M427.8 230.4h0M429.1 239.5h0M421.8 268.1h0M392.1 249.8h0M459.1 234.3h0M357.8 223.9h0M467.3 221.1h0M429.8 224.5h0M424.0 252.0h0M395.1 244.7h0M361.8 212.1h0M368.2 243.4h0M434.8 215.5h0M399.1 243.7h0M408.1 215.7h0M442.7 244.4h0M452.2 196.0h0M381.5 212.2h0M381.2 249.6h0M399.5 245.3h0M431.5 204.1h0M386.0 221.6h0M371.5 242.6h0M388.5 268.5h0M419.6 264.2h0M464.6 230.0h0M432.3 254.5h0M440.7 219.5h0M377.8 265.3h0M354.6 222.4h0M408.8 222.3h0M438.5 235.3h0M418.0 258.5h0M349.3 213.3h0M469.2 210.7h0M448.2 187.9h0M390.1 237.1h0M377.7 247.4h0M383.7 245.8h0M364.9 219.1h0M415.0 240.4h0M416.8 244.3h0M423.2 241.2h0M411.5 253.8h0M450.9 227.0h0M356.8 219.8h0M454.6 229.0h0M380.7 270.4h0M407.9 227.6h0M382.6 241.2h0M342.9 227.4h0M411.9 236.0h0M408.1 261.8h0M386.8 241.3h0M444.8 221.9h0M440.4 208.4h0M414.4 241.9h0M433.8 231.8h0M426.3 255.7h0M396.0 224.8h0M439.3 237.4h0M355.5 207.7h0M439.4 238.9h0M389.9 247.7h0M483.5 214.0h0M418.7 252.9h0M464.8 214.7h0M427.7 233.2h0M365.4 242.1h0M434.8 209.4h0M425.6 247.6h0M375.8 239.2h0M364.2 236.1h0M428.9 256.0h0M375.5 256.6h0M353.1 228.6h0M382.4 228.8h0M400.8 239.3h0M379.2 237.0h0M408.1 239.5h0M447.3 209.4h0M457.3 215.7h0M398.2 251.4h0M339.8 228.5h0M379.5 247.7h0M409.2 263.6h0M420.3 224.5h0M416.0 243.5h0M462.2 208.8h0M410.1 249.2h0M406.5 237.6h0M358.3 238.3h0M430.2 224.4h0M439.8 245.8h0M378.5 213.9h0M401.0 244.0h0M454.6 245.4h0M397.7 258.8h0M351.4 198.9h0M408.7 234.4h0M415.6 254.3h0M429.2 235.0h0M467.4 198.2h0M472.0 228.9h0M388.5 250.5h0M369.7 254.1h0M441.0 232.5h0M371.1 245.1h0M433.4 224.5h0M426.4 248.1h0M409.7 231.9h0M439.6 213.4h0M384.4 236.4h0M406.2 238.2h0M391.4 253.7h0M380.1 237.4h0M380.2 245.1h0M416.0 236.7h0M422.8 258.6h0M425.8 221.3h0M447.4 226.7h0M393.2 262.3h0M416.2 215.6h0M429.4 226.8h0M416.1 254.4h0M386.5 249.7h0M422.5 240.2h0M371.9 239.5h0M397.1 242.3h0M384.4 262.9h0M433.0 229.6h0M450.1 203.2h0M410.1 249.0h0M451.6 230.0h0M373.1 234.1h0M426.2 220.5h0M388.7 253.7h0M409.7 250.3h0M466.8 206.6h0M458.2 228.3h0M418.7 254.9h0M414.1 266.5h0M389.0 239.9h0M370.3 211.8h0M429.9 228.5h0M437.3 218.3h0M370.6 236.2h0M438.4 207.7h0M339.9 238.6h0M399.1 252.8h0M453.6 196.3h0M386.0 243.4h0M371.5 263.3h0M442.8 218.3h0M461.8 252.2h0M397.2 243.1h0M375.5 217.3h0M389.4 246.3h0M377.2 236.3h0M458.2 238.3h0M415.1 229.6h0M420.2 242.3h0M381.9 228.6h0M362.7 243.5h0M379.8 242.1h0M386.5 242.2h0M404.7 261.6h0M377.8 229.1h0M418.3 211.3h0M420.7 223.6h0M377.7 247.2h0M367.1 240.2h0M429.9 235.0h0M378.5 238.5h0M459.2 233.8h0M360.8 236.4h0M466.0 243.6h0M390.4 254.5h0M362.2 218.3h0M385.6 244.8h0M470.2 224.8h0M447.1 206.0h0M357.7 222.3h0M399.8 257.9h0M414.6 262.4h0M402.1 239.1h0M428.2 237.1h0M381.5 239.0h0M376.8 240.4h0M380.0 243.7h0M359.5 214.9h0M417.6 247.1h0M397.7 251.3h0M400.2 247.0h0M434.7 225.4h0M464.7 220.2h0M424.9 218.4h0M398.5 239.5h0M377.9 258.2h0M470.0 220.2h0M431.9 222.8h0M381.2 238.8h0M438.5 233.9h0M375.2 256.2h0M405.4 273.2h0M463.8 243.8h0M439.9 228.1h0M385.7 235.2h0M406.6 237.1h0M423.0 217.6h0M400.7 246.7h0M364.1 261.4h0M450.6 249.8h0M467.3 229.7h0M361.9 246.4h0M374.4 257.3h0M447.6 229.1h0M410.0 259.4h0M409.4 250.6h0M407.3 223.8h0M406.3 247.6h0M458.6 211.8h0M434.8 206.1h0M462.9 209.7h0M422.4 244.6h0M366.7 241.5h0M410.6 247.1h0M401.0 252.2h0M404.5 228.0h0M487.4 241.2h0M415.5 248.0h0M434.8 224.1h0M449.7 219.7h0M474.0 229.9h0M409.1 211.2h0M419.0 239.3h0M405.3 260.6h0M404.2 238.6h0M427.8 233.3h0M437.0 213.2h0M427.5 231.6h0M362.9 208.6h0M354.9 212.1h0M430.9 231.4h0M377.4 266.1h0M386.4 241.3h0M417.3 255.7h0M394.0 222.7h0M406.1 247.4h0M387.3 251.0h0M412.9 239.7h0M415.9 225.4h0M421.4 247.6h0M460.5 199.1h0M375.6 242.2h0M382.7 246.1h0M397.8 246.9h0M440.9 218.4h0M424.5 215.9h0M427.1 204.1h0M371.9 234.8h0M424.7 233.8h0M436.2 239.4h0M406.6 243.7h0M445.4 223.0h0M363.4 219.6h0M381.1 232.2h0M418.5 247.9h0M421.8 260.8h0M393.3 206.9h0M372.0 228.2h0M417.4 245.3h0M459.7 224.6h0M399.9 244.3h0M421.4 265.1h0M362.4 220.0h0M408.9 216.2h0M440.3 233.3h0M441.4 204.2h0M382.1 238.9h0M402.8 247.4h0M407.3 242.5h0M380.7 260.7h0M370.0 262.2h0M376.9 237.0h0M425.9 227.8h0M352.8 210.9h0M471.9 215.9h0M406.0 240.2h0M371.3 216.7h0M398.0 252.2h0M473.3 218.7h0M406.8 247.6h0M354.8 203.2h0M421.5 239.2h0M387.7 252.3h0M409.9 238.8h0M373.5 243.1h0M366.3 237.7h0M431.6 215.2h0M462.7 234.1h0M448.8 226.2h0M415.8 207.0h0M458.2 247.2h0M420.3 215.8h0M418.2 250.5h0M417.8 268.1h0M428.3 218.3h0M429.7 249.1h0M382.8 220.8h0M435.2 251.3h0M424.4 247.4h0M441.3 218.2h0M474.8 218.9h0M375.8 220.3h0M361.4 223.2h0M422.9 229.4h0M344.7 227.0h0M440.7 228.2h0M356.4 209.7h0M449.8 206.2h0M436.9 238.6h0M439.1 221.7h0M418.1 235.3h0M419.5 240.1h0M403.1 250.3h0M408.7 245.7h0M402.9 228.6h0M374.5 251.4h0M397.9 250.5h0M447.5 211.4h0M376.3 249.2h0M374.3 249.9h0M417.1 237.0h0M414.4 238.3h0M399.8 241.4h0M374.0 231.9h0M427.0 225.7h0M377.5 255.3h0M408.0 228.6h0M451.2 234.8h0M410.4 252.4h0M468.5 228.8h0M402.6 243.0h0M450.7 221.5h0M458.9 210.8h0M402.3 229.4h0M418.5 226.9h0M427.2 221.4h0M362.1 205.2h0M376.9 259.6h0M385.1 262.3h0M391.3 241.8h0M428.2 221.0h0M439.6 212.4h0M390.3 250.2h0M378.7 268.2h0M416.3 244.7h0M418.4 253.7h0M467.5 215.1h0M424.1 236.1h0M359.3 259.3h0M416.4 242.9h0M420.9 252.7h0M408.6 256.4h0M402.1 264.4h0M403.9 204.9h0M406.2 262.6h0M401.0 248.8h0M460.9 231.5h0M430.0 255.4h0M391.0 239.5h0M418.9 260.6h0M378.9 213.1h0M425.6 262.2h0M470.2 226.3h0M383.1 247.6h0M425.4 270.0h0M367.3 235.3h0M459.0 198.2h0M475.8 226.4h0M435.5 188.3h0M431.1 228.6h0M398.1 256.2h0M409.8 255.2h0M386.0 247.7h0M426.3 232.4h0M416.8 249.0h0M376.4 259.9h0M374.2 211.7h0M443.3 207.6h0M433.5 248.4h0M375.5 252.3h0M363.5 248.0h0M410.3 198.9h0M397.4 257.7h0M453.8 228.3h0M434.0 214.1h0M386.1 255.0h0M470.2 220.4h0M442.7 237.7h0M448.3 218.9h0M416.2 253.5h0M423.9 236.6h0M451.3 251.0h0M362.7 244.9h0M440.0 233.0h0M379.6 248.6h0M419.8 242.2h0M369.6 243.2h0M407.7 228.7h0M397.5 254.4h0M392.3 218.2h0M432.5 223.2h0M378.7 228.9h0M390.1 237.2h0M465.9 225.6h0M377.3 239.5h0M387.1 236.4h0M367.4 237.1h0M433.0 245.7h0M413.8 242.7h0M442.7 226.8h0M353.4 205.3h0M434.8 212.4h0M395.0 245.0h0M399.7 259.9h0M462.6 221.7h0M406.3 251.2h0M451.8 228.8h0M440.7 195.9h0M398.2 239.3h0M458.0 215.3h0M415.1 223.7h0M420.3 237.3h0M438.1 229.7h0M453.6 224.4h0M405.4 231.0h0M388.2 266.4h0M399.1 240.7h0M391.4 231.5h0M382.3 235.8h0M420.3 261.6h0M359.5 208.1h0M468.7 222.7h0M374.6 275.5h0M435.4 231.2h0M364.3 239.6h0M436.6 214.9h0M367.1 254.7h0M455.7 237.2h0M417.0 252.8h0M385.5 271.0h0M443.2 197.0h0M367.7 211.6h0M429.0 212.3h0M422.1 216.0h0M380.2 262.3h0M419.3 242.7h0M395.6 224.9h0M391.0 237.7h0M374.1 236.1h0M431.3 216.9h0M377.1 250.9h0M462.1 232.3h0M422.4 238.5h0M419.0 252.4h0M420.2 240.7h0M353.8 265.2h0M453.7 233.3h0M443.3 227.8h0M414.5 215.3h0M428.0 199.4h0M381.1 212.2h0M402.1 192.6h0M376.9 271.8h0M442.9 220.5h0M437.4 221.1h0M387.7 258.4h0M368.2 229.6h0M362.9 235.6h0M439.6 244.5h0M374.4 258.5h0M442.2 221.5h0M408.4 238.1h0M410.1 254.2h0M462.2 205.6h0M366.8 212.5h0M427.0 233.3h0M441.9 220.0h0M364.7 236.1h0M387.6 231.4h0M441.9 226.1h0M392.1 247.5h0M411.9 254.3h0M385.5 255.8h0M373.9 247.5h0M428.3 225.5h0M397.1 241.0h0M372.9 270.3h0M420.4 265.2h0M418.5 262.9h0M442.1 202.7h0M415.7 263.3h0M422.8 216.1h0M404.9 258.0h0M406.4 216.6h0M414.0 216.0h0M385.9 245.4h0M396.9 227.4h0M452.3 215.4h0M430.7 230.7h0M460.0 190.1h0M377.8 225.7h0M466.5 229.1h0M423.5 232.9h0M380.2 262.7h0M426.8 239.5h0M454.4 229.0h0M414.1 230.4h0M403.1 254.4h0M440.8 216.8h0M381.3 242.0h0M438.8 239.3h0M402.1 263.1h0M355.2 217.5h0M339.9 226.4h0M384.6 237.2h0M447.9 208.6h0M419.7 218.0h0M412.9 238.0h0M421.1 250.3h0M369.4 217.0h0M368.3 229.6h0M414.6 244.2h0M431.8 211.3h0M432.8 226.4h0M426.8 241.9h0M378.4 265.0h0M377.1 259.0h0M377.8 234.2h0M353.9 214.1h0M393.9 243.4h0M434.0 241.4h0M442.8 224.1h0M450.7 227.7h0M403.6 242.6h0M405.8 254.4h0M421.2 247.5h0M387.4 266.7h0M353.7 214.4h0M369.1 252.2h0M417.7 244.1h0M409.9 228.5h0M358.9 237.7h0M438.5 216.4h0M437.4 233.2h0M420.3 233.9h0M463.1 221.8h0M419.4 244.9h0M379.8 226.5h0M429.5 237.9h0M413.5 254.8h0M457.7 200.1h0M381.1 219.4h0M385.4 246.8h0M387.4 255.3h0M397.8 278.0h0M382.8 214.2h0M376.9 235.9h0M468.6 205.8h0M401.6 238.5h0M459.5 227.4h0M392.6 235.7h0M408.8 238.2h0M400.0 239.8h0M408.2 244.3h0M409.8 240.1h0M343.5 227.1h0M384.6 256.1h0M447.8 244.1h0M420.8 232.4h0M395.4 238.8h0M463.5 222.6h0M449.4 236.6h0M343.5 211.3h0M393.2 221.5h0M402.9 199.6h0M411.8 256.4h0M395.9 233.3h0M356.0 220.9h0M406.9 238.7h0M363.4 224.8h0M425.9 230.2h0M464.4 219.2h0M414.0 255.5h0M412.4 245.5h0M374.9 273.0h0M357.1 213.0h0M456.3 213.3h0M375.1 240.6h0M374.8 254.8h0M357.0 235.8h0M424.5 242.4h0M392.6 239.2h0M441.2 223.5h0M404.1 235.6h0M446.2 210.0h0M403.7 231.0h0M439.7 237.0h0M393.5 243.0h0M374.0 239.4h0M427.2 225.6h0M469.3 226.0h0M430.3 216.0h0M421.2 249.1h0M416.1 266.3h0M459.8 189.2h0M380.5 250.5h0M433.7 225.3h0M360.9 241.5h0M425.0 208.3h0M372.1 251.4h0M423.0 250.3h0M401.1 253.4h0M440.6 233.5h0M440.0 219.3h0M388.8 265.3h0M423.4 268.3h0M377.1 213.5h0M379.7 208.8h0M413.2 227.9h0M427.7 244.9h0M432.7 254.9h0M402.3 240.3h0M430.4 219.0h0M438.6 220.5h0M406.3 256.0h0M438.3 231.7h0M431.2 226.3h0M370.8 232.2h0M442.9 230.6h0M389.4 238.4h0M452.0 226.4h0M426.5 229.2h0M458.7 211.3h0M356.6 212.9h0M406.3 241.8h0M422.7 220.1h0M411.5 241.1h0M405.8 246.1h0M406.1 247.8h0M371.9 220.1h0M411.4 261.5h0M363.7 234.0h0M412.6 246.3h0M429.4 244.3h0M428.1 216.5h0M440.2 238.3h0M450.7 220.1h0M438.0 211.2h0M471.9 204.6h0M379.1 243.1h0M412.0 260.0h0M402.6 240.1h0M448.1 201.9h0M401.9 238.4h0M457.1 244.7h0M413.7 255.1h0M402.4 273.3h0M387.5 226.6h0M472.5 210.7h0M459.7 234.5h0M429.3 219.6h0M354.7 241.1h0M404.0 246.0h0M368.1 233.2h0M443.0 198.8h0M448.5 213.6h0M397.8 246.4h0M466.4 224.5h0M444.1 224.6h0M385.0 244.1h0M370.7 256.1h0M378.0 260.4h0M459.4 217.9h0M334.7 245.7h0M416.9 256.7h0M417.8 227.3h0M387.7 254.3h0M433.9 231.4h0M435.8 209.0h0M399.9 244.8h0M401.3 217.5h0M439.8 224.8h0M422.2 244.9h0M382.3 233.8h0M449.8 221.1h0M422.6 237.2h0M452.1 223.9h0M376.7 232.2h0M439.0 226.9h0M383.9 250.2h0M442.4 225.8h0M458.9 222.2h0M382.1 251.2h0M425.2 211.6h0M436.0 243.2h0M387.8 237.1h0M405.6 238.0h0M378.2 237.3h0M412.6 221.7h0M398.7 241.7h0M433.5 225.9h0M407.7 246.1h0M445.3 251.9h0M374.5 257.5h0M357.6 218.1h0M405.8 263.4h0M416.8 252.2h0M417.9 244.1h0M409.0 176.4h0M398.1 239.9h0M378.0 269.2h0M441.3 213.0h0M439.7 197.4h0M370.8 256.8h0M356.0 225.8h0M366.1 219.3h0M371.3 239.2h0M457.7 210.4h0M428.7 216.9h0M353.2 214.1h0M376.8 253.9h0M397.9 256.0h0M450.1 223.0h0M425.8 237.8h0M427.8 209.2h0M414.2 264.6h0M466.6 214.1h0M407.3 238.3h0M378.4 254.2h0M427.5 233.4h0M456.8 222.8h0M411.8 252.1h0M381.3 264.6h0M414.2 251.9h0M425.2 224.3h0M401.4 243.0h0M400.2 242.5h0M407.9 257.7h0M407.4 243.5h0M382.8 267.0h0M381.4 266.8h0M469.8 225.8h0M411.8 259.3h0M392.5 221.4h0M394.8 248.6h0M389.7 244.4h0M441.8 221.5h0M444.2 244.5h0M439.3 220.6h0M441.6 209.5h0M445.5 232.6h0M392.0 233.1h0M387.0 234.9h0M351.6 222.1h0M420.7 226.9h0M378.1 244.5h0M464.0 225.5h0M388.6 247.0h0M349.6 224.1h0M429.0 217.1h0M437.1 211.4h0M371.6 248.7h0M396.6 240.4h0M406.3 264.1h0M374.3 263.8h0M406.1 257.4h0M363.2 223.4h0M450.6 217.3h0M395.9 232.6h0M454.5 228.1h0M455.8 221.2h0M401.3 240.7h0M449.1 230.7h0M424.6 254.1h0M388.3 261.5h0M414.9 241.9h0M424.1 245.9h0M417.6 255.1h0M375.9 264.9h0M460.5 220.4h0M448.6 214.6h0M438.1 249.5h0M375.9 247.0h0M384.5 230.0h0M420.8 254.1h0M405.7 267.3h0M374.1 265.5h0M433.5 244.4h0M453.3 219.5h0M427.6 246.7h0M403.9 260.9h0M391.5 227.6h0M439.4 215.5h0M444.5 215.6h0M471.5 232.0h0M400.7 246.5h0M416.8 250.9h0M424.4 219.2h0M421.6 256.8h0M368.6 235.7h0M395.7 227.4h0M402.6 255.9h0M377.4 250.4h0M390.8 252.0h0M367.8 252.6h0M443.0 222.0h0M368.7 218.7h0M369.1 248.1h0M418.1 247.1h0M381.1 207.8h0M486.6 206.2h0M456.5 260.1h0M427.5 228.7h0M485.2 197.0h0M374.4 235.0h0M375.0 240.6h0M470.5 230.9h0M374.7 216.7h0M437.9 239.5h0M444.5 206.7h0M389.4 261.0h0M460.0 204.1h0M444.7 227.5h0M419.7 237.1h0M459.0 232.4h0M411.5 231.0h0M400.1 236.2h0M405.6 225.9h0M452.8 260.0h0M386.6 258.1h0M415.5 264.8h0M382.7 247.9h0M387.8 238.0h0M441.6 244.8h0M448.3 213.9h0M397.0 259.1h0M469.6 218.8h0M450.4 197.8h0M394.0 254.6h0M410.1 247.6h0M433.9 205.4h0M391.9 254.2h0M380.5 233.5h0M419.8 244.5h0M388.6 245.4h0M432.6 222.0h0M493.2 236.3h0M391.3 250.9h0M373.8 263.2h0M402.5 232.2h0M410.2 241.2h0M412.5 260.8h0M405.9 258.7h0M425.8 223.9h0M400.5 237.5h0M404.4 243.6h0M376.8 209.6h0M373.5 252.4h0M463.1 231.2h0M406.6 233.8h0M420.5 240.6h0M370.9 273.1h0M368.3 222.9h0M355.2 223.5h0M449.9 232.8h0M418.8 238.3h0M355.3 237.6h0M432.6 219.9h0M362.4 250.6h0M401.0 245.0h0M444.8 207.8h0M447.7 246.8h0M437.9 210.6h0M439.3 233.2h0M428.1 214.1h0M436.0 242.4h0M404.1 262.7h0M388.4 247.8h0M414.9 254.9h0M407.0 265.6h0M446.6 219.1h0M403.1 241.2h0M415.0 236.7h0M404.7 256.3h0M384.8 227.2h0M452.7 252.9h0M402.9 237.5h0M420.7 260.8h0M430.0 251.1h0M377.5 220.9h0M449.3 188.6h0M390.8 241.7h0M358.9 239.9h0M457.5 222.2h0M358.2 236.0h0M425.3 252.3h0M361.4 216.2h0M374.8 244.6h0M395.9 254.1h0M367.4 229.0h0M401.8 244.0h0M466.4 227.9h0M356.7 209.0h0M429.7 214.4h0M385.0 217.8h0M392.6 253.1h0M425.1 228.8h0M402.1 248.7h0M417.6 239.5h0M427.8 221.1h0M399.6 244.4h0M458.2 228.3h0M441.5 210.6h0M420.4 198.7h0M387.9 239.4h0M370.4 247.6h0M452.1 232.5h0M372.2 241.1h0M365.7 234.3h0M373.0 267.6h0M398.4 243.1h0M446.8 230.0h0M458.8 212.2h0M455.2 247.2h0M419.1 247.7h0M428.3 221.5h0M416.2 232.1h0M430.3 253.0h0M372.3 251.5h0M401.9 230.3h0M436.7 238.1h0M379.7 234.2h0M419.2 235.7h0M388.3 246.0h0M358.4 221.8h0M390.5 254.5h0M433.7 254.1h0M439.4 230.5h0M441.0 233.4h0M436.8 215.9h0M423.0 219.9h0M359.1 264.7h0M412.4 244.9h0M366.1 234.2h0M405.4 235.5h0M423.7 204.8h0M398.1 242.0h0M377.0 245.4h0M357.7 236.1h0M422.0 219.3h0M383.8 245.2h0M387.4 262.2h0M361.2 213.9h0M426.7 215.9h0M422.1 190.2h0M469.3 220.9h0M423.7 262.3h0M376.9 238.9h0M405.6 240.0h0M432.9 218.5h0M374.0 245.8h0M405.2 259.3h0M413.9 241.4h0M408.7 184.0h0M397.2 245.2h0M374.1 230.6h0M370.0 228.8h0M388.3 239.7h0M384.7 235.5h0M368.1 200.0h0M391.7 250.4h0M384.9 215.0h0M415.7 237.8h0M373.4 260.5h0M427.1 224.0h0M407.3 258.1h0M376.5 254.6h0M369.1 235.2h0M356.3 233.4h0M476.3 224.2h0M431.9 229.8h0M446.1 211.0h0M445.6 216.6h0M408.7 233.0h0M430.8 237.5h0M404.0 204.7h0M424.7 228.4h0M362.4 240.1h0M436.8 248.5h0M470.3 221.0h0M376.8 261.8h0M392.7 239.8h0M438.1 216.5h0M441.2 227.4h0M436.4 216.1h0M374.9 243.0h0M425.6 248.3h0M388.9 263.7h0M380.4 259.6h0M382.6 249.8h0M420.0 216.9h0M469.1 228.3h0M417.8 235.4h0M469.5 223.3h0M462.0 236.0h0M409.1 250.8h0M432.2 219.1h0M374.0 245.3h0M410.0 242.1h0M411.5 241.1h0M403.5 253.1h0M407.6 245.5h0M420.4 219.8h0M421.2 236.5h0M379.4 237.4h0M391.9 246.1h0M380.8 263.1h0M381.0 239.0h0M445.2 239.0h0M420.5 260.3h0M468.2 222.7h0M367.3 251.9h0M430.0 269.3h0M361.7 209.9h0M453.3 203.2h0M413.9 250.7h0M374.9 232.0h0M442.7 203.0h0M385.7 239.4h0M387.2 237.1h0M440.8 228.8h0M378.1 215.1h0M467.9 223.2h0M360.6 257.5h0M421.6 252.7h0M386.6 227.8h0M469.3 209.7h0M444.2 207.3h0M381.2 231.0h0M439.3 233.8h0M453.4 239.4h0M385.5 237.5h0M466.6 227.5h0M451.7 211.3h0M377.9 240.1h0M390.5 234.0h0M381.4 239.6h0M348.3 219.4h0M421.6 249.8h0M435.6 230.5h0M409.7 224.5h0M434.4 222.6h0M415.9 251.6h0M383.8 268.1h0M413.0 257.1h0M401.4 239.0h0M451.0 204.4h0M403.8 229.8h0M387.6 249.2h0M391.3 251.6h0M372.9 260.7h0M380.8 250.4h0M433.9 218.3h0M401.3 242.3h0M413.6 255.1h0M446.4 226.3h0M460.8 229.1h0M354.9 223.0h0M428.4 214.2h0M420.6 210.0h0M354.3 234.3h0M389.0 248.2h0M420.8 273.2h0M378.4 260.9h0M355.5 207.9h0M472.0 221.2h0M377.7 228.4h0M434.1 229.0h0M414.1 233.5h0M462.3 234.0h0M376.8 264.0h0M410.0 251.0h0M467.9 206.8h0M407.5 262.2h0M422.3 217.3h0M407.3 239.6h0M360.8 230.4h0M390.7 240.4h0M419.4 241.2h0M406.0 253.8h0M408.0 236.8h0M400.7 246.1h0M368.1 227.6h0M373.7 256.9h0M422.0 253.0h0M458.1 246.0h0M471.0 220.4h0M456.0 221.0h0M390.9 250.1h0M429.8 227.4h0M419.8 221.6h0M439.7 226.8h0M391.0 246.5h0M428.5 244.7h0M408.5 228.8h0M423.3 246.8h0M402.0 246.3h0M372.0 256.2h0M407.5 251.1h0M469.9 206.7h0M417.5 242.9h0M417.1 234.8h0M380.5 260.6h0M450.1 220.4h0M401.6 253.8h0M412.6 245.6h0M440.9 229.3h0M415.7 236.3h0M437.5 207.5h0M462.1 212.4h0M459.8 228.6h0M381.6 258.8h0M425.7 196.8h0M399.3 260.0h0M414.4 251.1h0M446.3 222.4h0M449.4 227.9h0M459.4 223.7h0M426.4 214.0h0M415.8 248.6h0M409.9 238.9h0M406.1 243.1h0M439.9 202.1h0M421.6 220.7h0M434.9 223.3h0M363.2 218.5h0M429.0 243.2h0M418.5 248.6h0M427.3 211.8h0M429.7 249.2h0M380.5 241.9h0M466.0 217.6h0M428.7 230.0h0M384.7 239.8h0M426.1 257.1h0M383.2 254.1h0M437.1 231.4h0M396.0 244.6h0M364.8 251.1h0M465.3 212.3h0M464.7 222.2h0M367.8 229.7h0M414.0 259.2h0M422.3 254.7h0M434.4 224.3h0M421.0 238.1h0M461.9 208.5h0M370.4 216.4h0M374.1 265.1h0M465.6 225.4h0M412.5 242.2h0M389.4 231.5h0M374.2 236.8h0M454.2 217.1h0M436.2 246.4h0M396.1 257.5h0M381.3 267.7h0M359.9 218.1h0M407.5 240.1h0M442.0 212.9h0M428.1 226.8h0M400.7 252.6h0M447.1 230.7h0M365.7 225.3h0M419.1 229.7h0M434.6 226.9h0M444.1 211.8h0M442.1 239.5h0M460.6 242.7h0M419.6 200.0h0M362.0 230.3h0M407.3 235.9h0M470.4 204.7h0M407.0 247.9h0M399.0 244.9h0M444.3 206.8h0M363.3 241.6h0M422.7 223.7h0M389.7 259.2h0M457.9 231.6h0M417.3 244.8h0M475.7 208.3h0M408.6 251.1h0M423.7 217.3h0M372.9 257.9h0M391.4 248.8h0M376.3 257.1h0M425.5 221.0h0M448.6 227.5h0M429.2 219.2h0M392.8 244.5h0M410.0 255.4h0M439.0 209.5h0M420.9 233.6h0M432.9 208.2h0M384.6 228.8h0M433.5 218.8h0M414.0 243.6h0M444.5 233.8h0M427.3 220.1h0M459.6 206.1h0M409.4 237.8h0M380.4 262.4h0M422.8 250.2h0M416.3 245.2h0M451.5 216.1h0M435.4 232.2h0M400.9 232.3h0M387.3 241.8h0M383.4 273.4h0M367.7 201.6h0M374.6 241.0h0M395.5 257.9h0M433.1 241.2h0M384.9 267.3h0M453.0 213.2h0M354.4 232.4h0M373.8 234.6h0M411.5 240.2h0M415.0 259.4h0M434.9 253.7h0M386.2 238.0h0M407.0 237.1h0M451.3 253.6h0M422.9 229.3h0M454.4 216.8h0M421.6 244.7h0M438.1 227.7h0M384.7 266.2h0M384.3 237.0h0M457.0 209.9h0M450.6 223.3h0M411.0 225.5h0M415.1 242.7h0M409.0 249.0h0M355.1 225.7h0M463.7 217.1h0M424.8 218.4h0M461.5 224.7h0M351.1 219.9h0M377.7 243.1h0M361.1 215.3h0M419.0 243.0h0M377.6 244.7h0M427.9 241.7h0M446.5 233.2h0M416.6 242.5h0M375.3 227.8h0M377.7 249.3h0M417.3 202.3h0M397.7 239.1h0M401.5 258.3h0M470.6 213.1h0M384.4 217.3h0M380.8 228.1h0M395.5 226.5h0M447.5 241.1h0M410.0 247.2h0M411.7 233.1h0M411.8 264.3h0M390.9 257.0h0M379.8 258.4h0M430.0 203.7h0M384.8 227.9h0M403.0 256.3h0M378.2 247.0h0M386.6 241.6h0M407.0 236.9h0M383.1 235.1h0M455.6 216.1h0M367.5 227.9h0M437.1 211.5h0M404.4 216.4h0M374.3 243.6h0M374.7 277.8h0M439.5 242.8h0M421.6 256.0h0M455.1 201.7h0M462.0 214.9h0M421.9 250.2h0M416.4 208.8h0M417.0 246.8h0M359.4 218.1h0M437.1 222.9h0M361.5 216.7h0M401.4 266.0h0M408.3 255.7h0M414.2 247.8h0M396.5 252.3h0M445.8 193.2h0M438.0 233.3h0M402.7 227.5h0M410.5 258.7h0M411.0 243.5h0M437.7 210.5h0M376.4 234.2h0M404.1 228.9h0M369.5 246.8h0M361.0 241.7h0M417.6 190.3h0M390.4 263.1h0M345.2 221.9h0M373.7 240.3h0M364.4 221.7h0M397.0 239.0h0M428.1 228.6h0M428.3 237.6h0M404.4 243.5h0M446.8 219.6h0M467.6 224.9h0M418.6 258.1h0M462.5 218.2h0M424.7 246.1h0M401.0 223.8h0M359.9 246.4h0M390.4 239.7h0M441.4 245.6h0M433.6 211.3h0M434.8 255.8h0M414.7 247.9h0M425.0 240.9h0M377.8 261.0h0M453.4 212.1h0M425.3 216.9h0M419.0 203.3h0M436.8 202.8h0M350.3 232.0h0M373.3 255.7h0M377.0 246.7h0M400.1 261.8h0M403.7 235.0h0M405.2 255.3h0M412.7 248.4h0M456.8 208.7h0M393.8 200.3h0M437.3 219.7h0M449.0 212.6h0M408.8 235.4h0M404.7 268.0h0M425.2 236.8h0M368.8 230.8h0M430.5 210.7h0M412.6 248.4h0M428.0 232.7h0M463.2 232.7h0M442.5 215.5h0M439.4 219.1h0M380.9 242.5h0M426.9 241.2h0M424.3 234.7h0M442.9 238.6h0M371.3 254.1h0M408.1 249.2h0M432.6 232.4h0M434.9 227.1h0M389.2 238.3h0M377.3 265.4h0M361.2 215.4h0M410.1 250.5h0M445.4 240.1h0M416.6 231.1h0M396.3 253.0h0M403.7 236.6h0M389.3 250.7h0M446.9 238.8h0M391.9 228.3h0M460.6 199.3h0M380.5 222.2h0M384.7 238.7h0M382.2 265.4h0M377.2 237.9h0M391.0 255.8h0M358.3 216.4h0M382.6 252.7h0M422.9 237.6h0M465.0 247.9h0M409.6 251.8h0M423.0 209.8h0M434.4 235.1h0M464.2 236.3h0M401.5 260.5h0M456.9 244.3h0M422.2 234.8h0M420.4 240.8h0M462.2 218.9h0M395.0 258.6h0M371.7 235.2h0M370.4 227.8h0M462.6 211.7h0M422.0 266.3h0M379.6 281.4h0M376.0 262.2h0M395.2 240.4h0M412.3 246.4h0M403.9 243.0h0M411.1 239.6h0M394.0 264.4h0M430.0 231.7h0M445.5 235.2h0M410.6 248.3h0M376.2 241.9h0M422.5 244.9h0M442.8 227.9h0M434.2 240.2h0M388.1 252.7h0M403.5 242.4h0M427.0 237.2h0M419.6 229.3h0M427.3 226.2h0M436.5 241.3h0M351.6 221.3h0M426.8 232.1h0M468.2 229.2h0M409.8 234.2h0M460.6 228.0h0M425.7 205.4h0M377.3 266.3h0M481.0 220.7h0M397.4 229.6h0M357.1 222.1h0M374.7 232.3h0M399.7 223.7h0M465.6 219.6h0M377.4 237.7h0M457.0 221.4h0M419.8 262.9h0M376.1 205.3h0M417.6 245.2h0M404.6 207.0h0M419.1 241.2h0M399.7 256.0h0M388.0 256.9h0M423.1 258.4h0M455.7 215.6h0M407.4 261.6h0M427.1 222.7h0M366.3 231.1h0M399.5 242.6h0M376.1 257.5h0M382.9 247.3h0M381.3 251.1h0M436.6 233.5h0M360.8 239.1h0M378.2 265.7h0M452.3 216.2h0M354.8 219.0h0M434.2 232.7h0M464.7 205.5h0M404.1 237.8h0M422.2 251.9h0M403.2 232.7h0M432.1 213.7h0M422.1 226.5h0M407.5 231.9h0M394.3 235.0h0M415.5 230.7h0M354.4 209.2h0M359.2 209.9h0M449.6 202.0h0M456.5 210.1h0M387.1 241.6h0M395.9 236.2h0M391.0 236.8h0M443.1 211.7h0M429.3 235.4h0M413.6 231.1h0M434.6 245.8h0M468.3 233.7h0M431.0 230.6h0M438.4 226.8h0M412.5 253.1h0M403.6 239.2h0M445.9 208.2h0M443.7 230.1h0M378.2 248.3h0M450.3 233.2h0M435.1 223.1h0M354.9 217.4h0M418.9 246.7h0M381.1 233.9h0M442.2 226.0h0M402.8 235.2h0M441.0 220.6h0M427.9 201.3h0M394.5 242.9h0M371.4 242.3h0M418.4 252.5h0M381.1 267.0h0M418.2 263.8h0M421.8 228.7h0M400.7 252.1h0M378.7 272.0h0M421.0 253.4h0M406.2 246.5h0M423.2 233.8h0M453.3 231.9h0M401.9 250.0h0M427.7 233.6h0M422.4 223.4h0M372.6 238.2h0M451.1 219.1h0M448.1 240.9h0M377.8 234.2h0M427.8 229.7h0M388.6 240.7h0M368.8 218.1h0M417.6 234.9h0M453.5 222.3h0M391.3 260.1h0M372.4 251.3h0M360.9 225.2h0M388.8 237.1h0M388.6 249.0h0M385.4 238.4h0M439.2 200.0h0M393.1 243.5h0M370.6 257.7h0M383.3 251.1h0M362.6 249.6h0M437.0 247.3h0M402.8 256.1h0M455.8 223.2h0M435.7 233.2h0M437.2 232.5h0M404.9 245.0h0M444.6 217.5h0M474.6 214.7h0M372.0 239.2h0M411.1 236.1h0M349.2 267.0h0M412.3 240.9h0M411.5 254.5h0M370.8 239.7h0M452.5 217.4h0M391.6 228.0h0M417.9 265.4h0M440.5 217.7h0M385.0 229.5h0M368.4 242.5h0M378.3 251.0h0M392.7 245.7h0M425.3 243.3h0M439.9 234.4h0M441.9 226.0h0M387.8 255.5h0M430.1 224.4h0M369.8 236.0h0M407.1 239.7h0M444.8 237.8h0M359.0 227.6h0M418.5 229.4h0M410.9 242.9h0M392.7 241.4h0M362.7 240.0h0M467.8 202.7h0M421.6 230.3h0M438.5 229.5h0M379.5 226.7h0M455.7 201.6h0M390.4 248.1h0M377.7 247.7h0M418.1 231.7h0M404.7 240.0h0M431.8 238.7h0M436.1 212.8h0M369.0 235.0h0M431.2 236.9h0M397.0 239.1h0M442.4 235.3h0M375.2 242.1h0M458.8 232.7h0M375.3 208.2h0M448.9 203.7h0M376.3 234.8h0M389.4 235.7h0M400.8 209.1h0M355.9 209.5h0M446.2 219.4h0M439.2 228.2h0M407.0 223.1h0M419.1 247.2h0M449.8 221.4h0M429.1 226.2h0M410.9 239.7h0M413.7 225.5h0M474.3 217.6h0M415.9 243.4h0M426.7 232.8h0M473.4 204.8h0M402.2 227.7h0M384.2 238.1h0M368.9 263.1h0M349.7 235.4h0M446.6 230.9h0M373.0 238.7h0M433.0 252.1h0M411.2 259.8h0M465.5 210.8h0M433.7 221.6h0M376.8 249.4h0M377.8 256.8h0M402.9 259.0h0M486.4 220.1h0M398.5 250.0h0M419.1 252.2h0M379.5 269.3h0M372.2 230.9h0M454.7 223.8h0M389.4 259.9h0M406.9 246.6h0M410.6 238.5h0M435.2 207.1h0M480.5 216.5h0M380.4 277.0h0M420.4 226.8h0M402.4 238.7h0M459.8 210.5h0M379.6 242.7h0M407.6 243.8h0M412.9 246.7h0M404.6 243.6h0M458.0 229.9h0M360.9 262.4h0M377.7 228.6h0M423.8 227.4h0M406.0 233.2h0M478.0 215.9h0M397.7 227.6h0M427.5 223.2h0M414.0 199.4h0M388.6 232.5h0M393.8 234.9h0M450.2 221.6h0M381.4 234.3h0M398.7 263.8h0M404.2 240.2h0M359.0 210.3h0M426.1 252.1h0M400.3 241.1h0M381.6 237.4h0M385.8 228.5h0M418.0 247.9h0M406.9 240.9h0M424.2 246.5h0M374.8 235.4h0M440.8 216.0h0M436.0 225.3h0M431.7 207.0h0M387.3 252.9h0M430.2 227.7h0M410.7 236.3h0M426.6 249.2h0M412.1 261.3h0M424.7 208.7h0M474.9 233.2h0M378.9 244.5h0M434.9 231.9h0M392.1 241.6h0M461.3 233.1h0M415.1 257.7h0M415.4 261.2h0M427.2 219.7h0M370.2 271.2h0M431.5 222.1h0M425.1 250.3h0M427.5 215.5h0M410.4 191.0h0M421.2 184.3h0M441.2 246.6h0M424.1 225.9h0M372.2 231.4h0M438.1 203.0h0M460.8 222.7h0M432.5 246.8h0M461.4 219.7h0M451.9 225.8h0M430.3 241.8h0M354.6 219.0h0M455.4 205.6h0M370.3 225.2h0M390.0 239.4h0M394.2 237.2h0M472.1 237.5h0M413.3 239.8h0M385.9 241.0h0M452.4 228.0h0M442.2 228.8h0M366.0 223.5h0M467.7 244.0h0M360.3 253.4h0M437.1 218.1h0M440.9 239.9h0M416.1 206.7h0M416.6 222.5h0M373.3 250.6h0M474.3 224.5h0M381.3 262.1h0M432.6 229.8h0M443.7 239.8h0M402.5 238.1h0M379.2 242.0h0M411.9 199.6h0M418.7 243.4h0M458.9 212.4h0M420.2 265.1h0M450.4 215.9h0M425.0 231.1h0M442.0 222.7h0M359.8 212.5h0M460.1 217.2h0M436.4 231.4h0M396.6 245.1h0M437.7 216.3h0M397.5 242.7h0M446.2 209.3h0M404.1 190.8h0M442.3 239.9h0M385.5 256.0h0M389.3 258.3h0M377.4 203.7h0M451.4 232.6h0M434.2 243.6h0M412.0 240.1h0M404.7 239.9h0M403.8 250.9h0M411.2 257.7h0M410.0 249.4h0M428.9 222.4h0M428.1 208.5h0M415.1 224.4h0M405.1 221.8h0M388.0 238.7h0M433.0 221.8h0M424.4 250.2h0M381.4 244.2h0M420.5 245.1h0M415.6 249.3h0M419.8 254.7h0M407.2 228.2h0M462.0 219.8h0M393.5 239.5h0M388.3 267.1h0M408.6 220.9h0M397.5 253.8h0M400.8 231.4h0M427.2 209.4h0M374.2 255.1h0M452.8 233.9h0M391.2 231.1h0M416.3 251.3h0M448.8 228.8h0M395.0 213.9h0M375.3 234.5h0M435.7 214.0h0M381.1 216.3h0M408.1 239.8h0M351.5 205.5h0M389.5 243.0h0M399.9 240.5h0M372.7 256.7h0M466.6 213.4h0M432.7 242.1h0M429.6 253.7h0M455.4 230.9h0M449.4 229.1h0M396.3 248.7h0M403.2 240.9h0M451.6 225.7h0M413.1 254.5h0M465.4 219.6h0M441.9 228.5h0M424.3 250.9h0M388.8 238.5h0M455.1 226.7h0M412.5 245.0h0M361.5 221.0h0M379.2 239.3h0M388.6 228.4h0M423.9 232.8h0M364.0 236.0h0M455.8 230.1h0M434.5 218.5h0M454.6 222.9h0M369.4 228.5h0M415.4 251.9h0M465.7 225.5h0M390.2 242.2h0M442.8 234.5h0M389.7 265.7h0M370.2 224.3h0M468.5 221.6h0M462.6 217.9h0M423.2 272.2h0M399.9 237.2h0M420.2 271.6h0M423.6 210.2h0M456.8 223.5h0M396.3 237.1h0M396.6 256.5h0M462.9 250.3h0M412.2 271.0h0M403.4 250.3h0M419.0 250.6h0M425.9 271.2h0M414.9 240.1h0M391.6 248.9h0M446.7 211.5h0M432.7 239.9h0M403.3 251.2h0M383.4 221.7h0M380.5 248.9h0M486.1 207.1h0M403.0 214.2h0M465.7 218.7h0M358.0 220.0h0M466.3 205.2h0M432.5 233.2h0M438.0 237.4h0M393.5 235.4h0M395.0 251.8h0M450.3 228.0h0M407.5 249.7h0M441.3 224.4h0M360.0 206.3h0M457.1 237.0h0M482.5 233.9h0M374.1 227.5h0M453.4 227.1h0M392.8 241.1h0M391.6 237.2h0M368.4 226.7h0M435.9 215.5h0M423.1 248.2h0M388.6 239.9h0M380.2 272.5h0M456.4 235.5h0M422.6 237.2h0M454.7 237.5h0M481.9 206.1h0M431.2 255.6h0M440.5 219.9h0M410.4 241.7h0M429.4 229.3h0M420.5 208.3h0M419.9 239.9h0M453.1 202.5h0M442.5 238.8h0M417.8 253.7h0M426.6 204.0h0M476.1 224.2h0M371.9 226.6h0M464.9 231.7h0M445.5 210.7h0M351.0 222.9h0M452.3 244.5h0M418.0 255.7h0M413.3 264.5h0M405.4 241.1h0M428.4 256.8h0M428.6 236.1h0M453.6 229.2h0M409.2 241.8h0M388.6 245.6h0M400.0 222.5h0M403.7 233.9h0M376.6 258.8h0M367.1 222.2h0M363.3 225.4h0M418.2 253.9h0M408.1 233.2h0M451.3 222.9h0M409.8 250.4h0M428.4 215.0h0M468.4 229.6h0M410.9 250.0h0M364.6 210.5h0M442.2 208.1h0M375.0 244.8h0M459.5 258.7h0M383.3 233.0h0M416.8 255.8h0M421.6 221.9h0M420.3 235.1h0M403.6 255.8h0M419.8 239.3h0M387.8 247.2h0M350.5 219.9h0M453.1 209.0h0M438.4 226.7h0M434.9 215.3h0M375.1 224.0h0M393.7 225.9h0M425.1 217.1h0M426.8 200.1h0M470.0 224.8h0M378.6 259.9h0M421.5 252.6h0M450.9 223.1h0M366.6 248.9h0M410.9 267.8h0M419.6 271.6h0M435.7 235.1h0M362.8 195.8h0M391.0 248.6h0M419.8 251.6h0M368.2 233.4h0M418.4 242.3h0M437.7 218.8h0M418.3 239.5h0M460.7 189.9h0M370.8 275.6h0M418.0 239.9h0M445.7 214.9h0M407.1 254.0h0M442.2 216.7h0M446.3 202.7h0M409.9 258.0h0M461.7 235.9h0M442.9 233.1h0M374.2 248.4h0M428.6 220.1h0M419.6 251.0h0M357.9 219.3h0M375.6 215.6h0M462.1 232.0h0M424.1 243.5h0M393.3 238.2h0M409.2 255.8h0M438.9 237.9h0M456.8 217.9h0M377.9 242.5h0M461.9 201.5h0M414.1 204.2h0M368.9 231.4h0M371.6 227.1h0M420.1 252.3h0M398.0 261.9h0M376.2 206.2h0M448.0 207.3h0M439.7 221.0h0M404.3 252.5h0M409.9 237.3h0M470.3 223.6h0M409.7 231.5h0M470.3 212.9h0M397.9 214.7h0M389.4 259.0h0M390.9 227.7h0M381.1 248.3h0M408.6 238.3h0M434.0 209.4h0M419.5 256.9h0M381.1 257.2h0M375.6 237.6h0M355.6 227.8h0M423.9 227.9h0M440.6 220.5h0M404.2 237.1h0M464.6 228.1h0M413.0 229.0h0M389.2 242.2h0M395.0 240.5h0M462.0 223.7h0M431.3 222.1h0M354.3 215.6h0M426.6 195.8h0M415.1 241.7h0M449.6 209.6h0M419.8 201.8h0M388.5 248.4h0M402.3 240.0h0M375.0 254.5h0M381.8 258.7h0M426.7 237.6h0M453.0 211.5h0M456.7 229.3h0M406.5 253.3h0M417.6 258.4h0M416.9 256.3h0M421.2 211.8h0M362.3 200.8h0M374.0 242.7h0M424.2 247.3h0M460.6 201.8h0M418.7 264.0h0M411.1 264.0h0M416.1 255.7h0M431.0 227.4h0M407.3 263.4h0M360.7 237.4h0M435.5 228.9h0M442.5 210.9h0M360.2 208.8h0M464.9 218.6h0M401.9 234.2h0M385.0 240.8h0M386.2 261.4h0M376.9 228.0h0M420.7 254.0h0M440.8 176.4h0M462.7 212.8h0M405.6 242.9h0M442.4 230.1h0M427.3 265.9h0M436.6 203.9h0M380.2 218.3h0M362.5 231.7h0M369.5 226.3h0M437.4 242.9h0M426.4 223.4h0M459.8 232.2h0M413.9 226.8h0M419.0 231.8h0M417.5 233.9h0M452.3 221.1h0M367.8 275.3h0M457.3 218.4h0M415.6 259.0h0M379.9 246.5h0M433.9 239.4h0M379.7 249.1h0M418.3 231.8h0M357.3 209.7h0M388.6 238.1h0M403.2 236.6h0M378.0 260.2h0M418.3 243.6h0M433.3 233.3h0M427.2 243.6h0M422.0 237.1h0M462.5 229.8h0M399.7 243.2h0M423.1 240.1h0M403.7 241.2h0M379.5 224.6h0M418.2 259.1h0M356.8 221.7h0M441.9 219.8h0M414.6 267.1h0M370.8 217.6h0M418.8 238.2h0M370.1 205.1h0M418.1 248.7h0M457.9 238.3h0M455.0 216.9h0M380.9 243.0h0M409.2 245.6h0M362.7 250.5h0M410.7 235.0h0M448.9 231.5h0M399.8 228.1h0M396.9 235.1h0M373.6 247.5h0M361.2 238.3h0M371.5 238.7h0M438.5 232.0h0M387.3 244.4h0M414.1 232.5h0M390.3 243.8h0M439.5 203.2h0M418.3 248.1h0M454.7 234.8h0M367.3 252.2h0M352.0 223.1h0M351.5 224.1h0M401.8 234.5h0M412.4 261.1h0M374.6 250.9h0M449.3 210.5h0M458.1 212.7h0M384.1 258.3h0M419.4 256.0h0M374.5 263.3h0M367.1 228.4h0M397.9 242.0h0M416.1 197.7h0M465.2 231.7h0M394.6 247.6h0M400.9 247.2h0M400.9 233.3h0M390.4 237.0h0M464.8 207.5h0M470.6 228.9h0M453.2 229.7h0M406.2 243.0h0M410.6 237.3h0M361.2 203.7h0M463.2 212.1h0M453.8 230.6h0M372.7 240.4h0M373.4 225.9h0M412.4 246.5h0M466.6 241.9h0M424.8 220.8h0M401.6 225.8h0M407.7 253.9h0M443.5 222.6h0M463.5 241.0h0M413.1 238.1h0M378.8 247.7h0M418.5 241.5h0M395.4 251.4h0M459.1 223.1h0M411.7 246.2h0M441.9 253.5h0M395.6 250.8h0M425.5 238.0h0M446.7 238.4h0M423.0 231.6h0M414.7 259.0h0M352.7 221.9h0M423.9 199.1h0M370.8 261.1h0M466.3 194.4h0M458.9 232.2h0M401.6 265.0h0M469.9 217.2h0M423.7 252.8h0M431.3 237.1h0M387.4 254.5h0M376.2 257.7h0M420.4 260.5h0M417.6 243.4h0M427.4 239.0h0M432.3 215.9h0M435.5 232.8h0M356.9 214.8h0M380.9 254.8h0M410.7 256.9h0M436.6 226.7h0M388.0 242.3h0M420.9 242.5h0M391.0 277.7h0M423.5 234.3h0M398.6 239.5h0M397.3 234.3h0M373.1 240.3h0M384.3 246.0h0M427.5 251.2h0M426.0 236.6h0M370.4 233.0h0M410.9 221.3h0M407.0 251.6h0M387.7 255.0h0M403.5 239.1h0M368.6 244.8h0M470.9 218.0h0M389.0 238.3h0M401.2 237.6h0M428.3 239.6h0M363.5 215.6h0M412.1 239.1h0M442.7 220.7h0M452.6 241.1h0M459.4 223.8h0M374.7 263.1h0M475.7 211.8h0M394.9 260.6h0M420.9 247.2h0M358.0 200.3h0M403.4 258.6h0M472.3 232.1h0M413.4 261.1h0M415.3 255.3h0M414.1 223.7h0M409.3 258.6h0M403.9 253.5h0M373.4 224.7h0M415.9 233.6h0M362.4 242.8h0M425.5 222.5h0M409.3 257.2h0M369.9 230.0h0M409.7 258.5h0M446.8 232.3h0M407.2 232.8h0M428.1 227.1h0M449.1 216.9h0M417.9 256.5h0M357.6 210.1h0M435.6 234.9h0M449.3 235.1h0M407.4 212.6h0M386.7 242.8h0M370.7 268.3h0M378.2 212.8h0M374.4 270.6h0M450.2 240.6h0M393.2 245.5h0M422.1 269.9h0M458.0 231.2h0M401.0 253.0h0M418.1 237.9h0M418.5 232.9h0M377.8 261.2h0M443.4 222.4h0M361.7 222.7h0M415.7 245.4h0M460.7 224.5h0M427.8 253.5h0M441.5 237.8h0M400.0 228.0h0M422.9 240.1h0M462.6 225.4h0M351.1 218.5h0M382.6 256.6h0M427.6 242.9h0M413.8 252.9h0M368.4 253.3h0M443.7 214.6h0M441.8 215.2h0M449.5 213.9h0M429.3 226.0h0M367.5 211.5h0M407.6 246.9h0M439.0 235.2h0M378.4 237.5h0M377.8 227.2h0M453.6 227.8h0M405.1 253.4h0M458.8 248.3h0M441.5 206.8h0M411.9 259.4h0M399.5 250.2h0M397.1 238.2h0M392.0 208.2h0M434.3 227.4h0M392.1 238.2h0M432.0 219.7h0M387.6 244.6h0M384.8 237.0h0M386.5 259.1h0M423.9 215.6h0M377.1 241.0h0M474.2 231.8h0M412.0 260.3h0M416.1 240.1h0M411.9 257.7h0M396.4 243.9h0M420.1 215.2h0M420.6 227.2h0M431.4 219.7h0M476.1 211.5h0M446.6 210.4h0M381.9 248.0h0M392.8 248.6h0M426.3 247.8h0M430.6 237.4h0M428.9 234.0h0M377.8 239.6h0M388.8 276.4h0M427.9 243.2h0M381.6 260.5h0M422.5 264.9h0M397.5 250.0h0M459.9 211.4h0M435.4 224.5h0M423.2 240.8h0M483.5 242.3h0M395.1 269.5h0M385.3 242.9h0M419.9 245.4h0M419.0 251.6h0M377.8 201.9h0M369.2 261.8h0M407.7 245.8h0M418.2 253.0h0M359.1 217.2h0M431.5 218.5h0M417.2 245.2h0M428.8 257.4h0M376.3 232.5h0M474.4 220.9h0M399.7 257.7h0M400.4 224.0h0M439.8 223.4h0M417.7 227.7h0M391.8 229.2h0M382.0 247.9h0M444.7 218.3h0M458.4 227.8h0M378.5 255.1h0M387.6 240.5h0M371.2 243.3h0M385.4 253.5h0M417.2 223.5h0M421.0 198.8h0M419.3 218.4h0M454.0 227.3h0M376.9 264.8h0M421.7 221.2h0M440.7 218.8h0M400.9 229.9h0M439.7 223.6h0M370.8 233.0h0M369.6 249.1h0M428.4 249.3h0M431.1 237.8h0M389.9 243.9h0M379.0 239.5h0M436.1 209.0h0M452.3 225.3h0M364.2 222.3h0M406.9 258.5h0M415.4 262.0h0M370.5 251.3h0M389.0 238.5h0M402.5 243.5h0M441.9 226.9h0M383.0 239.7h0M377.3 215.9h0M358.6 221.1h0M416.0 247.8h0M421.7 241.7h0M400.4 269.0h0M406.4 235.7h0M432.1 221.2h0M409.9 239.6h0M412.6 223.1h0M367.9 229.0h0M417.7 248.6h0M432.9 215.3h0M387.4 242.5h0M384.4 244.1h0M427.4 241.7h0M453.6 223.6h0M373.8 237.1h0M373.1 213.4h0M411.5 262.4h0M460.3 228.0h0M452.6 216.3h0M397.7 244.1h0M479.0 219.4h0M391.1 243.7h0M425.3 214.7h0M408.6 242.2h0M383.0 244.2h0M392.5 227.7h0M416.5 254.8h0M445.1 250.5h0M441.8 220.2h0M390.3 257.2h0M429.2 256.0h0M403.1 242.2h0M419.0 210.3h0M404.6 230.0h0M422.4 243.3h0M406.9 236.0h0M420.5 250.8h0M417.2 205.3h0M444.4 209.9h0M401.4 231.7h0M403.4 236.6h0M389.2 232.1h0M386.3 259.4h0M406.5 248.8h0M438.4 236.2h0M364.1 235.0h0M461.9 221.3h0M396.2 253.3h0M368.1 250.0h0M370.9 248.8h0M367.1 221.0h0M448.0 227.7h0M420.1 236.8h0M460.7 221.8h0M422.7 259.4h0M445.1 224.5h0M449.9 230.5h0M355.1 199.3h0M380.8 231.6h0M352.9 224.9h0M431.8 239.1h0M373.2 236.5h0M422.0 245.6h0M356.9 220.2h0M412.5 241.4h0M393.4 247.7h0M457.3 227.6h0M466.9 244.3h0M450.4 227.6h0M446.7 214.7h0M416.1 250.6h0M383.2 239.7h0M463.7 217.8h0M351.4 221.1h0M381.4 241.9h0M427.3 244.8h0M394.3 241.2h0M363.3 243.1h0M432.2 220.2h0M421.3 236.7h0M366.3 234.8h0M367.9 251.8h0M393.0 255.6h0M416.9 245.6h0M423.6 222.8h0M381.3 242.6h0M371.3 242.5h0M371.5 256.5h0M443.1 251.3h0M448.2 218.4h0M387.8 241.5h0M445.5 201.0h0M415.0 261.3h0M376.0 213.1h0M438.7 224.9h0M417.2 247.3h0M360.5 211.5h0M387.2 238.5h0M373.6 226.8h0M433.5 219.0h0M434.3 206.9h0M372.0 234.2h0M418.7 244.8h0M393.4 242.9h0M395.9 273.8h0M400.2 242.8h0M430.5 248.0h0M417.5 228.3h0M438.9 225.2h0M445.0 214.3h0M409.6 251.8h0M371.3 245.8h0M397.6 258.1h0M368.4 212.5h0M378.3 259.9h0M429.2 224.7h0M457.5 248.8h0M448.0 214.6h0M424.4 230.9h0M420.8 232.7h0M422.8 228.7h0M429.2 234.3h0M471.4 236.3h0M371.0 234.9h0M372.9 248.0h0M419.6 257.7h0M417.5 242.1h0M396.2 239.8h0M464.5 217.1h0M407.6 242.1h0M422.6 251.7h0M437.3 215.5h0M472.0 211.1h0M356.2 199.6h0M375.9 260.8h0M431.7 232.1h0M418.2 254.4h0M381.6 247.9h0M377.9 244.8h0M454.1 196.9h0M420.5 235.3h0M352.7 222.7h0M401.1 263.4h0M410.8 219.7h0M434.5 216.1h0M429.2 247.3h0M360.6 237.9h0M385.3 238.4h0M481.4 225.0h0M369.7 251.5h0M485.5 213.0h0M458.0 245.1h0M418.9 244.1h0M393.1 249.7h0M457.4 220.8h0M470.1 215.0h0M430.0 238.6h0M475.5 208.9h0M437.9 216.0h0M394.3 227.9h0M379.5 259.7h0M395.6 250.2h0M395.1 233.9h0M421.4 214.3h0M431.8 225.1h0M384.8 231.5h0M460.8 226.6h0M378.5 255.6h0M427.0 214.9h0M410.5 231.7h0M402.2 252.8h0M416.2 211.5h0M397.5 225.1h0M394.8 249.8h0M373.2 233.7h0M378.4 259.1h0M445.7 209.9h0M436.4 258.9h0M382.0 247.0h0M390.4 246.7h0M452.7 221.2h0M412.9 218.6h0M375.2 239.5h0M404.9 234.2h0M405.0 250.6h0M376.8 236.0h0M380.0 258.2h0M428.5 218.4h0M371.4 253.9h0M433.0 214.9h0M465.6 214.3h0M418.7 244.8h0M473.3 230.3h0M360.5 204.1h0M430.9 196.7h0M378.5 260.0h0M377.7 220.1h0M448.6 226.9h0M447.2 213.1h0M384.7 234.3h0M423.2 236.1h0M457.4 230.0h0M380.5 247.5h0M452.9 228.6h0M419.1 250.5h0M411.8 257.9h0M432.6 209.1h0M446.8 227.0h0M426.3 244.8h0M391.1 236.9h0M437.1 230.9h0M414.9 217.1h0M398.0 249.1h0M371.2 238.9h0M376.6 260.6h0M474.7 221.7h0M375.6 251.0h0M417.9 247.8h0M437.8 217.0h0M391.2 248.2h0M409.8 253.5h0M460.7 221.9h0M377.8 264.8h0M408.3 241.0h0M422.7 246.4h0M420.4 227.1h0M449.7 211.5h0M349.8 232.2h0M490.3 214.7h0M376.0 237.7h0M417.3 236.8h0M429.5 214.0h0M416.3 248.2h0M373.0 266.8h0M409.0 251.7h0M383.0 239.7h0M368.0 224.9h0M414.5 245.2h0M384.1 231.4h0M396.2 244.6h0M473.3 213.6h0M365.6 220.2h0M389.7 231.6h0M377.4 228.9h0M379.7 241.9h0M408.0 234.3h0M405.0 254.5h0M370.6 214.1h0M435.6 212.5h0M459.1 241.7h0M460.0 217.6h0M400.6 244.4h0M409.2 251.1h0M408.7 251.9h0M354.6 219.4h0M470.1 216.9h0M453.0 210.9h0M375.8 226.4h0M376.9 277.6h0M405.8 240.3h0M388.8 238.4h0M457.1 203.5h0M461.6 224.6h0M371.1 260.8h0M445.4 212.3h0M447.9 245.5h0M373.3 237.0h0M462.5 218.3h0M380.0 237.5h0M379.2 253.6h0M448.2 222.0h0M418.2 250.7h0M376.0 267.0h0M351.8 215.2h0M370.1 239.5h0M396.6 242.4h0M447.6 227.5h0M372.9 244.8h0M438.8 238.7h0M420.0 232.9h0M469.1 246.6h0M370.1 243.7h0M419.6 258.4h0M458.5 215.3h0M424.0 257.2h0M474.1 220.4h0M389.8 239.2h0M418.4 245.2h0M379.6 233.3h0M370.1 274.9h0M380.8 261.2h0M398.0 231.7h0M405.8 241.7h0M377.9 260.1h0M404.7 232.3h0M401.7 264.2h0M373.1 254.9h0M435.4 247.1h0M377.3 234.0h0M348.9 211.2h0M479.6 210.4h0M439.4 221.4h0M379.1 237.6h0M418.8 241.3h0M382.9 269.7h0M398.1 255.6h0M436.2 223.1h0M421.2 231.5h0M468.2 201.4h0M401.9 235.6h0M394.7 238.8h0M421.1 247.3h0M414.2 251.5h0M440.8 224.2h0M389.6 240.7h0M407.6 245.4h0M379.8 239.6h0M469.2 237.8h0M384.8 238.8h0M415.0 231.2h0M403.0 253.4h0M376.6 244.8h0M427.2 202.9h0M369.0 243.6h0M398.7 265.7h0M454.3 215.5h0M419.2 226.2h0M397.6 265.5h0M402.0 251.1h0M443.7 229.1h0M366.3 250.0h0M441.6 233.6h0M422.8 220.3h0M468.2 220.1h0M388.2 243.7h0M370.0 272.3h0M390.1 243.7h0M422.5 222.8h0M449.5 240.9h0M362.6 224.2h0M446.4 217.4h0M384.9 177.0h0M381.4 182.8h0M366.2 187.0h0M365.4 192.3h0M420.1 172.7h0M413.4 177.8h0M409.6 183.5h0M408.7 187.0h0M416.3 186.6h0M403.9 193.6h0M405.8 196.5h0M340.1 228.9h0M349.6 201.2h0M353.4 199.9h0M437.2 173.6h0M439.5 175.1h0M445.8 181.2h0M478.2 184.5h0M484.9 188.5h0M461.0 184.1h0M458.2 186.6h0M454.4 186.0h0M479.1 193.6h0M484.9 197.4h0M483.0 202.2h0M485.8 210.8h0M491.5 219.0h0M487.7 221.6h0M490.6 227.3h0M433.4 188.9h0M436.9 190.4h0M423.0 185.0h0M426.8 187.0h0M330.6 232.3h0M337.2 233.8h0M345.8 234.8h0M350.6 237.2h0M333.4 241.8h0M348.7 259.0h0M357.2 258.2h0M362.0 263.9h0M364.9 258.6h0M372.5 282.4h0M372.5 286.8h0M369.6 278.6h0M406.8 280.5h0M412.5 275.7h0M417.2 276.7h0M392.5 273.8h0M382.0 269.0h0M436.3 258.6h0M442.0 254.8h0M453.4 257.6h0M459.7 258.6h0M456.3 251.0h0M468.7 247.1h0M475.3 245.2h0M482.6 243.0h0M488.7 237.2h0M486.8 239.5h0M478.2 231.9h0M483.0 231.0h0M427.7 274.8h0M427.7 280.5h0M423.0 279.9h0M424.3 288.1h0M423.0 273.8h0" stroke="#B4B5B8" stroke-width="2.8" stroke-linecap="round" fill="none"/></g>
<line x1="322.20" y1="247.30" x2="521.00" y2="220.50" stroke="#555555" stroke-width="1.7" />
<rect x="322.2" y="167.5" width="198.80" height="125.90" fill="none" stroke="#8E8E8E" stroke-width="1.45"/>
<line x1="370.65" y1="293.40" x2="370.65" y2="298.40" stroke="#666" stroke-width="1.6" />
<text x="370.65" y="312.90" font-size="15.2" fill="#5A5A5A" text-anchor="middle" >−9</text>
<line x1="426.60" y1="293.40" x2="426.60" y2="298.40" stroke="#666" stroke-width="1.6" />
<text x="426.60" y="312.90" font-size="15.2" fill="#5A5A5A" text-anchor="middle" >−6</text>
<line x1="482.55" y1="293.40" x2="482.55" y2="298.40" stroke="#666" stroke-width="1.6" />
<text x="482.55" y="312.90" font-size="15.2" fill="#5A5A5A" text-anchor="middle" >−3</text>
<line x1="317.20" y1="174.30" x2="322.20" y2="174.30" stroke="#666" stroke-width="1.6" />
<text x="314.20" y="179.50" font-size="15.2" fill="#5A5A5A" text-anchor="end" >2</text>
<line x1="317.20" y1="204.70" x2="322.20" y2="204.70" stroke="#666" stroke-width="1.6" />
<text x="314.20" y="209.90" font-size="15.2" fill="#5A5A5A" text-anchor="end" >1</text>
<line x1="317.20" y1="235.10" x2="322.20" y2="235.10" stroke="#666" stroke-width="1.6" />
<text x="314.20" y="240.30" font-size="15.2" fill="#5A5A5A" text-anchor="end" >0</text>
<line x1="317.20" y1="265.50" x2="322.20" y2="265.50" stroke="#666" stroke-width="1.6" />
<text x="314.20" y="270.70" font-size="15.2" fill="#5A5A5A" text-anchor="end" >−1</text>
<text x="25.50" y="17.00" font-size="17" fill="#222" text-anchor="start" >a<tspan dx="0.8">)</tspan></text>
<text x="283.00" y="17.00" font-size="17" fill="#222" text-anchor="start" >b<tspan dx="0.8">)</tspan></text>
<text x="25.50" y="175.50" font-size="17" fill="#222" text-anchor="start" >c<tspan dx="0.8">)</tspan></text>
<text x="284.00" y="181.00" font-size="17" fill="#222" text-anchor="start" >d<tspan dx="0.8">)</tspan></text>
<text x="162.30" y="331.80" font-size="16.8" fill="#222" text-anchor="middle" >growth rate (mm/yr)</text>
<text x="367.2" y="331.6" font-size="16.8" fill="#222">Mean δ<tspan font-size="10.5" dy="-6.5">18</tspan><tspan dy="6.5">O (‰)</tspan></text>
<text x="0" y="0" font-size="16.6" fill="#222" transform="translate(15.6 221) rotate(-90)">f(δ<tspan font-size="10.5" dy="-6.5">18</tspan><tspan dy="6.5">O s.d.)</tspan></text>
</svg></body></html>
